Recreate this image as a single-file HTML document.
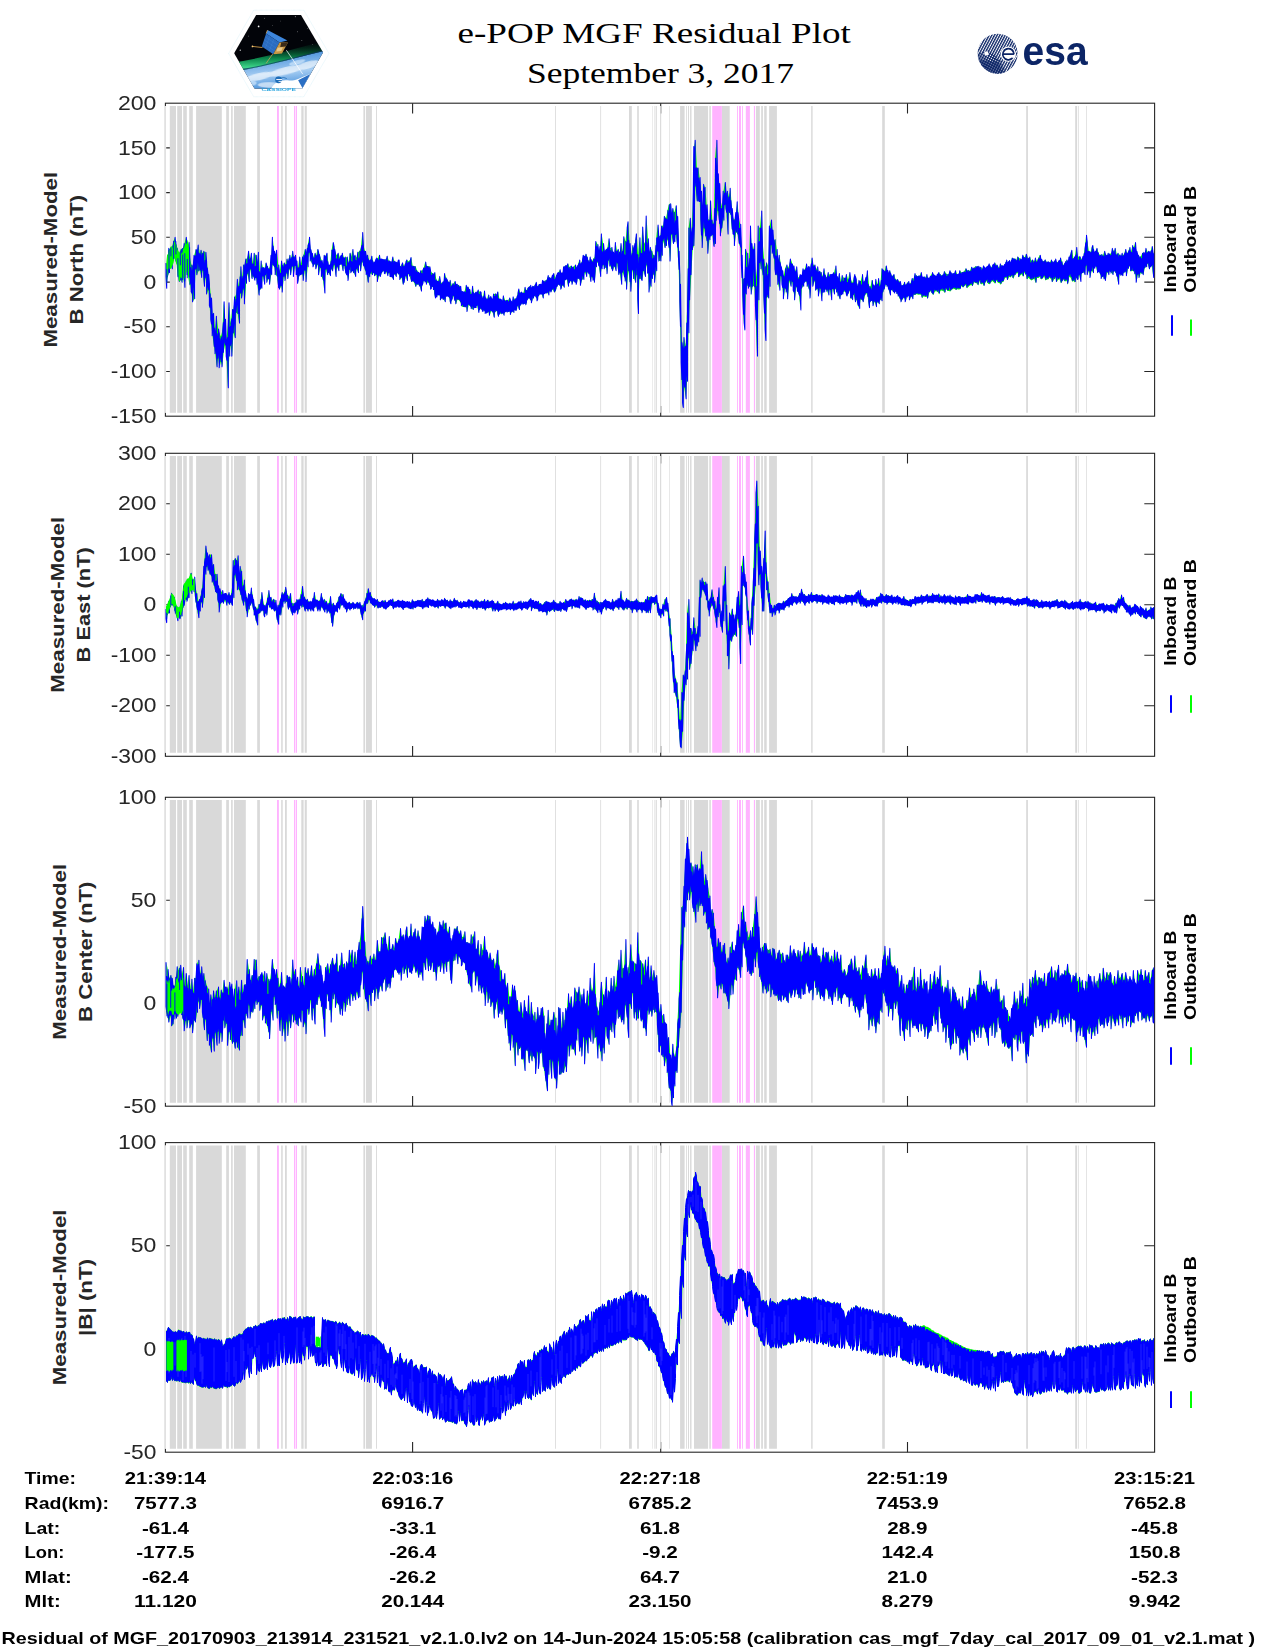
<!DOCTYPE html>
<html><head><meta charset="utf-8"><title>e-POP MGF Residual Plot</title>
<style>
html,body{margin:0;padding:0;background:#fff}
svg{display:block}
text{font-family:"Liberation Sans",sans-serif}
.tk{fill:#262626}
.b{font-weight:bold}
.ser{font-family:"Liberation Serif",serif}
</style></head><body>
<svg width="1275" height="1650" viewBox="0 0 1275 1650">
<rect width="1275" height="1650" fill="#fff"/>
<text x="654.2" y="42.7" font-size="28.5" text-anchor="middle" class="ser" textLength="393.3" lengthAdjust="spacingAndGlyphs">e-POP MGF Residual Plot</text>
<text x="660.5" y="82.8" font-size="28.5" text-anchor="middle" class="ser" textLength="267" lengthAdjust="spacingAndGlyphs">September 3, 2017</text>
<defs>
<clipPath id="hexc"><polygon points="150,512 385,105 860,105 1095,505 872,890 368,890"/></clipPath>
<linearGradient id="aur" x1="0" y1="0" x2="0" y2="1"><stop offset="0" stop-color="#003a20" stop-opacity="0"/><stop offset="0.55" stop-color="#0d9a55" stop-opacity="0.85"/><stop offset="0.85" stop-color="#3fd68a"/><stop offset="1" stop-color="#0a3050"/></linearGradient>
<linearGradient id="earth" x1="0" y1="0" x2="0.25" y2="1"><stop offset="0" stop-color="#2a72c8"/><stop offset="0.3" stop-color="#5e9fe0"/><stop offset="0.65" stop-color="#a4ccf2"/><stop offset="1" stop-color="#4f95dc"/></linearGradient>
<clipPath id="esac"><circle cx="997.6" cy="53.7" r="20"/></clipPath>
<pattern id="esah" width="2.35" height="2.35" patternUnits="userSpaceOnUse" patternTransform="rotate(-62 997 54)"><rect width="2.35" height="1.35" fill="#0c2566"/></pattern>
<pattern id="esah2" width="2.35" height="2.35" patternUnits="userSpaceOnUse" patternTransform="rotate(28 997 54)"><rect width="2.35" height="1.0" fill="#0c2566"/></pattern>
</defs>
<g id="cassiope" transform="translate(220 5) scale(0.094118)">
<polygon points="92,515 358,55 890,55 1158,515 890,975 358,975" fill="#fff" stroke="#bfe6f2" stroke-width="4.5" stroke-dasharray="8 5"/>
<g clip-path="url(#hexc)">
<rect x="140" y="100" width="970" height="800" fill="#020409"/>
<path d="M140,612 Q430,565 700,492 T1110,385 L1110,490 Q900,530 700,592 T140,712 Z" fill="url(#aur)"/>
<path d="M140,712 Q430,660 700,590 T1110,488 L1110,900 L140,900 Z" fill="url(#earth)"/>
<path d="M140,705 Q430,655 700,585 T1110,482" fill="none" stroke="#0b2f66" stroke-width="9" opacity="0.8"/>
<g fill="#fff" opacity="0.62"><ellipse cx="420" cy="760" rx="150" ry="38" transform="rotate(-12 420 760)"/><ellipse cx="700" cy="700" rx="190" ry="40" transform="rotate(-14 700 700)"/><ellipse cx="930" cy="640" rx="130" ry="38" transform="rotate(-16 930 640)"/><ellipse cx="520" cy="850" rx="120" ry="30"/></g>
<g fill="#dff0ff" opacity="0.6"><ellipse cx="330" cy="830" rx="60" ry="30"/><ellipse cx="820" cy="610" rx="90" ry="22" transform="rotate(-15 820 610)"/></g>
<path d="M540,900 C560,830 640,790 720,800 C790,808 820,790 960,730 L880,900 Z" fill="#fff"/>
<polygon points="830,800 960,732 880,890" fill="#2a6fc4"/>
<g fill="#fff"><circle cx="410" cy="228" r="9"/><circle cx="215" cy="480" r="6"/><circle cx="800" cy="125" r="5"/><circle cx="822" cy="285" r="4"/><circle cx="870" cy="375" r="4"/><circle cx="470" cy="140" r="3.5"/><circle cx="300" cy="330" r="3.5"/><circle cx="930" cy="250" r="3.5"/><circle cx="640" cy="170" r="3"/><circle cx="980" cy="420" r="3"/><circle cx="560" cy="215" r="3"/></g>
<path d="M705,480 L880,735" stroke="#fff" stroke-width="9" opacity="0.85"/>
<path d="M345,440 L452,452" stroke="#d8a24c" stroke-width="9"/><circle cx="345" cy="440" r="9" fill="#ffcf7a"/>
<path d="M560,520 L490,620" stroke="#c9a45c" stroke-width="8"/>
<polygon points="505,266 716,376 632,398 490,302" fill="#3d86dc"/>
<polygon points="490,302 632,398 566,522 444,440" fill="#2b6cc0"/>
<g stroke="#5a9be6" stroke-width="3" opacity="0.7"><path d="M478,335 L615,428"/><path d="M466,368 L598,458"/><path d="M455,402 L582,490"/><path d="M530,330 L480,462"/><path d="M575,360 L520,492"/></g>
<polygon points="632,398 722,398 658,516 566,522" fill="#c99846"/>
<polygon points="650,402 722,398 700,442 640,446" fill="#3a2a18"/>
<polygon points="612,455 668,450 652,490 598,494" fill="#e9c98a"/>
<path d="M490,302 L505,266" stroke="#d8a24c" stroke-width="8"/>
</g>
<circle cx="622" cy="795" r="36" fill="#1e6db8"/><rect x="598" y="787" width="60" height="10" fill="#fff"/><path d="M640,778 q40,-18 70,4" stroke="#1e6db8" stroke-width="8" fill="none"/><path d="M622,812 h40" stroke="#fff" stroke-width="9"/>
<text x="440" y="914" font-size="44" font-weight="bold" fill="#2aa6e0" textLength="366" lengthAdjust="spacingAndGlyphs" style="font-family:'Liberation Sans',sans-serif">CASSIOPE</text>
</g>
<g id="esa">
<g clip-path="url(#esac)">
<rect x="977" y="33" width="42" height="42" fill="url(#esah)"/>
<path d="M977.6,53.7 A20,20 0 0 0 1006,72 L1000,60 L988,50 Z" fill="url(#esah2)"/>
<path d="M979,60 A20,20 0 0 0 1003,73 L998,62 Z" fill="#0c2566" opacity="0.55"/>
</g>
<circle cx="1008.3" cy="54.1" r="7.7" fill="#fff"/>
<path d="M1013.9,54.2 H1002.8 M1014.0,54.2 A5.6,5.6 0 1 0 1012.4,58.2" stroke="#0c2566" stroke-width="1.7" fill="none"/>
<path d="M1004.2,58.6 q4.2,2.6 9,-0.6 M1003.4,50.2 q5,-3.4 10,0" stroke="#0c2566" stroke-width="0.8" fill="none"/>
<circle cx="986.4" cy="53.4" r="2.1" fill="#fff"/>
<text x="1022.6" y="65.2" font-size="41.5" font-weight="bold" fill="#0c2566" textLength="65" lengthAdjust="spacingAndGlyphs" style="font-family:'Liberation Sans',sans-serif">esa</text>
</g>
<g id="panel1">
<rect x="165.4" y="103.2" width="989.2" height="313" fill="none" stroke="#262626" stroke-width="1.1"/>
<text x="156.4" y="109.8" font-size="20.6" text-anchor="end" class="tk" textLength="38.5" lengthAdjust="spacingAndGlyphs">200</text>
<text x="156.4" y="154.5" font-size="20.6" text-anchor="end" class="tk" textLength="38.5" lengthAdjust="spacingAndGlyphs">150</text>
<text x="156.4" y="199.2" font-size="20.6" text-anchor="end" class="tk" textLength="38.5" lengthAdjust="spacingAndGlyphs">100</text>
<text x="156.4" y="243.9" font-size="20.6" text-anchor="end" class="tk" textLength="25.6" lengthAdjust="spacingAndGlyphs">50</text>
<text x="156.4" y="288.7" font-size="20.6" text-anchor="end" class="tk" textLength="12.8" lengthAdjust="spacingAndGlyphs">0</text>
<text x="156.4" y="333.4" font-size="20.6" text-anchor="end" class="tk" textLength="32.9" lengthAdjust="spacingAndGlyphs">-50</text>
<text x="156.4" y="378.1" font-size="20.6" text-anchor="end" class="tk" textLength="45.7" lengthAdjust="spacingAndGlyphs">-100</text>
<text x="156.4" y="422.8" font-size="20.6" text-anchor="end" class="tk" textLength="45.7" lengthAdjust="spacingAndGlyphs">-150</text>
<path d="M412.6 103.2v10.3M412.6 416.2v-10.3M660.7 103.2v10.3M660.7 416.2v-10.3M907.5 103.2v10.3M907.5 416.2v-10.3M165.4 147.9h10.3M1154.6 147.9h-10.3M165.4 192.6h10.3M1154.6 192.6h-10.3M165.4 237.3h10.3M1154.6 237.3h-10.3M165.4 282.1h10.3M1154.6 282.1h-10.3M165.4 326.8h10.3M1154.6 326.8h-10.3M165.4 371.5h10.3M1154.6 371.5h-10.3" stroke="#262626" stroke-width="1.1" fill="none"/>
<path d="M169.8 106H176V412.7H169.8ZM177.2 106H182V412.7H177.2ZM183.2 106H186.8V412.7H183.2ZM189.2 106H192.8V412.7H189.2ZM196.1 106H221.8V412.7H196.1ZM226.2 106H228.9V412.7H226.2ZM231.1 106H232.7V412.7H231.1ZM234 106H245.8V412.7H234ZM257.2 106H259.9V412.7H257.2ZM281.2 106H282.7V412.7H281.2ZM285 106H286.8V412.7H285ZM301.3 106H303.6V412.7H301.3ZM304.7 106H306.8V412.7H304.7ZM363.4 106H365V412.7H363.4ZM365.9 106H371.9V412.7H365.9ZM376 106H376.9V412.7H376ZM555.1 106H555.9V412.7H555.1ZM600.3 106H601.1V412.7H600.3ZM629 106H631.8V412.7H629ZM637.2 106H638.8V412.7H637.2ZM652.3 106H652.8V412.7H652.3ZM654.5 106H655.4V412.7H654.5ZM656 106H656.8V412.7H656ZM660.1 106H661.2V412.7H660.1ZM669.3 106H669.9V412.7H669.3ZM680.1 106H684.6V412.7H680.1ZM686 106H686.8V412.7H686ZM688 106H689V412.7H688ZM690.1 106H691.5V412.7H690.1ZM694 106H708.1V412.7H694ZM709.3 106H710.8V412.7H709.3ZM721.9 106H729.7V412.7H721.9ZM755.9 106H759.8V412.7H755.9ZM761.2 106H762.9V412.7H761.2ZM764.2 106H766.7V412.7H764.2ZM769.1 106H776.9V412.7H769.1ZM811.2 106H812.6V412.7H811.2ZM882.2 106H884.8V412.7H882.2ZM1026.2 106H1027.9V412.7H1026.2ZM1075.2 106H1077V412.7H1075.2ZM1077.9 106H1078.7V412.7H1077.9ZM1086.1 106H1086.8V412.7H1086.1Z" fill="#d9d9d9"/>
<path d="M277 106H278.9V412.7H277ZM294 106H295.2V412.7H294ZM295.8 106H297V412.7H295.8ZM712.2 106H721.9V412.7H712.2ZM737.1 106H738V412.7H737.1ZM739 106H741V412.7H739ZM742 106H742.9V412.7H742ZM745.8 106H749.9V412.7H745.8ZM753.9 106H755V412.7H753.9Z" fill="#ffb3ff"/>
<path d="M165.4 106V412.7" stroke="#fff" stroke-width="1.6"/>
<path d="M165.4 106V412.7" stroke="#d4d4d4" stroke-width="0.8"/>
<text x="57.5" y="259.7" font-size="18.4" text-anchor="middle" class="b" transform="rotate(-90 57.5 259.7)" fill="#262626" textLength="175.8" lengthAdjust="spacingAndGlyphs">Measured-Model</text>
<text x="83.1" y="259.7" font-size="18.4" text-anchor="middle" class="b" transform="rotate(-90 83.1 259.7)" fill="#262626" textLength="129.7" lengthAdjust="spacingAndGlyphs">B North (nT)</text>
<text x="1176" y="292.5" font-size="16" text-anchor="start" class="b" transform="rotate(-90 1176 292.5)" textLength="89" lengthAdjust="spacingAndGlyphs">Inboard B</text>
<text x="1196.3" y="292.7" font-size="16" text-anchor="start" class="b" transform="rotate(-90 1196.3 292.7)" textLength="106.8" lengthAdjust="spacingAndGlyphs">Outboard B</text>
<path d="M1172.0 315.2V335.8" stroke="#0000ff" stroke-width="2"/>
<path d="M1191 319.4V335.8" stroke="#00ff00" stroke-width="2"/>
<polygon points="166.3,263.1 167.7,265.5 169.1,248.6 170.5,249.3 171.9,247.5 173.3,241.4 174.7,237.4 176.1,245.1 177.5,248 178.9,252.6 180.3,266.2 181.7,248.5 183.1,247.9 184.5,243.2 185.9,237.5 187.3,246.9 188.7,242.8 190.1,258.5 191.5,265 192.9,265.9 194.3,255.3 195.7,249.6 197.1,251.4 198.5,245.3 199.9,254.2 201.3,250.1 202.7,253.4 204.1,251.5 205.5,252.5 206.9,261.9 208.3,274.5 209.7,284 211.1,297.9 212.5,313.7 213.9,313.6 215.3,332 216.7,316.1 218.1,328.9 219.5,333.5 220.9,336.6 222.3,330.8 223.7,301.8 225.1,319.4 226.5,339.6 227.9,324 229.3,302.9 230.7,323.3 232.1,309.7 233.5,309 234.9,297.1 236.3,293.7 237.7,279.6 239.1,286.4 240.5,267 241.9,280.2 243.3,265.1 244.7,264.5 246.1,259.3 247.5,257.4 248.9,251.5 250.3,259.1 251.7,253.4 253.1,263.9 254.5,253.2 255.9,255.3 257.3,264 258.7,252.5 260.1,274.2 261.5,261.2 262.9,267.7 264.3,269 265.7,263.1 267.1,265.8 268.5,269 269.9,266.5 271.3,255.2 272.7,237.5 274.1,251.5 275.5,255 276.9,250.5 278.3,265.1 279.7,271.9 281.1,261.2 282.5,266 283.9,263.1 285.3,265 286.7,258.9 288.1,261.5 289.5,255.3 290.9,259.6 292.3,251.5 293.7,257.3 295.1,255.4 296.5,261.2 297.9,268.9 299.3,257.3 300.7,265.3 302.1,257.3 303.5,255.3 304.9,249.6 306.3,252.3 307.7,245.6 309.1,237.5 310.5,247.8 311.9,253.4 313.3,257.6 314.7,253.4 316.1,256.1 317.5,249.1 318.9,251.9 320.3,257.1 321.7,260.3 323.1,265.3 324.5,255 325.9,255.7 327.3,253.4 328.7,265.5 330.1,265.1 331.5,250.5 332.9,242.8 334.3,246.4 335.7,253.4 337.1,255.4 338.5,253.4 339.9,257.5 341.3,255.8 342.7,253.4 344.1,258 345.5,257.3 346.9,257.3 348.3,263.8 349.7,253.4 351.1,256.7 352.5,249.6 353.9,257.1 355.3,255.4 356.7,257.8 358.1,252.2 359.5,251.1 360.9,247.7 362.3,232.4 363.7,246.1 365.1,251.2 366.5,255.7 367.9,255.1 369.3,260.6 370.7,259.7 372.1,255.9 373.5,262.8 374.9,262 376.3,258.3 377.7,258.8 379.1,255 380.5,259.3 381.9,259.3 383.3,259.8 384.7,259.5 386.1,259.5 387.5,256.4 388.9,261 390.3,261.8 391.7,261.5 393.1,257.3 394.5,261.4 395.9,262.3 397.3,262.8 398.7,260.2 400.1,266.7 401.5,264.7 402.9,263.1 404.3,266.6 405.7,261.6 407.1,260 408.5,261.5 409.9,260 411.3,257.4 412.7,266 414.1,265.9 415.5,266 416.9,270.1 418.3,271.9 419.7,273.2 421.1,270.5 422.5,270.6 423.9,266.9 425.3,261.7 426.7,266.1 428.1,266.1 429.5,266.2 430.9,271.2 432.3,273.3 433.7,273.7 435.1,272.7 436.5,280.1 437.9,281.4 439.3,276.6 440.7,281.7 442.1,283.2 443.5,282.1 444.9,273.8 446.3,278.1 447.7,280.6 449.1,282.8 450.5,280.6 451.9,285.8 453.3,283.8 454.7,281.5 456.1,284.6 457.5,284.4 458.9,285.5 460.3,286.1 461.7,291.4 463.1,292 464.5,291.7 465.9,285.4 467.3,287.1 468.7,288.1 470.1,289.8 471.5,294.3 472.9,286.4 474.3,294 475.7,292.2 477.1,292.3 478.5,290.3 479.9,292 481.3,292.4 482.7,298.4 484.1,290.8 485.5,297.9 486.9,299.8 488.3,294.6 489.7,298.5 491.1,296.4 492.5,299.6 493.9,294 495.3,293.7 496.7,294.6 498.1,291.9 499.5,299.1 500.9,299.1 502.3,300.9 503.7,295.8 505.1,300.2 506.5,299.9 507.9,300.8 509.3,298.1 510.7,300.3 512.1,302.6 513.5,297.1 514.9,299.2 516.3,298.8 517.7,292.9 519.1,289.3 520.5,292.9 521.9,292.3 523.3,293.3 524.7,287.4 526.1,290.6 527.5,288.5 528.9,287 530.3,285.5 531.7,288.2 533.1,286.4 534.5,285.8 535.9,282.5 537.3,287 538.7,284.7 540.1,284.5 541.5,284.9 542.9,280.6 544.3,281.3 545.7,280.4 547.1,279.1 548.5,275.8 549.9,277.9 551.3,278.1 552.7,274.9 554.1,273.8 555.5,278.2 556.9,274 558.3,272.6 559.7,269.9 561.1,273.2 562.5,273.3 563.9,266.9 565.3,265.5 566.7,265.6 568.1,263.4 569.5,267.2 570.9,265.8 572.3,267.3 573.7,266.8 575.1,264.7 576.5,267.9 577.9,264.8 579.3,260.1 580.7,264.2 582.1,260.4 583.5,255.2 584.9,256.3 586.3,254 587.7,257.7 589.1,263 590.5,257.3 591.9,261.4 593.3,258.7 594.7,257 596.1,241.5 597.5,244.2 598.9,251.3 600.3,246.2 601.7,233.9 603.1,243.7 604.5,250.7 605.9,249.6 607.3,248.4 608.7,238.9 610.1,248.1 611.5,247.6 612.9,252.1 614.3,254.3 615.7,242.8 617.1,251.4 618.5,249.5 619.9,252.4 621.3,243.5 622.7,251.7 624.1,237 625.5,241.5 626.9,227.2 628.3,221.9 629.7,243.7 631.1,256.1 632.5,245.7 633.9,248.4 635.3,240.3 636.7,233.3 638.1,255.1 639.5,237.8 640.9,253.3 642.3,226.9 643.7,241.3 645.1,243.9 646.5,215.8 647.9,238.8 649.3,252.7 650.7,247.4 652.1,251.2 653.5,255 654.9,255.9 656.3,237.6 657.7,224.9 659.1,236.5 660.5,235.5 661.9,225.8 663.3,225.5 664.7,216.1 666.1,218.3 667.5,210.3 668.9,204.5 670.3,203.2 671.7,213.1 673.1,208.4 674.5,212.6 675.9,205.6 677.3,216 678.7,237.8 680.1,274.5 681.5,335.2 682.9,348.3 684.3,337.8 685.7,346.3 687.1,307.9 688.5,228.2 689.9,218.5 691.3,234.1 692.7,204.7 694.1,146.8 695.5,140.5 696.9,168.1 698.3,168.1 699.7,177.8 701.1,191.4 702.5,207.6 703.9,184.6 705.3,187.5 706.7,204.9 708.1,219 709.5,219.9 710.9,200 712.3,219.9 713.7,223.7 715.1,158 716.5,139.6 717.9,173.3 719.3,183 720.7,201.3 722.1,206.8 723.5,191.1 724.9,182.5 726.3,193.4 727.7,191.4 729.1,197.1 730.5,188.4 731.9,208.7 733.3,218.3 734.7,219.4 736.1,212.7 737.5,202 738.9,218.4 740.3,224.4 741.7,246.5 743.1,279.1 744.5,278.7 745.9,249.6 747.3,253.4 748.7,268.8 750.1,226 751.5,243.5 752.9,249.9 754.3,243.7 755.7,279.6 757.1,267.8 758.5,226.3 759.9,228.2 761.3,211.2 762.7,242.3 764.1,259.3 765.5,267 766.9,263 768.3,266.2 769.7,225.7 771.1,219.5 772.5,229.2 773.9,240.7 775.3,238.9 776.7,248.9 778.1,261.3 779.5,255 780.9,264.9 782.3,270.5 783.7,275.9 785.1,268.2 786.5,264.9 787.9,268.2 789.3,264.9 790.7,258.7 792.1,263.1 793.5,265.9 794.9,272 796.3,267 797.7,276.5 799.1,277.8 800.5,274.8 801.9,275.3 803.3,269 804.7,270.1 806.1,264.1 807.5,268.3 808.9,266.6 810.3,268.2 811.7,258.3 813.1,264.5 814.5,265.1 815.9,269.5 817.3,267 818.7,272.5 820.1,271.6 821.5,272.8 822.9,276.6 824.3,269 825.7,275.9 827.1,277.3 828.5,272.8 829.9,275 831.3,274.8 832.7,274.4 834.1,272.8 835.5,266.1 836.9,276.8 838.3,278.4 839.7,273.8 841.1,282.3 842.5,275.4 843.9,278 845.3,278.4 846.7,274.3 848.1,280.1 849.5,272.2 850.9,279.3 852.3,282.7 853.7,277.9 855.1,274.8 856.5,279.6 857.9,287.6 859.3,280.6 860.7,281.3 862.1,274.8 863.5,282 864.9,280.2 866.3,277.3 867.7,270.4 869.1,286 870.5,286.5 871.9,279.7 873.3,284.9 874.7,286 876.1,279.5 877.5,284.4 878.9,278.4 880.3,285 881.7,268.2 883.1,270 884.5,271.6 885.9,265.7 887.3,270.5 888.7,273.1 890.1,270.9 891.5,275.4 892.9,275.7 894.3,274.8 895.7,279.8 897.1,279.6 898.5,281.1 899.9,281.6 901.3,285.3 902.7,285.7 904.1,282.5 905.5,285 906.9,283.2 908.3,281.5 909.7,284 911.1,282.1 912.5,278.2 913.9,278.5 915.3,273.7 916.7,275.9 918.1,276.1 919.5,276 920.9,272.8 922.3,277.1 923.7,276.9 925.1,278.1 926.5,274.8 927.9,278.2 929.3,278.2 930.7,275.8 932.1,272.8 933.5,274.5 934.9,275.6 936.3,276.3 937.7,274 939.1,272.4 940.5,274.5 941.9,275.5 943.3,274.5 944.7,270.9 946.1,273.4 947.5,274.6 948.9,273.6 950.3,270.9 951.7,273.8 953.1,273.8 954.5,272.9 955.9,270.9 957.3,274.5 958.7,274.2 960.1,270.4 961.5,272.4 962.9,271.9 964.3,271.2 965.7,268.2 967.1,270.6 968.5,270.1 969.9,270.9 971.3,266.9 972.7,268.7 974.1,267.4 975.5,266.3 976.9,266.4 978.3,266.4 979.7,267.9 981.1,267.3 982.5,268.8 983.9,266.1 985.3,268.5 986.7,267.2 988.1,265.9 989.5,264.1 990.9,267.9 992.3,265.6 993.7,264.5 995.1,263.1 996.5,265.3 997.9,266.1 999.3,268 1000.7,264.1 1002.1,265.9 1003.5,266.2 1004.9,264.6 1006.3,260.2 1007.7,262.8 1009.1,260.4 1010.5,262.9 1011.9,258.1 1013.3,258.4 1014.7,258.4 1016.1,260.4 1017.5,256.5 1018.9,257.9 1020.3,258.5 1021.7,259.9 1023.1,255.3 1024.5,257.5 1025.9,254.4 1027.3,256.9 1028.7,258.5 1030.1,257.3 1031.5,260.9 1032.9,260 1034.3,261.3 1035.7,257.9 1037.1,261.4 1038.5,257.8 1039.9,254.8 1041.3,258.9 1042.7,261.1 1044.1,261.2 1045.5,259.4 1046.9,262.6 1048.3,261.5 1049.7,262.7 1051.1,259.8 1052.5,261.7 1053.9,262.2 1055.3,259 1056.7,262.5 1058.1,261.8 1059.5,260.6 1060.9,258.3 1062.3,262 1063.7,265.7 1065.1,262 1066.5,260.2 1067.9,261.7 1069.3,257.2 1070.7,253 1072.1,250.3 1073.5,258.6 1074.9,256.4 1076.3,247.3 1077.7,256.3 1079.1,256.8 1080.5,257.2 1081.9,259.3 1083.3,256.7 1084.7,248.8 1086.1,235.4 1087.5,242.3 1088.9,251.5 1090.3,252.4 1091.7,247.7 1093.1,245.7 1094.5,252.3 1095.9,250.8 1097.3,248.6 1098.7,253.4 1100.1,255 1101.5,254.2 1102.9,255.7 1104.3,250.9 1105.7,254.3 1107.1,255.4 1108.5,253.2 1109.9,254.1 1111.3,253.1 1112.7,248.6 1114.1,252.1 1115.5,248.1 1116.9,255.3 1118.3,253.2 1119.7,254.8 1121.1,256.6 1122.5,253.4 1123.9,255.2 1125.3,249.6 1126.7,253.3 1128.1,252.1 1129.5,247.6 1130.9,252.4 1132.3,245.7 1133.7,247.6 1135.1,242.8 1136.5,251.5 1137.9,254.3 1139.3,256.7 1140.7,257 1142.1,253.4 1143.5,252.4 1144.9,253.5 1146.3,248.6 1147.7,252.3 1149.1,251.5 1150.5,251.7 1151.9,246.5 1153.3,252.8 1153.3,277.6 1151.9,265.6 1150.5,266.9 1149.1,268.9 1147.7,263.3 1146.3,267 1144.9,267.8 1143.5,274.6 1142.1,273.5 1140.7,272.9 1139.3,277.8 1137.9,274.5 1136.5,282.4 1135.1,274.2 1133.7,271.3 1132.3,270.7 1130.9,271.5 1129.5,266 1128.1,268.3 1126.7,275.8 1125.3,271.6 1123.9,272.4 1122.5,275.5 1121.1,275.1 1119.7,273.8 1118.3,284.1 1116.9,276.3 1115.5,272.4 1114.1,270.9 1112.7,274.4 1111.3,272.8 1109.9,271.1 1108.5,274.4 1107.1,272 1105.7,280.3 1104.3,278.9 1102.9,276.3 1101.5,278.4 1100.1,273.9 1098.7,271.6 1097.3,272.4 1095.9,266.1 1094.5,267.7 1093.1,272.4 1091.7,270.4 1090.3,277.3 1088.9,270.8 1087.5,274.4 1086.1,265.4 1084.7,274.4 1083.3,272.3 1081.9,273 1080.5,281.2 1079.1,274.7 1077.7,279.2 1076.3,277.7 1074.9,282.4 1073.5,280.9 1072.1,281.7 1070.7,277.7 1069.3,276.8 1067.9,284.8 1066.5,280.8 1065.1,281.5 1063.7,279.4 1062.3,281.4 1060.9,283.2 1059.5,279.3 1058.1,279.7 1056.7,282.3 1055.3,278 1053.9,279.7 1052.5,282.3 1051.1,279.2 1049.7,277.5 1048.3,279.4 1046.9,279.4 1045.5,280.6 1044.1,276.4 1042.7,278.6 1041.3,279.5 1039.9,276.7 1038.5,277.9 1037.1,277.9 1035.7,283.2 1034.3,279.1 1032.9,279.5 1031.5,280.5 1030.1,279.6 1028.7,277.8 1027.3,279.5 1025.9,275 1024.5,272.5 1023.1,276.9 1021.7,274.2 1020.3,275.4 1018.9,277.5 1017.5,272.7 1016.1,273.7 1014.7,275.5 1013.3,278.9 1011.9,275.7 1010.5,277.4 1009.1,276.7 1007.7,280.3 1006.3,277.6 1004.9,278.1 1003.5,281.7 1002.1,282.2 1000.7,284.7 999.3,282.9 997.9,282.8 996.5,280.5 995.1,283.7 993.7,282.3 992.3,280.9 990.9,282.4 989.5,284.3 988.1,283.8 986.7,281.1 985.3,283.1 983.9,286.3 982.5,283.6 981.1,284.5 979.7,281.1 978.3,285.4 976.9,283.4 975.5,282.9 974.1,282.3 972.7,286.2 971.3,285 969.9,285.6 968.5,286.8 967.1,288.3 965.7,285.1 964.3,286.2 962.9,287.5 961.5,286 960.1,289.3 958.7,289.6 957.3,289.2 955.9,290 954.5,289.1 953.1,288.8 951.7,289.7 950.3,291.5 948.9,291 947.5,291.1 946.1,288.9 944.7,292.9 943.3,291.1 941.9,290.4 940.5,290.7 939.1,294.2 937.7,291.9 936.3,291.2 934.9,291.4 933.5,295 932.1,293.8 930.7,291.1 929.3,292.4 927.9,298.7 926.5,296.7 925.1,296.9 923.7,296.3 922.3,298.2 920.9,294.8 919.5,294.6 918.1,294.7 916.7,294.1 915.3,295.1 913.9,294.5 912.5,298.7 911.1,296.1 909.7,299.6 908.3,295.6 906.9,296.8 905.5,301.7 904.1,297.7 902.7,299.1 901.3,301.8 899.9,299 898.5,296.2 897.1,293.6 895.7,291.4 894.3,293 892.9,291.3 891.5,289.6 890.1,294.8 888.7,289.7 887.3,286 885.9,284.2 884.5,288.8 883.1,292.2 881.7,300.6 880.3,299.7 878.9,303.5 877.5,301.9 876.1,306.4 874.7,301.5 873.3,305.4 871.9,300.5 870.5,301.3 869.1,307.5 867.7,297.1 866.3,292.9 864.9,295.7 863.5,302.2 862.1,300 860.7,299.2 859.3,308.6 857.9,305.4 856.5,299.9 855.1,301.6 853.7,294.2 852.3,299.4 850.9,297.9 849.5,290.5 848.1,294.3 846.7,296.2 845.3,292.1 843.9,291.2 842.5,294.2 841.1,295.1 839.7,299 838.3,295.6 836.9,292 835.5,288.6 834.1,293.9 832.7,288.4 831.3,299.6 829.9,289.2 828.5,294.8 827.1,291 825.7,289 824.3,291.8 822.9,292 821.5,300.6 820.1,288.1 818.7,295.7 817.3,288.7 815.9,289.9 814.5,280.7 813.1,286 811.7,275.9 810.3,297.7 808.9,288.9 807.5,286 806.1,280.9 804.7,281.9 803.3,286 801.9,287.9 800.5,309.7 799.1,295.2 797.7,291.4 796.3,286.5 794.9,299.6 793.5,291.5 792.1,281.4 790.7,286.1 789.3,280.9 787.9,298.9 786.5,291.9 785.1,287.9 783.7,298.6 782.3,287.2 780.9,275.8 779.5,289.9 778.1,284.1 776.7,274.6 775.3,274.4 773.9,258.1 772.5,253 771.1,244.8 769.7,286 768.3,297.7 766.9,296.9 765.5,340.5 764.1,313 762.7,274.7 761.3,268.6 759.9,262.5 758.5,299.7 757.1,355.9 755.7,319.7 754.3,286.6 752.9,286 751.5,293.8 750.1,286 748.7,288 747.3,285.2 745.9,293.8 744.5,329.7 743.1,314 741.7,277.4 740.3,246.9 738.9,243.4 737.5,234.1 736.1,231.9 734.7,245.3 733.3,234.2 731.9,229.2 730.5,214.5 729.1,212.3 727.7,233.7 726.3,212.1 724.9,204.4 723.5,220.1 722.1,227.8 720.7,235.6 719.3,223.4 717.9,210.4 716.5,220.1 715.1,243.3 713.7,246.3 712.3,234.5 710.9,235.6 709.5,239.5 708.1,253 706.7,240.5 705.3,235.8 703.9,227.9 702.5,247.2 701.1,234.8 699.7,201.4 698.3,200.8 696.9,200.7 695.5,186.1 694.1,245.4 692.7,249.2 691.3,274.4 689.9,299.6 688.5,332.7 687.1,381.1 685.7,398.5 684.3,386.9 682.9,407.3 681.5,379.3 680.1,326.2 678.7,269.2 677.3,247.3 675.9,234.3 674.5,242 673.1,244 671.7,234 670.3,261.7 668.9,247.9 667.5,239.6 666.1,245.5 664.7,247.4 663.3,241.1 661.9,255.1 660.5,260.9 659.1,261 657.7,251 656.3,270.5 654.9,282.1 653.5,274.1 652.1,278.3 650.7,286 649.3,291.8 647.9,272.9 646.5,264.7 645.1,276.3 643.7,270.5 642.3,280.2 640.9,279 639.5,278.4 638.1,313.2 636.7,274.4 635.3,282.1 633.9,278.3 632.5,269.8 631.1,290.9 629.7,281.4 628.3,270.5 626.9,289 625.5,280.9 624.1,276.5 622.7,272.1 621.3,284.3 619.9,272.9 618.5,274.4 617.1,262.8 615.7,270.5 614.3,266.2 612.9,270.5 611.5,268.8 610.1,265.7 608.7,259.9 607.3,273.4 605.9,267.4 604.5,268.6 603.1,264.5 601.7,268.6 600.3,276.3 598.9,266 597.5,261.9 596.1,266.9 594.7,282.2 593.3,279.9 591.9,276.6 590.5,281.2 589.1,273.5 587.7,272.1 586.3,276.3 584.9,271.9 583.5,279.2 582.1,279.4 580.7,285.1 579.3,278.9 577.9,278.3 576.5,284.1 575.1,281.9 573.7,280.8 572.3,284.1 570.9,280.8 569.5,282.5 568.1,286 566.7,279.1 565.3,279.6 563.9,287.1 562.5,285.2 561.1,289.2 559.7,285.3 558.3,284.5 556.9,286.8 555.5,291.4 554.1,292.3 552.7,289.3 551.3,291.7 549.9,290.7 548.5,294.8 547.1,292.5 545.7,292.9 544.3,293.5 542.9,297.7 541.5,294 540.1,293.9 538.7,295.5 537.3,300.6 535.9,297 534.5,295.7 533.1,297.9 531.7,302.6 530.3,299.8 528.9,297.8 527.5,299.5 526.1,304.5 524.7,303.4 523.3,303.9 521.9,303.4 520.5,305.3 519.1,309.4 517.7,305.7 516.3,310.3 514.9,309.7 513.5,312.2 512.1,311.6 510.7,314.2 509.3,311.3 507.9,311.7 506.5,311.6 505.1,311.9 503.7,315.1 502.3,313.1 500.9,313.5 499.5,314.1 498.1,316.3 496.7,310.7 495.3,311.9 493.9,317.3 492.5,312.1 491.1,310.9 489.7,315.7 488.3,312 486.9,312.8 485.5,313.2 484.1,310.2 482.7,311.1 481.3,309 479.9,309.2 478.5,312.2 477.1,305.2 475.7,307.2 474.3,307.7 472.9,309.5 471.5,308.5 470.1,306 468.7,305 467.3,311.5 465.9,306.8 464.5,307.1 463.1,306.9 461.7,306.4 460.3,301.9 458.9,300.3 457.5,299.4 456.1,303.9 454.7,300.5 453.3,296.1 451.9,300.2 450.5,303.7 449.1,297.4 447.7,296.1 446.3,296 444.9,301.5 443.5,299.2 442.1,297.9 440.7,299.6 439.3,294.7 437.9,294.9 436.5,296.7 435.1,297.7 433.7,289.3 432.3,286.3 430.9,288.9 429.5,284.8 428.1,281.9 426.7,284.1 425.3,281.7 423.9,280.5 422.5,284.9 421.1,290.9 419.7,285.9 418.3,284.5 416.9,284.4 415.5,286.9 414.1,282.5 412.7,281.1 411.3,281.9 409.9,276.7 408.5,273.8 407.1,280.6 405.7,276.1 404.3,282.5 402.9,284.3 401.5,277.6 400.1,279.5 398.7,273.9 397.3,272.8 395.9,276.3 394.5,274 393.1,279.2 391.7,276.9 390.3,276.4 388.9,272.6 387.5,275.4 386.1,271.7 384.7,273.5 383.3,270.7 381.9,272.4 380.5,276.4 379.1,275.7 377.7,281.5 376.3,274.8 374.9,275.9 373.5,272.9 372.1,275 370.7,273.1 369.3,276.7 367.9,282.2 366.5,274.4 365.1,270 363.7,266.1 362.3,261.8 360.9,270.5 359.5,264.6 358.1,272.4 356.7,268.8 355.3,276.3 353.9,272.5 352.5,270.8 351.1,272.4 349.7,269.3 348.3,280.3 346.9,274.7 345.5,272.9 344.1,265.3 342.7,270.5 341.3,264.1 339.9,264.3 338.5,270.5 337.1,266.8 335.7,276.3 334.3,264.7 332.9,270.5 331.5,268.9 330.1,275.7 328.7,272.6 327.3,274.8 325.9,269.3 324.5,293.2 323.1,280.5 321.7,276.4 320.3,267.4 318.9,274.5 317.5,264.4 316.1,268.6 314.7,263.7 313.3,266.6 311.9,263.1 310.5,260.8 309.1,252.6 307.7,266.7 306.3,281.2 304.9,270.1 303.5,280.2 302.1,274.1 300.7,274.4 299.3,275.8 297.9,283.1 296.5,274.4 295.1,265.4 293.7,276.3 292.3,265.9 290.9,274.4 289.5,268.8 288.1,278.3 286.7,273.1 285.3,280.2 283.9,276 282.5,291.8 281.1,285.7 279.7,288.9 278.3,287.5 276.9,275.9 275.5,274.4 274.1,266.4 272.7,264.7 271.3,274.4 269.9,284.1 268.5,278.6 267.1,282.1 265.7,274.6 264.3,284.1 262.9,275.8 261.5,288.3 260.1,289.5 258.7,294.8 257.3,284.1 255.9,277.4 254.5,280 253.1,275.9 251.7,278.3 250.3,269 248.9,281.2 247.5,273.4 246.1,283.3 244.7,304.1 243.3,289.4 241.9,298.1 240.5,293.2 239.1,323.2 237.7,313.7 236.3,312.8 234.9,338.1 233.5,332.8 232.1,356.1 230.7,345.3 229.3,355.9 227.9,387.5 226.5,360 225.1,344.7 223.7,352 222.3,366.5 220.9,361.4 219.5,367.5 218.1,358 216.7,366.7 215.3,353.8 213.9,346.4 212.5,335.7 211.1,324.1 209.7,307.6 208.3,290 206.9,294.1 205.5,277.9 204.1,286.1 202.7,270.3 201.3,277.5 199.9,270 198.5,271.2 197.1,274.8 195.7,269.3 194.3,298.8 192.9,301.9 191.5,293.5 190.1,284.4 188.7,268.5 187.3,274.4 185.9,266.7 184.5,287 183.1,267.3 181.7,282.1 180.3,279.8 178.9,281.2 177.5,265.1 176.1,261 174.7,253.8 173.3,252.8 171.9,268.7 170.5,259.7 169.1,272.4 167.7,276.6 166.3,288" fill="#00ff00"/>
<path d="M166 262.9V276.2L166.7 288.2V264L167.4 267.3V276.8L168.1 272.7V265.3L168.8 248.4V267.8L169.5 272.6V252.2L170.2 249.1V259.7L170.9 259.9V252L171.6 247.4V259.1L172.3 268.8V250.7L173 245.9V253L173.7 251.4V241.6L174.4 241.3V251.7L175.1 253.6V237.3L175.8 245.3V261L176.5 259.7V249.8L177.2 248.5V261.5L177.9 265.2V256.8L178.6 253.2V271L179.3 281.4V262.8L180 267.7V278L180.7 280V266.5L181.4 249.4V270.5L182.1 282.3V255.3L182.8 248.4V264.6L183.5 267.5V251.6L184.2 243.5V264.4L184.9 287.2V252.4L185.6 250.3V266.9L186.3 266.2V237.3L187 246.7V274.6L187.7 266.8V251.7L188.4 247V264.1L189.1 268.4V242.6L189.8 258.4V284.3L190.5 281.8V267.6L191.2 274.6V291.8L191.9 293.1V264.9L192.6 276.2V301.7L193.3 285.2V266L194 255.2V278.9L194.7 298.8V256.7L195.4 255.9V268.9L196.1 267.6V249.4L196.8 251.3V274.6L197.5 261.5V251.2L198.2 245.1V256.9L198.9 270.7V253.1L199.6 254.2V262.1L200.3 269.9V259.9L201 250.3V268.1L201.7 277.5V259.1L202.4 253.4V267.1L203.1 270.5V258.5L203.8 251.3V276.6L204.5 286.2V266.5L205.2 260.3V277.8L205.9 271.3V252.3L206.6 261.7V294L207.3 283.1V267.9L208 274.6V286.4L208.7 290V274.6L209.4 283.9V305.6L210.1 307.7V293.7L210.8 307.1V319.4L211.5 323.9V297.9L212.2 313.8V335.7L212.9 327.2V315.9L213.6 313.4V337.5L214.3 346.4V328L215 334.4V353.6L215.7 346.6V331.9L216.4 316.3V352.6L217.1 366.7V333.6L217.8 338.5V358.2L218.5 351.5V328.9L219.2 333.6V367.7L219.9 354.4V338.7L220.6 343.5V356.2L221.3 361.6V336.7L222 344.5V366.7L222.7 346V330.8L223.4 322.5V352.2L224.1 326.4V301.7L224.8 323.5V342.5L225.5 344.9V319.2L226.2 339.4V356.1L226.9 360.2V342.4L227.6 337.5V353.2L228.3 387.7V323.8L229 302.7V333.1L229.7 356.1V328.1L230.4 326.4V345.4L231.1 340.9V323.1L231.8 318.9V356.1L232.5 327.2V309.5L233.2 311.2V332.8L233.9 320V308.8L234.6 296.9V320.6L235.3 337.6V306.5L236 299.3V312.3L236.7 304.2V293.5L237.4 279.4V297.9L238.1 313.4V290.4L238.8 286.2V308L239.5 323.1V289.4L240.2 276.9V293L240.9 291.6V266.8L241.6 281.9V297.9L242.3 291.1V280L243 276.3V289.1L243.7 285.3V264.9L244.4 268.5V303.7L245.1 275.1V264.3L245.8 259.1V272.6L246.5 283.3V263.9L247.2 263.8V273.6L247.9 268.5V257.2L248.6 251.3V270L249.3 281.4V260.5L250 258.9V269.2L250.7 267.9V258.9L251.4 253.2V267.9L252.1 278.5V264L252.8 264V271.5L253.5 276.1V267.8L254.2 253.2V276.8L254.9 280.2V267.1L255.6 266.2V277L256.3 277.6V255.2L257 267.7V284.3L257.7 280.1V263.8L258.4 252.3V285.3L259.1 295V271.5L259.8 274V289.6L260.5 287.9V275.6L261.2 261V285.6L261.9 288.2V268.6L262.6 267.7V276L263.3 275.9V267.5L264 268.8V277.8L264.7 284.3V269.6L265.4 267.5V274.8L266.1 271.3V262.9L266.8 265.6V282.3L267.5 273.2V266.4L268.2 271.2V278.8L268.9 278.6V268.8L269.6 269.9V284.3L270.3 273.2V266.3L271 255.2V271.1L271.7 274.6V255L272.4 237.3V259.8L273.1 264.9V246.1L273.8 252.3V263.7L274.5 266.6V251.3L275.2 254.8V274.6L275.9 264.5V256.8L276.6 250.3V266.1L277.3 276.1V267.6L278 270.3V279.8L278.7 287.7V264.9L279.4 271.7V289.1L280.1 286.2V273.4L280.8 273.2V284.8L281.5 285.8V261L282.2 265.8V292L282.9 274.1V265.8L283.6 268.9V276.2L284.3 274.3V262.9L285 267V280.4L285.7 271.4V264.8L286.4 264.6V270.4L287.1 273.3V259.1L287.8 263.8V278.5L288.5 268.5V261.9L289.2 258.7V266.5L289.9 269V255.2L290.6 261.6V274.6L291.3 266.8V259.5L292 257.2V266.1L292.7 265.3V251.3L293.4 257.5V276.5L294.1 266.6V257.1L294.8 258.4V265.6L295.5 265.4V255.2L296.2 261.9V274.6L296.9 274.4V261L297.6 271V283.3L298.3 278.6V268.7L299 267.4V276L299.7 271.7V257.1L300.4 265.1V274.6L301.1 273.5V265.8L301.8 265.6V274.3L302.5 272.2V257.1L303.2 259.4V280.4L303.9 267.3V255.1L304.6 256.8V269.7L305.3 270.3V249.4L306 258.3V281.4L306.7 259.8V252.1L307.4 248.4V257.6L308.1 266.8V245.4L308.8 243.3V252.8L309.5 249.9V237.3L310.2 247.6V261L310.9 255.8V249.7L311.6 253.5V258.8L312.3 263.3V253.2L313 257.4V266.8L313.7 263.9V259L314.4 257.8V263.9L315.1 262.5V253.2L315.8 256.5V268.8L316.5 265.6V256.3L317.2 255.1V264.5L317.9 261V249.4L318.6 252.4V274.6L319.3 263.3V254.4L320 257.3V265.5L320.7 267.5V261L321.4 261.4V276.5L322.1 269.1V260.5L322.8 265.4V274.8L323.5 280.1V266.5L324.2 255.2V282.2L324.9 293V256.2L325.6 257.3V269.2L326.3 268.1V255.6L327 253.2V266.9L327.7 274.6V261.5L328.4 265.3V272.5L329.1 271V266.1L329.8 264.9V273.6L330.5 275.6V265.1L331.2 261.1V269.1L331.9 263.8V250.3L332.6 250.1V270.7L333.3 254.3V242.6L334 246.2V264.9L334.7 260.2V249.3L335.4 253.2V268.5L336.1 276.5V259.1L336.8 258.7V267L337.5 264.1V255.2L338.2 253.2V267.1L338.9 270.7V259.8L339.6 258.7V264.5L340.3 264.4V257.3L341 255.6V261.9L341.7 264.3V257.7L342.4 253.2V263L343.1 270.7V257.9L343.8 257.8V265.4L344.5 265.5V259.9L345.2 257.1V268.3L345.9 273.1V265.8L346.6 267.8V274.8L347.3 274.8V257.1L348 265.5V280.4L348.7 272.2V263.6L349.4 261.3V269.5L350.1 263.1V253.2L350.8 256.5V272.6L351.5 270.2V261.5L352.2 262.6V271L352.9 270.1V249.4L353.6 259.6V272.6L354.3 266V256.9L355 255.2V272.9L355.7 276.5V260.2L356.4 261.2V268.9L357.1 266.8V257.8L357.8 252.3V267.5L358.5 272.6V259.9L359.2 257.9V264.8L359.9 262.8V251.3L360.6 251.9V270.7L361.3 261.4V248L362 245.4V262L362.7 257.1V232.5L363.4 246.4V264.9L364.1 266.1V250.9L364.8 252.2V266.8L365.5 270.1V251.3L366.2 255.9V274.6L366.9 273.1V258.8L367.6 255.2V275.1L368.3 282.3V259L369 262.2V274.6L369.7 276.7V260.9L370.4 260V273.1L371.1 271V260.4L371.8 256.2V268.9L372.5 274.6V260.7L373.2 262.9V272.5L373.9 272.6V263.4L374.6 262.1V275.6L375.3 272.9V261.9L376 259V273.8L376.7 274.4V258.1L377.4 258.7V281.4L378.1 272.6V259.6L378.8 261.5V275.4L379.5 272.7V255.2L380.2 260.5V276.5L380.9 273.8V259.3L381.6 259.1V272.6L382.3 270.8V259.3L383 260.4V270.9L383.7 269.8V259.6L384.4 261V273.6L385.1 273.7V259.3L385.8 263V271.9L386.5 270.2V259.3L387.2 256.2V271.2L387.9 275.6V260.7L388.6 263.5V272.8L389.3 271.5V260.8L390 263.8V276.4L390.7 276.6V261.6L391.4 263.4V275.9L392.1 277.1V261.3L392.8 257.1V276.1L393.5 279.4V264.5L394.2 261.2V274.2L394.9 273.2V261.7L395.6 262.1V273.7L396.3 276.4V262.3L397 263.8V273L397.7 271.2V262.6L398.4 260.1V273.9L399.1 273.3V260L399.8 267.5V279.4L400.5 276.6V266.5L401.2 267.5V277.4L401.9 275.9V264.6L402.6 262.9V278.3L403.3 284.3V266.2L404 267.4V282.5L404.7 278.1V266.4L405.4 263.8V275.5L406.1 275.8V261.6L406.8 260V276L407.5 280.4V263.6L408.2 262.7V273.3L408.9 273.6V261.9L409.6 262.7V275.9L410.3 274.7V260.7L411 257.5V278.2L411.7 281.4V265.8L412.4 266.7V280.9L413.1 280V266.7L413.8 266.3V280.7L414.5 282.2V268.7L415.2 266.8V278.9L415.9 286.2V272.7L416.6 270.6V283.2L417.3 283.7V273.1L418 272.1V284.5L418.7 281.4V272.6L419.4 273.7V285.9L420.1 284.9V274.3L420.8 270.7V286.4L421.5 291.1V273.4L422.2 274.4V285.1L422.9 283.3V270.7L423.6 268.3V280.7L424.3 280.5V267.7L425 269.2V281.9L425.7 281V262L426.4 267.9V284.3L427.1 278.2V266.6L427.8 266.6V279.1L428.5 282.1V267.4L429.2 268.6V280.9L429.9 285V266.8L430.6 271.4V289.1L431.3 288.5V275L432 275.9V286.1L432.7 286.5V273.5L433.4 274.3V289.5L434.1 289.3V275.9L434.8 272.6V294L435.5 297.9V281L436.2 279.9V296.8L436.9 296.9V281.4L437.6 281.2V293.9L438.3 295.1V281.2L439 283.4V294.3L439.7 294.9V276.5L440.4 281.6V299.8L441.1 296.9V285L441.8 283.9V298L442.5 298.1V283L443.2 281.9V299.4L443.9 298.7V284.9L444.6 273.6V294.2L445.3 301.7V280.9L446 277.9V296L446.7 296.2V278.9L447.4 280.4V295.6L448.1 296.3V282L448.8 282.6V296.1L449.5 297.6V285.4L450.2 280.4V301.4L450.9 303.7V289L451.6 286.1V300.1L452.3 298.3V285.6L453 283.6V294.5L453.7 295.7V285.1L454.4 285.1V299.1L455.1 300.4V281.4L455.8 284.6V303.7L456.5 295.6V284.4L457.2 284.2V298.3L457.9 299.5V288.3L458.6 285.4V297.3L459.3 299.7V287.2L460 287V298.3L460.7 301.8V286.2L461.4 294.2V305.6L462.1 304.4V291.5L462.8 292V303L463.5 306.5V292L464.2 292.3V304.9L464.9 306.7V291.8L465.6 293.7V306.8L466.3 303.4V285.3L467 292.5V311.4L467.7 302V286.9L468.4 287.9V303.8L469.1 304.8V289.7L469.8 289.6V304.6L470.5 306V294.6L471.2 294.6V308.6L471.9 305.2V294.1L472.6 286.2V304.9L473.3 309.5V292.5L474 294.8V307L474.7 307.7V293.8L475.4 292.7V307.4L476.1 307.4V292L476.8 294.1V305.4L477.5 304.2V292.1L478.2 290.1V305.7L478.9 312.4V294L479.6 295.2V309.4L480.3 305.3V291.8L481 292.2V308L481.7 309.2V295.9L482.4 299.9V311.3L483.1 311.3V298.4L483.8 296.3V308.6L484.5 310.4V291.1L485.2 298.4V313.4L485.9 310.7V298L486.6 300.2V313L487.3 312.1V299.9L488 298.8V311.9L488.7 310.3V295L489.4 300.3V315.3L490.1 308.2V298.4L490.8 296.5V310.3L491.5 310.7V298.1L492.2 300.2V310.4L492.9 312V299.6L493.6 294V311.4L494.3 317.3V296.4L495 296.3V311.7L495.7 307.8V293.8L496.4 298.4V310.3L497.1 310.8V294.8L497.8 292V313.3L498.5 316.3V298.4L499.2 300.3V314.3L499.9 311.4V299L500.6 299.2V310.3L501.3 313.7V299.7L502 301.4V311.8L502.7 313.3V301.8L503.4 295.9V310.1L504.1 315.3V300.1L504.8 300.6V312.1L505.5 310.7V301.7L506.2 301.1V311.8L506.9 308.6V300.2L507.6 300.6V311.9L508.3 311.2V302.1L509 301.8V311.5L509.7 310.3V297.9L510.4 300.1V314.4L511.1 309.5V301L511.8 302.4V311.8L512.5 311V302.5L513.2 296.9V309.4L513.9 312.4V300L514.6 300.6V309.4L515.3 309.9V299L516 298.8V310.5L516.7 308.4V298.6L517.4 295.9V305.9L518.1 304V292.7L518.8 289.1V306.9L519.5 309.5V293.5L520.2 292.7V305.2L520.9 304.5V295.1L521.6 292.1V303.2L522.3 302.8V293.5L523 293.1V304.1L523.7 303.7V293.3L524.4 293.8V303.4L525.1 302.9V287.2L525.8 292.4V304.7L526.5 302V290.4L527.2 290.8V299.7L527.9 298.2V288.3L528.6 287.6V297.9L529.3 297.2V286.8L530 288.4V298.4L530.7 299.7V285.3L531.4 289.4V302.7L532.1 299.1V288L532.8 286.2V295.2L533.5 298.1V286.7L534.2 287.4V295.9L534.9 294.8V285.6L535.6 284.1V295.4L536.3 297.2V282.3L537 286.9V300.8L537.7 299.3V286.8L538.4 286.2V295.7L539.1 294.7V284.5L539.8 284.5V292.7L540.5 294.1V284.3L541.2 284.7V293L541.9 294.2V284.9L542.6 280.4V292.8L543.3 297.9V281.6L544 281.1V293.7L544.7 293.5V283.3L545.4 281.9V292.3L546.1 293.1V280.2L546.8 281.8V292.7L547.5 292V278.9L548.2 275.6V290.8L548.9 295V278.5L549.6 277.7V290.7L550.3 290.9V278.1L551 280.5V291.9L551.7 289V277.9L552.4 275.5V289.1L553.1 287.7V274.7L553.8 273.6V288.2L554.5 292V280L555.2 279V290.8L555.9 288.7V278L556.6 275.3V286.6L557.3 285.9V273.8L558 272.8V284.3L558.7 284.3V272.5L559.4 273.6V285.1L560.1 282.6V269.7L560.8 273.8V289.1L561.5 286.5V273L562.2 273.1V283.3L562.9 285.2V274.5L563.6 266.8V283L564.3 287.2V269.2L565 266.3V279.1L565.7 279.8V265.7L566.4 265.9V278.3L567.1 279.3V265.7L567.8 263.9V278.4L568.5 286.2V269.1L569.2 267.4V282.7L569.9 280.7V269.7L570.6 268.6V280.1L571.3 281V265.9L572 267.2V284.3L572.7 280.6V269.4L573.4 267V279L574.1 281V269.3L574.8 270.3V282L575.5 282.1V264.9L576.2 269.4V284.3L576.9 281.1V268.1L577.6 265.9V277.9L578.3 278.5V265.3L579 263.4V275.8L579.7 279.1V260L580.4 266.9V285.3L581.1 280.5V264L581.8 262.7V279.6L582.5 273.4V260.2L583.2 255.2V275.2L583.9 279.4V256.1L584.6 256.5V272.1L585.3 270.9V258.8L586 254.2V270.2L586.7 276.5V256.8L587.4 257.8V270L588.1 272.3V260.5L588.8 263.1V273.7L589.5 273.7V263L590.2 257.1V276.3L590.9 281.4V259.3L591.6 261.4V275L592.3 276.8V261.7L593 263.1V280.1L593.7 278.3V259.1L594.4 259.8V282.3L595.1 271.5V257.7L595.8 241.6V263.2L596.5 266.8V246.4L597.2 247.9V260.2L597.9 261.9V244.5L598.6 251.6V264.9L599.3 266.2V253.1L600 246.5V268.3L600.7 276.5V252.2L601.4 233.9V265.6L602.1 268.8V251.3L602.8 253.9V264.7L603.5 263.6V243.5L604.2 250.5V268.8L604.9 265V253.2L605.6 250.7V261.7L606.3 267.6V249.4L607 249.2V273.6L607.7 261.6V248.2L608.4 247.5V260.1L609.1 256.6V238.7L609.8 247.9V265.9L610.5 263.3V250.6L611.2 253.8V263.9L611.9 269V247.4L612.6 254.1V270.7L613.3 265.4V251.9L614 254.1V264.9L614.7 266.4V254.8L615.4 242.6V266L616.1 270.7V252L616.8 251.3V260.5L617.5 263V251.2L618.2 249.4V265.9L618.9 274.6V257L619.6 252.2V270.4L620.3 273V254.1L621 243.5V273.5L621.7 284.3V257L622.4 251.5V272.2L623.1 269.3V251.9L623.8 236.8V264L624.5 276.7V254.8L625.2 256.3V281L625.9 272.5V241.6L626.6 243.6V289.1L627.3 252.1V227.3L628 221.8V253.7L628.7 270.7V240.3L629.4 249.9V269.4L630.1 281.6V243.5L630.8 255.9V291.1L631.5 276.5V258.6L632.2 253.6V269L632.9 270V245.5L633.6 253.1V278.5L634.3 267.6V248.2L635 243.5V264.2L635.7 282.3V240.5L636.4 233.9V260.5L637.1 274.6V254.4L637.8 255.2V298.9L638.5 313.4V269.8L639.2 257.5V278.6L639.9 271.5V237.7L640.6 260.8V274.6L641.3 279.2V253.2L642 254.1V280.4L642.7 263.8V227.1L643.4 241.1V270.7L644.1 264.3V253.4L644.8 251.3V273.2L645.5 276.5V244.4L646.2 216V258.9L646.9 264.9V242.8L647.6 248.5V273.1L648.3 272.5V238.7L649 252.5V292L649.7 273.9V256.5L650.4 247.4V281.1L651.1 286.2V266.5L651.8 251.3V275.1L652.5 278.5V259.9L653.2 258.1V267.9L653.9 274.3V255.2L654.6 261.5V282.3L655.3 267.4V255.9L656 245.5V261.7L656.7 270.7V238.4L657.4 237.5V249.3L658.1 251.2V225.1L658.8 237.1V261L659.5 255.8V243.2L660.2 235.8V251.4L660.9 261V238.5L661.6 226.1V244.9L662.3 255.2V230.4L663 227.4V240.5L663.7 237.6V226.1L664.4 216.4V232.6L665.1 247.4V221.1L665.8 218.3V233.2L666.5 245.5V219.2L667.2 220.2V232L667.9 239.3V210.6L668.6 215.5V243.5L669.3 247.7V204.8L670 218.8V261L670.7 226.1V203.8L671.4 213.3V233.9L672.1 233.7V217.7L672.8 208.6V237.3L673.5 243.5V227.5L674.2 212.5V240.5L674.9 241.6V226.1L675.6 220.7V234.5L676.3 232.7V205.7L677 225.5V238.9L677.7 247.3V216.4L678.4 238.5V256.1L679.1 269.4V251.3L679.8 274.8V301.3L680.5 326.4V284.3L681.2 335.2V362.5L681.9 379.5V342.5L682.6 348.3V402.6L683.3 407.5V361.6L684 337.6V379.9L684.7 387.1V349.7L685.4 346.4V379.9L686.1 398.7V357L686.8 323.1V370L687.5 381.3V307.8L688.2 268.8V311.7L688.9 332.8V228L689.6 255.5V299.8L690.3 257V218.3L691 238.5V274.6L691.7 242.4V233.9L692.4 227.8V249.4L693.1 219.5V204.6L693.8 146.6V245.5L694.5 224.2V157.1L695.2 140.3V178.1L695.9 186.3V168.3L696.6 167.9V191.3L697.3 200.9V171.9L698 167.9V185.7L698.7 200.9V178L699.4 186.4V201.5L700.1 201.4V177.6L700.8 198.5V219.1L701.5 234.9V191.2L702.2 216V247.4L702.9 224.9V207.4L703.6 184.4V212.7L704.3 228V189.9L705 187.3V208.6L705.7 235.8V205.1L706.4 213.6V230.9L707.1 240.7V204.8L707.8 219.3V253.2L708.5 235.2V222.3L709.2 220.3V234.7L709.9 239.7V223.6L710.6 200.9V235.8L711.3 235.8V220.2L712 220.1V233.5L712.7 234.7V224.1L713.4 224.2V241L714.1 246.5V226.3L714.8 208.6V232.7L715.5 243.5V158.2L716.2 173.8V220.3L716.9 183.3V140.3L717.6 181.3V196.9L718.3 210.6V173.7L719 197.3V214.8L719.7 223.6V183.4L720.4 201.6V235.8L721.1 221.9V208.6L721.8 208.9V228L722.5 216.5V207.2L723.2 191.2V212.7L723.9 220.3V199.2L724.6 193V204.6L725.3 203.5V182.4L726 193.2V208.6L726.7 212.3V201L727.4 191.2V216.7L728.1 233.9V204.8L728.8 197V208.6L729.5 212.5V200.5L730.2 188.3V202.9L730.9 214.5V200.5L731.6 208.9V219.1L732.3 229.3V208.6L733 218.2V233.9L733.7 234.4V220.3L734.4 221.4V245.5L735.1 228.4V219.3L735.8 212.5V227.4L736.5 231.9V214L737.2 201.8V222L737.9 233.9V212.5L738.6 218.3V234L739.3 243.5V228.5L740 228.3V241.8L740.7 247.1V224.2L741.4 246.3V264.9L742.1 277.6V255.2L742.8 278.9V294L743.5 314.2V291.3L744.2 278.5V323.3L744.9 329.9V285.9L745.6 249.4V290L746.3 294V267.3L747 268.8V285.2L747.7 280V253.2L748.4 268.6V288.2L749.1 281.1V270.7L749.8 258.5V286.2L750.5 265.7V226.1L751.2 253.5V294L751.9 266.6V243.5L752.6 251.2V286.2L753.3 261V249.9L754 249.4V265.7L754.7 286.8V243.5L755.4 279.4V305.2L756.1 319.8V298.3L756.8 286.2V316.1L757.5 356.1V267.6L758.2 226.1V267.8L758.9 299.8V244L759.6 241.5V262.7L760.3 258.6V228L761 229.2V268.8L761.7 247.2V211L762.4 242.1V261L763.1 274.6V260.9L763.8 259.1V295.8L764.5 313.1V287.2L765.2 266.8V330L765.9 340.5V292.1L766.6 262.9V297.1L767.3 294V278L768 274.6V293L768.7 297.9V266.3L769.4 226.1V262.8L770.1 286.2V228.2L770.8 230.2V245L771.5 244.1V219.9L772.2 237.6V253.2L772.9 248.7V230L773.6 241.4V255.2L774.3 258.3V247.9L775 239.7V269.3L775.7 274.6V255.7L776.4 257V270.3L777.1 274.8V249.4L777.8 261.6V284.3L778.5 280.2V263.4L779.2 255.2V276.8L779.9 290.1V261.9L780.6 265.2V275L781.3 276V266.8L782 271.2V284.3L782.7 287.4V270.7L783.4 278.3V298.8L784.1 287.5V275.9L784.8 279.8V287.1L785.5 288.1V268.8L786.2 279.9V292L786.9 286.1V264.9L787.6 269V298.8L788.3 281.7V268.8L789 268.9V280.7L789.7 277.9V265.4L790.4 259.1V278.7L791.1 286.2V264.4L791.8 263.6V278.4L792.5 281.6V264.5L793.2 270.5V290.2L793.9 291.7V265.9L794.6 271.8V299.8L795.3 286.6V273.3L796 270.9V285.1L796.7 286.7V266.8L797.4 276.3V291.1L798.1 291.6V278.9L798.8 279.1V292.9L799.5 295.4V277.6L800.2 274.6V296.8L800.9 309.9V275.6L801.6 275.2V288.1L802.3 284.4V275.1L803 268.8V282.7L803.7 286.2V270.9L804.4 270.3V282.1L805.1 281.5V269.9L805.8 268.7V280.5L806.5 281.1V263.9L807.2 268.1V286.2L807.9 280.7V269.4L808.6 266.5V283.5L809.3 289.1V266.8L810 277.4V297.9L810.7 284.5V268.1L811.4 263.7V276.1L812.1 275.8V258.1L812.8 264.3V286.2L813.5 281.6V266.8L814.2 266.4V278.2L814.9 280.9V264.9L815.6 269.4V290.1L816.3 284.5V270.4L817 273.5V288.9L817.7 287.1V266.8L818.4 273.8V295.9L819.1 289.9V272.3L819.8 271.4V286.9L820.5 288.3V275.6L821.2 272.6V290L821.9 300.8V276.5L822.6 278.6V291.7L823.3 292.2V276.4L824 268.8V285.8L824.7 292V274.7L825.4 275.7V287.5L826.1 289.2V277.6L826.8 280.1V291.2L827.5 288.7V277.1L828.2 272.6V285.8L828.9 295V276.6L829.6 277.4V288L830.3 289.4V274.8L831 274.6V290.3L831.7 299.8V274.7L832.4 274.3V288.6L833.1 288.4V274.2L833.8 272.6V286.7L834.5 294V275.4L835.2 273.8V288.7L835.9 285.5V265.9L836.6 277.3V292L837.3 289.2V276.6L838 280.8V295.8L838.7 290.4V278.2L839.4 273.6V295.5L840.1 298.8V282.3L840.8 282.1V293.6L841.5 294.7V282.4L842.2 275.6V292.5L842.9 294V282.3L843.6 281.1V291.1L844.3 289.3V278L845 278.7V289.4L845.7 291.6V279.3L846.4 274.6V294.6L847.1 295.9V283.1L847.8 282.5V293.9L848.5 292.2V280.4L849.2 278.6V288.7L849.9 290.6V272.6L850.6 279.7V297.9L851.3 294.7V283L852 283.3V297.4L852.7 299.6V283.5L853.4 282.8V294.4L854.1 291.5V277.9L854.8 274.6V292.1L855.5 301.7V276.5L856.2 279.4V294.6L856.9 299.7V283.9L857.6 287.6V302.3L858.3 305.5V287.4L859 280.4V300.9L859.7 308.5V283.2L860.4 281.2V296.7L861.1 299.2V284.3L861.8 286.4V297L862.5 300V274.6L863.2 283.8V301.7L863.9 296V282.4L864.6 281.7V295.1L865.3 292.8V280.1L866 277.3V292.7L866.7 292.6V279.3L867.4 270.7V289.7L868.1 296.8V284.2L868.8 286.2V301.4L869.5 307.6V290.8L870.2 286.9V301.5L870.9 299.3V288.6L871.6 291.3V300.6L872.3 300.7V280.4L873 287.5V305.6L873.7 299.4V285.1L874.4 286.5V299.8L875.1 301.7V290.2L875.8 279.4V300.7L876.5 306.6V286.2L877.2 284.5V299.2L877.9 302.1V288.2L878.6 278.5V300.3L879.3 303.7V288.7L880 285.8V299.9L880.7 297.1V285.5L881.4 280.4V296.3L882.1 300.8V268.8L882.8 271.6V292L883.5 287.1V270.1L884.2 271.6V289L884.9 284.7V272L885.6 271V283.8L886.3 284.4V265.9L887 270.5V286.2L887.7 285.2V270.5L888.4 273.1V288.3L889.1 289.9V275.5L889.8 270.7V291.6L890.5 295V273.1L891.2 275.3V289.8L891.9 289.1V276.2L892.6 277.5V288.4L893.3 291.5V275.6L894 274.6V291.4L894.7 293V279.1L895.4 279.6V290.5L896.1 291.4V280.7L896.8 280.9V293.4L897.5 292.4V279.4L898.2 280.9V295.9L898.9 293.9V282.2L899.6 284.1V296.4L900.3 298.4V281.4L901 285.1V301.7L901.7 298.9V286.2L902.4 285.5V299L903.1 295.7V285.8L903.8 284.9V297L904.5 297.8V282.3L905.2 286V301.7L905.9 298.9V284.9L906.6 284.8V295.9L907.3 297V283L908 284.8V295.8L908.7 295V281.4L909.4 284.9V299.8L910.1 297.2V283.9L910.8 284.3V296.3L911.5 296.2V282.1L912.2 278.5V293.8L912.9 298.8V280.7L913.6 281.7V293.1L914.3 294.5V278.3L915 273.6V290.6L915.7 294V278.8L916.4 275.7V292.9L917.1 293.1V276.4L917.8 277.7V292.7L918.5 293.4V275.9L919.2 278.6V292.1L919.9 293.8V275.8L920.6 275.9V292.1L921.3 293.9V272.6L922 277.3V296.9L922.7 290.5V276.9L923.4 278.1V295.2L924.1 295V276.7L924.8 278.2V294.2L925.5 295.7V277.9L926.2 278V292.5L926.9 295.6V274.6L927.6 279.4V297.9L928.3 292.3V278L929 279.3V290.9L929.7 291.6V278L930.4 276.6V289.8L931.1 290.1V275.7L931.8 277.3V292.3L932.5 292.9V272.6L933.2 274.5V294L933.9 290.4V275L934.6 275.6V288.4L935.3 290V275.9L936 276.6V289.9L936.7 289.5V276.7L937.4 274.2V291.1L938.1 286.7V274.4L938.8 272.6V290.4L939.5 293V274.9L940.2 274.6V289.6L940.9 287V276.1L941.6 276.1V288.9L942.3 286.4V276.3L943 274.9V289.9L943.7 287.7V275.3L944.4 271.7V288.5L945.1 292V275.3L945.8 273.9V287.8L946.5 288V276.2L947.2 276.7V289.3L947.9 289.9V274.5L948.6 275.3V289.6L949.3 286.7V273.4L950 270.7V284.1L950.7 290.1V272.3L951.4 273.6V288.8L952.1 288.7V276.4L952.8 273.6V287.8L953.5 287.4V273.6L954.2 274V285.1L954.9 287.8V272.7L955.6 270.7V285.6L956.3 289.1V274.4L957 274.3V286.2L957.7 287.9V275.2L958.4 274.1V287.7L959.1 288.1V275.3L959.8 270.7V287.5L960.5 288.2V273.1L961.2 274.9V284.6L961.9 285V272.7L962.6 272.6V285.9L963.3 286.6V272.8L964 272.2V284.9L964.7 284.9V272L965.4 273.1V283.3L966.1 283.7V268.8L966.8 271.1V287.2L967.5 284V272.6L968.2 270.4V285.4L968.9 282.8V273.4L969.6 271.3V284.5L970.3 282.9V271.1L971 272.1V283.5L971.7 281.2V267.2L972.4 269V285.3L973.1 282.4V270.8L973.8 268.1V281.1L974.5 281.3V268.4L975.2 268.8V282L975.9 282V266.8L976.6 267.7V282.1L977.3 281.1V266.4L978 270.1V284.3L978.7 280.5V266.3L979.4 267.8V280.1L980.1 279.4V268.2L980.8 267.3V283.2L981.5 281.4V271.6L982.2 269.4V282L982.9 282.4V268.6L983.6 265.9V282.6L984.3 285.3V267.1L985 268.9V281.8L985.7 280.7V268.3L986.4 267.1V279.8L987.1 278.7V267L987.8 266.2V282.4L988.5 281.4V265.7L989.2 263.9V281.4L989.9 283.3V265.8L990.6 267.7V281.5L991.3 278V268L992 267.8V280L992.7 279.6V265.5L993.4 264.3V277.5L994.1 280.9V268.1L994.8 262.9V279.7L995.5 282.3V265.5L996.2 267.3V279.5L996.9 279V265.1L997.6 266.1V279.5L998.3 281.5V268.3L999 268.6V281.6L999.7 281.8V267.9L1000.4 263.9V280.9L1001.1 283.3V268.6L1001.8 265.7V279.8L1002.5 280.9V265.7L1003.2 266V280.7L1003.9 278.4V267.5L1004.6 264.4V276.7L1005.3 276.3V265.5L1006 262.2V276.7L1006.7 275.7V260L1007.4 264.4V279.4L1008.1 275.8V262.7L1008.8 261.5V275.4L1009.5 274.9V260.4L1010.2 263.5V276.1L1010.9 275.9V262.9L1011.6 260.2V274.8L1012.3 274.6V258.1L1013 261V277.5L1013.7 273.9V258.8L1014.4 260.3V274.2L1015.1 274.6V258.9L1015.8 261V272.7L1016.5 271.6V261.3L1017.2 260.1V271.7L1017.9 270.9V257.1L1018.6 258.7V276.5L1019.3 274.1V261.7L1020 260.5V274.3L1020.7 273.1V258.9L1021.4 260.3V273.2L1022.1 270.3V259.8L1022.8 255.2V272.6L1023.5 275.6V257.3L1024.2 257.4V271.2L1024.9 271.3V259.6L1025.6 257.7V273.9L1026.3 273.3V254.2L1027 256.7V278.5L1027.7 274.9V260L1028.4 258.3V275L1029.1 276.6V261L1029.8 257.1V274.3L1030.5 278.5V262.7L1031.2 263.2V275.8L1031.9 279.2V260.9L1032.6 260V274.8L1033.3 278.4V264.4L1034 262.1V277.6L1034.7 275.4V262.9L1035.4 258.1V275.2L1036.1 282.3V262.3L1036.8 262V276.5L1037.5 276.6V262.2L1038.2 259.4V275.2L1038.9 276.7V258.1L1039.6 259.5V275.1L1040.3 275.5V255.2L1041 260.6V278.5L1041.7 277.3V259.3L1042.4 262.2V277.8L1043.1 276.2V261.4L1043.8 262.8V275.3L1044.5 275.2V261.8L1045.2 260V274.2L1045.9 279.4V261.7L1046.6 263.3V275.3L1047.3 278.1V263L1048 261.9V278.2L1048.7 276.6V262L1049.4 263.8V276.2L1050.1 275.9V262.5L1050.8 265V277.8L1051.5 277.2V260L1052.2 265.4V281.4L1052.9 277.7V261.7L1053.6 264.3V274.8L1054.3 278.4V262L1055 260.9V275.4L1055.7 276.8V259.1L1056.4 262.4V281.4L1057.1 274.3V262.7L1057.8 263.3V277.5L1058.5 278.6V261.7L1059.2 260.4V276.2L1059.9 277.8V263.5L1060.6 258.1V277.7L1061.3 282.3V262.5L1062 261.8V280.4L1062.7 280V265L1063.4 266.6V278.4L1064.1 278.3V265.5L1064.8 263.4V280.6L1065.5 277V261.8L1066.2 263.7V279.4L1066.9 278.3V260L1067.6 261.5V283.3L1068.3 280V262.9L1069 257V275.5L1069.7 273.4V259.1L1070.4 255V272.6L1071.1 276.4V253L1071.8 250.3V274.1L1072.5 280.4V259.7L1073.2 258.6V280.1L1073.9 275.8V262.5L1074.6 257.1V279.1L1075.3 281.4V256.9L1076 255V274.4L1076.7 277.9V247.4L1077.4 256.5V279.4L1078.1 279V260L1078.8 260.2V274.9L1079.5 273.8V256.8L1080.2 257.1V275.9L1080.9 281.4V260.5L1081.6 260.1V273.2L1082.3 271.7V259.1L1083 256.5V272.5L1083.7 269.5V257.6L1084.4 253.2V271.2L1085.1 274.6V248.6L1085.8 242.8V265.6L1086.5 262.9V235.2L1087.2 242.1V274.6L1087.9 270.7V252L1088.6 251.3V269.8L1089.3 271V251.3L1090 255.1V277.5L1090.7 269.1V252.2L1091.4 252.1V270.6L1092.1 265.2V247.5L1092.8 245.5V264.9L1093.5 272.6V249.3L1094.2 254.2V267.9L1094.9 267.9V252.1L1095.6 251.3V265.6L1096.3 266.3V250.6L1097 248.4V266L1097.7 272.6V252.3L1098.4 253.2V271.6L1099.1 271.8V255.6L1099.8 256.4V271.2L1100.5 273.9V255.2L1101.2 258.7V278.5L1101.9 272.5V254.4L1102.6 257.7V276.5L1103.3 274.6V255.9L1104 258.5V278.8L1104.7 276.7V251.3L1105.4 254.6V280.4L1106.1 272.6V256.3L1106.8 255.4V271.3L1107.5 272V256.7L1108.2 253.2V268.8L1108.9 274.6V256.2L1109.6 254.1V269.2L1110.3 271.3V256.2L1111 255.4V273L1111.7 269V253.1L1112.4 248.4V268.3L1113.1 274.6V250.9L1113.8 255.2V271.1L1114.5 270.7V252.4L1115.2 248.4V269.4L1115.9 272.6V254.3L1116.6 256.1V274.7L1117.3 276.5V255.5L1118 253.2V278L1118.7 284.3V258.7L1119.4 255.6V274L1120.1 273.5V254.9L1120.8 258.2V275.3L1121.5 272.7V256.4L1122.2 253.2V274.4L1122.9 275.6V256.9L1123.6 255.7V272.3L1124.3 272.2V255L1125 253V270.7L1125.7 271.3V249.4L1126.4 253.1V275.6L1127.1 268.6V253.2L1127.8 254V267.5L1128.5 268.3V251.9L1129.2 250.5V265.7L1129.9 265.7V247.4L1130.6 253.6V270.7L1131.3 267.7V252.2L1132 253.2V269.9L1132.7 265.1V245.5L1133.4 250.2V270.7L1134.1 269.2V247.4L1134.8 249.3V273.8L1135.5 270.3V242.6L1136.2 251.9V282.3L1136.9 274.7V251.3L1137.6 254.1V274.3L1138.3 273.1V255.2L1139 256.5V277.5L1139.7 271.3V260.1L1140.4 256.8V272.2L1141.1 271.3V258.3L1141.8 259.7V273.3L1142.5 270.6V253.2L1143.2 255.7V274.6L1143.9 265.3V252.3L1144.6 254.9V267.8L1145.3 265.6V253.3L1146 248.4V265L1146.7 266.8V252.9L1147.4 253.1V263.3L1148.1 262.9V252.1L1148.8 251.3V265.2L1149.5 268.8V252.1L1150.2 254.6V266.5L1150.9 266.8V251.5L1151.6 250.6V265.6L1152.3 263.6V246.5L1153 252.6V268.8L1153.7 277.5V253.2" fill="none" stroke="#0000ff" stroke-width="1.05" stroke-linejoin="round"/>
<polygon points="166.3,263 167.1,254.5 167.9,254.5 168.7,249.8 169.5,250.6 170.3,246.7 171.1,246.6 171.9,246.3 172.7,248.2 173.5,242.3 174.3,241.6 175.1,241.6 175.9,243.8 176.7,244.7 177.5,249.9 178.3,251.6 179.1,252.6 179.9,251.7 180.7,248.5 181.5,253.8 182.3,253.1 183.1,248.4 183.9,248.2 184.7,245.6 185.5,243.4 186.3,244.2 187.1,242 187.9,239.4 188.7,246.2 189.5,250.5 189.5,286.6 188.7,280.1 187.9,275.6 187.1,274.9 186.3,270.8 185.5,277.5 184.7,279.3 183.9,277.6 183.1,282.5 182.3,278.1 181.5,278.2 180.7,276.8 179.9,281 179.1,282 178.3,275 177.5,275.9 176.7,265.3 175.9,262.8 175.1,258.1 174.3,259.1 173.5,262.9 172.7,264.7 171.9,266.9 171.1,268.5 170.3,269 169.5,269 168.7,267.7 167.9,273.1 167.1,278.9 166.3,283.7" fill="#00ff00"/>
<path d="M166.8 269.1V281.9M169 250.1V272.3M170.9 247.7V256.4M173.6 241.8V259.1M175.9 241.1V254.5M177.9 258.2V277.2M180.3 250.7V265.3M182.7 254.5V280.1M184.8 253.2V281.3M187.3 258.9V278.2M189.6 247.4V277.6" stroke="#0000ff" stroke-width="0.9" fill="none"/>
</g>
<g id="panel2">
<rect x="165.4" y="453.3" width="989.2" height="303" fill="none" stroke="#262626" stroke-width="1.1"/>
<text x="156.4" y="459.9" font-size="20.6" text-anchor="end" class="tk" textLength="38.5" lengthAdjust="spacingAndGlyphs">300</text>
<text x="156.4" y="510.4" font-size="20.6" text-anchor="end" class="tk" textLength="38.5" lengthAdjust="spacingAndGlyphs">200</text>
<text x="156.4" y="560.9" font-size="20.6" text-anchor="end" class="tk" textLength="38.5" lengthAdjust="spacingAndGlyphs">100</text>
<text x="156.4" y="611.4" font-size="20.6" text-anchor="end" class="tk" textLength="12.8" lengthAdjust="spacingAndGlyphs">0</text>
<text x="156.4" y="661.9" font-size="20.6" text-anchor="end" class="tk" textLength="45.7" lengthAdjust="spacingAndGlyphs">-100</text>
<text x="156.4" y="712.4" font-size="20.6" text-anchor="end" class="tk" textLength="45.7" lengthAdjust="spacingAndGlyphs">-200</text>
<text x="156.4" y="762.9" font-size="20.6" text-anchor="end" class="tk" textLength="45.7" lengthAdjust="spacingAndGlyphs">-300</text>
<path d="M412.6 453.3v10.3M412.6 756.3v-10.3M660.7 453.3v10.3M660.7 756.3v-10.3M907.5 453.3v10.3M907.5 756.3v-10.3M165.4 503.8h10.3M1154.6 503.8h-10.3M165.4 554.3h10.3M1154.6 554.3h-10.3M165.4 604.8h10.3M1154.6 604.8h-10.3M165.4 655.3h10.3M1154.6 655.3h-10.3M165.4 705.8h10.3M1154.6 705.8h-10.3" stroke="#262626" stroke-width="1.1" fill="none"/>
<path d="M169.8 456.1H176V752.8H169.8ZM177.2 456.1H182V752.8H177.2ZM183.2 456.1H186.8V752.8H183.2ZM189.2 456.1H192.8V752.8H189.2ZM196.1 456.1H221.8V752.8H196.1ZM226.2 456.1H228.9V752.8H226.2ZM231.1 456.1H232.7V752.8H231.1ZM234 456.1H245.8V752.8H234ZM257.2 456.1H259.9V752.8H257.2ZM281.2 456.1H282.7V752.8H281.2ZM285 456.1H286.8V752.8H285ZM301.3 456.1H303.6V752.8H301.3ZM304.7 456.1H306.8V752.8H304.7ZM363.4 456.1H365V752.8H363.4ZM365.9 456.1H371.9V752.8H365.9ZM376 456.1H376.9V752.8H376ZM555.1 456.1H555.9V752.8H555.1ZM600.3 456.1H601.1V752.8H600.3ZM629 456.1H631.8V752.8H629ZM637.2 456.1H638.8V752.8H637.2ZM652.3 456.1H652.8V752.8H652.3ZM654.5 456.1H655.4V752.8H654.5ZM656 456.1H656.8V752.8H656ZM660.1 456.1H661.2V752.8H660.1ZM669.3 456.1H669.9V752.8H669.3ZM680.1 456.1H684.6V752.8H680.1ZM686 456.1H686.8V752.8H686ZM688 456.1H689V752.8H688ZM690.1 456.1H691.5V752.8H690.1ZM694 456.1H708.1V752.8H694ZM709.3 456.1H710.8V752.8H709.3ZM721.9 456.1H729.7V752.8H721.9ZM755.9 456.1H759.8V752.8H755.9ZM761.2 456.1H762.9V752.8H761.2ZM764.2 456.1H766.7V752.8H764.2ZM769.1 456.1H776.9V752.8H769.1ZM811.2 456.1H812.6V752.8H811.2ZM882.2 456.1H884.8V752.8H882.2ZM1026.2 456.1H1027.9V752.8H1026.2ZM1075.2 456.1H1077V752.8H1075.2ZM1077.9 456.1H1078.7V752.8H1077.9ZM1086.1 456.1H1086.8V752.8H1086.1Z" fill="#d9d9d9"/>
<path d="M277 456.1H278.9V752.8H277ZM294 456.1H295.2V752.8H294ZM295.8 456.1H297V752.8H295.8ZM712.2 456.1H721.9V752.8H712.2ZM737.1 456.1H738V752.8H737.1ZM739 456.1H741V752.8H739ZM742 456.1H742.9V752.8H742ZM745.8 456.1H749.9V752.8H745.8ZM753.9 456.1H755V752.8H753.9Z" fill="#ffb3ff"/>
<path d="M165.4 456.1V752.8" stroke="#fff" stroke-width="1.6"/>
<path d="M165.4 456.1V752.8" stroke="#d4d4d4" stroke-width="0.8"/>
<text x="64.3" y="604.8" font-size="18.4" text-anchor="middle" class="b" transform="rotate(-90 64.3 604.8)" fill="#262626" textLength="175.8" lengthAdjust="spacingAndGlyphs">Measured-Model</text>
<text x="89.9" y="604.8" font-size="18.4" text-anchor="middle" class="b" transform="rotate(-90 89.9 604.8)" fill="#262626" textLength="115.3" lengthAdjust="spacingAndGlyphs">B East (nT)</text>
<text x="1176" y="665.7" font-size="16" text-anchor="start" class="b" transform="rotate(-90 1176 665.7)" textLength="89" lengthAdjust="spacingAndGlyphs">Inboard B</text>
<text x="1196.3" y="665.9" font-size="16" text-anchor="start" class="b" transform="rotate(-90 1196.3 665.9)" textLength="106.8" lengthAdjust="spacingAndGlyphs">Outboard B</text>
<path d="M1171.0 695.2V712.7" stroke="#0000ff" stroke-width="2"/>
<path d="M1191 695.2V712.7" stroke="#00ff00" stroke-width="2"/>
<polygon points="166.3,609.3 167.7,606.3 169.1,601.5 170.5,597.9 171.9,593.4 173.3,597.3 174.7,597.6 176.1,605.9 177.5,607.3 178.9,608.2 180.3,607.7 181.7,601.1 183.1,585.7 184.5,589.4 185.9,580.9 187.3,585.4 188.7,579.6 190.1,575.7 191.5,573.1 192.9,581 194.3,577.2 195.7,588.2 197.1,593.7 198.5,601.5 199.9,599.6 201.3,591.8 202.7,583.2 204.1,563.2 205.5,546.1 206.9,552.8 208.3,556.8 209.7,554.5 211.1,554.6 212.5,565 213.9,564.4 215.3,574.1 216.7,574.1 218.1,585.8 219.5,588.8 220.9,592.2 222.3,590.8 223.7,594.9 225.1,593.7 226.5,593.7 227.9,596.2 229.3,592.8 230.7,595.9 232.1,586.7 233.5,560.8 234.9,558.8 236.3,560.8 237.7,555.9 239.1,574.2 240.5,566.6 241.9,571.4 243.3,586 244.7,580.2 246.1,594.4 247.5,599.5 248.9,593.7 250.3,594.7 251.7,588.3 253.1,598.2 254.5,605.7 255.9,607.3 257.3,609.1 258.7,604.2 260.1,604.3 261.5,592.6 262.9,599.7 264.3,605.4 265.7,605.3 267.1,598.8 268.5,590.7 269.9,598.1 271.3,597.6 272.7,600.5 274.1,599.6 275.5,600.4 276.9,608.3 278.3,605.4 279.7,601.5 281.1,596.2 282.5,592.8 283.9,593.7 285.3,587.5 286.7,591.9 288.1,595.7 289.5,597 290.9,593.7 292.3,603.4 293.7,603.4 295.1,603.3 296.5,599.4 297.9,601 299.3,599.4 300.7,594.5 302.1,586.1 303.5,594 304.9,597.5 306.3,600.3 307.7,599.4 309.1,602 310.5,601.4 311.9,602.1 313.3,598.6 314.7,592.8 316.1,600 317.5,600.3 318.9,601.1 320.3,598.9 321.7,593.6 323.1,601 324.5,599.3 325.9,601 327.3,603.4 328.7,603.3 330.1,596.5 331.5,604.2 332.9,603.4 334.3,605.7 335.7,605.7 337.1,602.6 338.5,597.6 339.9,595.8 341.3,593.7 342.7,594.5 344.1,599.1 345.5,601.1 346.9,602.8 348.3,602.9 349.7,602.2 351.1,603.8 352.5,602.4 353.9,603.6 355.3,604.4 356.7,602.5 358.1,603.1 359.5,602.5 360.9,606.1 362.3,605.4 363.7,604.2 365.1,600.5 366.5,593.7 367.9,588.9 369.3,593.1 370.7,592.8 372.1,597.5 373.5,598.6 374.9,599.2 376.3,600.7 377.7,599.6 379.1,602.2 380.5,602.6 381.9,601 383.3,601 384.7,600.5 386.1,602.6 387.5,602.6 388.9,601 390.3,599.7 391.7,600.5 393.1,599.2 394.5,602.3 395.9,601.9 397.3,600.8 398.7,600.5 400.1,601.2 401.5,601.2 402.9,600.5 404.3,601.5 405.7,602.4 407.1,601.5 408.5,602.3 409.9,602.1 411.3,602.6 412.7,600 414.1,601.5 415.5,601.3 416.9,601 418.3,600.3 419.7,600.5 421.1,601 422.5,599.3 423.9,601.7 425.3,600.6 426.7,599.6 428.1,598 429.5,599.4 430.9,600 432.3,599.9 433.7,600.5 435.1,601.4 436.5,601.3 437.9,599.4 439.3,600.9 440.7,601 442.1,599.7 443.5,601 444.9,598.4 446.3,600.3 447.7,600.4 449.1,601.9 450.5,600 451.9,601.4 453.3,600.6 454.7,598.6 456.1,601.1 457.5,600.6 458.9,602.6 460.3,601.5 461.7,603.4 463.1,601.5 464.5,601.9 465.9,602.4 467.3,601.4 468.7,600 470.1,601.3 471.5,600.9 472.9,601.5 474.3,601.2 475.7,599.6 477.1,600.9 478.5,601 479.9,602.1 481.3,601 482.7,601.7 484.1,599.6 485.5,602.1 486.9,600.9 488.3,600.4 489.7,601.7 491.1,601.8 492.5,600.5 493.9,601.7 495.3,603.9 496.7,603.1 498.1,601.5 499.5,603.8 500.9,604.5 502.3,604.8 503.7,603.5 505.1,602.5 506.5,603.5 507.9,604.1 509.3,603.2 510.7,603.8 512.1,603.9 513.5,601.4 514.9,603.8 516.3,604 517.7,603.1 519.1,602 520.5,601.1 521.9,603.5 523.3,601.8 524.7,602.8 526.1,601.9 527.5,602.2 528.9,600.2 530.3,598.6 531.7,600.6 533.1,600.5 534.5,602.8 535.9,601.4 537.3,602.1 538.7,601.4 540.1,603.7 541.5,604.5 542.9,604.4 544.3,602.6 545.7,601.3 547.1,602 548.5,602.3 549.9,603.2 551.3,602.7 552.7,601.7 554.1,600.5 555.5,602.5 556.9,604 558.3,603.9 559.7,601.5 561.1,602.9 562.5,603.7 563.9,602.7 565.3,599.6 566.7,601.3 568.1,601.9 569.5,599.8 570.9,599 572.3,600 573.7,599.9 575.1,599.6 576.5,599.3 577.9,601.2 579.3,596.5 580.7,597.6 582.1,598.3 583.5,600 584.9,599.8 586.3,601.3 587.7,600.4 589.1,600.1 590.5,600.4 591.9,599.3 593.3,599.6 594.7,593.1 596.1,600.3 597.5,600.9 598.9,602.4 600.3,602.2 601.7,602.8 603.1,601.9 604.5,600.7 605.9,599.5 607.3,601.5 608.7,601.8 610.1,602.6 611.5,602.9 612.9,599.6 614.3,602.2 615.7,600.2 617.1,601.1 618.5,598.6 619.9,598.3 621.3,591.4 622.7,600.5 624.1,602.2 625.5,600.9 626.9,598.6 628.3,600 629.7,601.1 631.1,601.3 632.5,601 633.9,601.3 635.3,600.7 636.7,598.9 638.1,600.8 639.5,602.1 640.9,602.4 642.3,602.8 643.7,602.7 645.1,599.5 646.5,600.1 647.9,596.4 649.3,597.4 650.7,596.6 652.1,597.6 653.5,597.6 654.9,597.1 656.3,595.3 657.7,603.4 659.1,607.7 660.5,609.2 661.9,609 663.3,604.3 664.7,599.4 666.1,597.5 667.5,603.4 668.9,612.2 670.3,619 671.7,636.4 673.1,655.8 674.5,672.2 675.9,679 677.3,682.9 678.7,700.2 680.1,721.3 681.5,692.3 682.9,674.9 684.3,676.4 685.7,658.8 687.1,612.5 688.5,599.1 689.9,628.6 691.3,628.4 692.7,632.6 694.1,617.6 695.5,628.3 696.9,634.4 698.3,622.2 699.7,580.2 701.1,583.9 702.5,578.1 703.9,582.1 705.3,582.1 706.7,584.1 708.1,600.9 709.5,599.6 710.9,596.2 712.3,589.7 713.7,597.4 715.1,601.4 716.5,609.1 717.9,597.6 719.3,587.9 720.7,615.1 722.1,610.7 723.5,586 724.9,566.6 726.3,597.5 727.7,634.5 729.1,613.1 730.5,615.1 731.9,609.2 733.3,615 734.7,620.8 736.1,610 737.5,597.6 738.9,591.8 740.3,605.2 741.7,566.5 743.1,556.2 744.5,572.8 745.9,582.1 747.3,599.8 748.7,611.1 750.1,628.9 751.5,603.4 752.9,582.1 754.3,539.4 755.7,492.9 757.1,481.2 758.5,506.5 759.9,551.1 761.3,566.6 762.7,574.4 764.1,552.5 765.5,531.2 766.9,574.5 768.3,581.9 769.7,593.7 771.1,605.1 772.5,608.8 773.9,605.3 775.3,606.6 776.7,604.1 778.1,603 779.5,603.1 780.9,603.8 782.3,603.3 783.7,601.3 785.1,601.6 786.5,600.7 787.9,598.5 789.3,597.8 790.7,597.5 792.1,593.7 793.5,596.5 794.9,596.9 796.3,596.6 797.7,597.4 799.1,593.7 800.5,593.7 801.9,589.2 803.3,594.3 804.7,594.3 806.1,596.2 807.5,596.6 808.9,594.3 810.3,594.9 811.7,592.2 813.1,595.2 814.5,595.2 815.9,594.2 817.3,594.7 818.7,596 820.1,595.3 821.5,594.7 822.9,595.4 824.3,596.1 825.7,597.3 827.1,597.4 828.5,595.3 829.9,596.8 831.3,597 832.7,597.1 834.1,595.7 835.5,595.4 836.9,596.3 838.3,597.1 839.7,595.2 841.1,596.8 842.5,597 843.9,597.8 845.3,594.3 846.7,595.5 848.1,595.5 849.5,595.3 850.9,595.2 852.3,595.2 853.7,596.4 855.1,595 856.5,592.7 857.9,590.8 859.3,594.4 860.7,590.3 862.1,595.9 863.5,598.2 864.9,599.5 866.3,598.6 867.7,600.5 869.1,601.3 870.5,599.2 871.9,600.1 873.3,599.3 874.7,600.4 876.1,597.6 877.5,597.4 878.9,597.1 880.3,593.4 881.7,594.6 883.1,595.6 884.5,596.6 885.9,594.6 887.3,595.5 888.7,595.3 890.1,596.8 891.5,595.1 892.9,597.6 894.3,597 895.7,597.5 897.1,595.4 898.5,597.3 899.9,597.8 901.3,599.2 902.7,598.9 904.1,596.6 905.5,599.3 906.9,599.9 908.3,600.9 909.7,599.3 911.1,600.5 912.5,598.9 913.9,599.4 915.3,596.3 916.7,598 918.1,597.2 919.5,597.4 920.9,595.3 922.3,596.2 923.7,596.7 925.1,596.4 926.5,594.7 927.9,595.2 929.3,596.2 930.7,596.6 932.1,593.7 933.5,595.1 934.9,595.6 936.3,595.3 937.7,595.3 939.1,594 940.5,595.9 941.9,597.2 943.3,596 944.7,594.7 946.1,596.9 947.5,595.7 948.9,597 950.3,595.2 951.7,596.7 953.1,597.6 954.5,598.4 955.9,596 957.3,597.7 958.7,596.5 960.1,596.6 961.5,597.8 962.9,597.6 964.3,597.9 965.7,597.2 967.1,594.5 968.5,596.2 969.9,596.1 971.3,597 972.7,597.4 974.1,597.2 975.5,594.7 976.9,594.7 978.3,595.5 979.7,596 981.1,592.8 982.5,594.5 983.9,594.3 985.3,595.7 986.7,596.4 988.1,595.7 989.5,595.3 990.9,597.4 992.3,596.7 993.7,596.8 995.1,596.3 996.5,597.7 997.9,597 999.3,597.5 1000.7,597.7 1002.1,596.4 1003.5,597.8 1004.9,598.6 1006.3,598.1 1007.7,597.8 1009.1,598.8 1010.5,597.6 1011.9,599.5 1013.3,600.5 1014.7,600.7 1016.1,599.7 1017.5,598.6 1018.9,599.8 1020.3,599.7 1021.7,599.5 1023.1,598.7 1024.5,598.4 1025.9,598.2 1027.3,596.7 1028.7,598.8 1030.1,600.7 1031.5,600.9 1032.9,600.4 1034.3,599.6 1035.7,599.9 1037.1,600.1 1038.5,601.5 1039.9,602.8 1041.3,600.5 1042.7,602.4 1044.1,602.1 1045.5,601.8 1046.9,601.6 1048.3,602.4 1049.7,601.4 1051.1,602.2 1052.5,601.1 1053.9,600.9 1055.3,600.7 1056.7,599 1058.1,601.6 1059.5,602 1060.9,601.2 1062.3,600.8 1063.7,601.8 1065.1,600.3 1066.5,601.9 1067.9,603.2 1069.3,603.8 1070.7,602.9 1072.1,601.5 1073.5,603.7 1074.9,602.6 1076.3,602.1 1077.7,602.6 1079.1,602 1080.5,599.5 1081.9,602.3 1083.3,602.8 1084.7,602.3 1086.1,601.7 1087.5,601.4 1088.9,602.9 1090.3,602.7 1091.7,603.6 1093.1,603.9 1094.5,603.4 1095.9,602.3 1097.3,605.4 1098.7,604 1100.1,604.1 1101.5,604 1102.9,603.4 1104.3,604.6 1105.7,605.8 1107.1,604.3 1108.5,605.3 1109.9,605.5 1111.3,604.4 1112.7,605.1 1114.1,605.5 1115.5,603.4 1116.9,602.2 1118.3,598.6 1119.7,600.1 1121.1,595.3 1122.5,599.1 1123.9,597.4 1125.3,603 1126.7,604.5 1128.1,605.6 1129.5,605 1130.9,608 1132.3,607 1133.7,606.5 1135.1,604.2 1136.5,605.6 1137.9,606.5 1139.3,609.8 1140.7,606.4 1142.1,608.1 1143.5,609.1 1144.9,610.9 1146.3,608.3 1147.7,611.4 1149.1,610.2 1150.5,607.2 1151.9,608.6 1153.3,607.2 1153.3,618.8 1151.9,618.7 1150.5,617.1 1149.1,616.2 1147.7,617.3 1146.3,619.2 1144.9,618.5 1143.5,617.3 1142.1,614.7 1140.7,617.1 1139.3,615.5 1137.9,613.4 1136.5,611.7 1135.1,613.7 1133.7,612.8 1132.3,614.2 1130.9,615.8 1129.5,614 1128.1,612.1 1126.7,611.8 1125.3,609.3 1123.9,607.5 1122.5,605.4 1121.1,604.9 1119.7,607.9 1118.3,606.9 1116.9,612.7 1115.5,612.1 1114.1,612.1 1112.7,609.8 1111.3,612.7 1109.9,611.3 1108.5,610.6 1107.1,609.8 1105.7,611.1 1104.3,612.9 1102.9,610.3 1101.5,609.2 1100.1,611.2 1098.7,610.5 1097.3,610.7 1095.9,612 1094.5,609.8 1093.1,609.4 1091.7,609.9 1090.3,609.8 1088.9,610.8 1087.5,608.3 1086.1,607.5 1084.7,608.3 1083.3,609.1 1081.9,608.5 1080.5,609.9 1079.1,608 1077.7,607.9 1076.3,607.1 1074.9,608.2 1073.5,609.3 1072.1,608.4 1070.7,608.2 1069.3,609.1 1067.9,608.6 1066.5,607.6 1065.1,609.1 1063.7,607.4 1062.3,606.7 1060.9,606.7 1059.5,607.8 1058.1,608 1056.7,605.9 1055.3,605.9 1053.9,606.7 1052.5,606.3 1051.1,607.3 1049.7,608.9 1048.3,606.5 1046.9,606.6 1045.5,606.4 1044.1,606.7 1042.7,607.9 1041.3,607 1039.9,607.3 1038.5,607.8 1037.1,606.4 1035.7,605.9 1034.3,608.6 1032.9,606.5 1031.5,606.1 1030.1,606.6 1028.7,605.4 1027.3,606.3 1025.9,603.3 1024.5,603.9 1023.1,604.6 1021.7,604.7 1020.3,603.3 1018.9,606 1017.5,604.3 1016.1,605.2 1014.7,604.7 1013.3,605 1011.9,603.3 1010.5,605 1009.1,603.1 1007.7,602.3 1006.3,602.6 1004.9,602.8 1003.5,604 1002.1,602.2 1000.7,603.3 999.3,602.2 997.9,601.8 996.5,603 995.1,605.3 993.7,602.6 992.3,602.3 990.9,601.6 989.5,604 988.1,601.9 986.7,602.2 985.3,601.9 983.9,600.4 982.5,602.1 981.1,600.9 979.7,601.7 978.3,601.7 976.9,600 975.5,603.6 974.1,602 972.7,603.1 971.3,602.7 969.9,601.5 968.5,604.1 967.1,603.2 965.7,603.1 964.3,603.1 962.9,602.9 961.5,603.1 960.1,605 958.7,602.2 957.3,601.9 955.9,604.7 954.5,604.3 953.1,603.2 951.7,602.3 950.3,604.5 948.9,602.4 947.5,602.2 946.1,602.6 944.7,604.3 943.3,602.1 941.9,602.7 940.5,601.7 939.1,602.9 937.7,602 936.3,601.7 934.9,601.3 933.5,602.8 932.1,602.7 930.7,602.1 929.3,602.4 927.9,603.3 926.5,600.7 925.1,601.2 923.7,602.1 922.3,604.1 920.9,602.3 919.5,602.7 918.1,603.1 916.7,603.5 915.3,605.2 913.9,603.3 912.5,603.7 911.1,606.7 909.7,605.7 908.3,605.8 906.9,605.3 905.5,605.3 904.1,605.3 902.7,604.8 901.3,604.8 899.9,603 898.5,604.2 897.1,601.8 895.7,603.1 894.3,602.3 892.9,604.2 891.5,602.9 890.1,602.4 888.7,602.5 887.3,604.1 885.9,602.4 884.5,602.6 883.1,601.4 881.7,603 880.3,602.3 878.9,602.7 877.5,606 876.1,605.7 874.7,605.5 873.3,604.2 871.9,606.9 870.5,604.6 869.1,605.8 867.7,605.9 866.3,607.3 864.9,606.3 863.5,606.3 862.1,603.7 860.7,606.2 859.3,603.4 857.9,599.5 856.5,603.5 855.1,602 853.7,601.2 852.3,605 850.9,602.3 849.5,601.4 848.1,601.7 846.7,604 845.3,602.1 843.9,603.1 842.5,603.1 841.1,602.2 839.7,604.1 838.3,602.4 836.9,601.1 835.5,601.4 834.1,605 832.7,603.5 831.3,603.5 829.9,601.9 828.5,604 827.1,602.9 825.7,602.3 824.3,602.1 822.9,604 821.5,601.5 820.1,601.8 818.7,601.2 817.3,603.5 815.9,601.3 814.5,600.8 813.1,601.9 811.7,602.3 810.3,600.6 808.9,603.4 807.5,601.7 806.1,602.7 804.7,605 803.3,602.4 801.9,601.1 800.5,603 799.1,601.3 797.7,602.8 796.3,604.2 794.9,601.9 793.5,603.1 792.1,605.3 790.7,604.2 789.3,607.1 787.9,605.6 786.5,605.9 785.1,607.8 783.7,610.1 782.3,609.1 780.9,609 779.5,612.7 778.1,610 776.7,610.2 775.3,614.7 773.9,611.8 772.5,616.2 771.1,612 769.7,613.1 768.3,601.5 766.9,589.6 765.5,573.4 764.1,611 762.7,611.2 761.3,598.2 759.9,574.3 758.5,585.2 757.1,543.3 755.7,585.9 754.3,605.3 752.9,634.1 751.5,629.1 750.1,644.8 748.7,634.1 747.3,619.7 745.9,595.9 744.5,586.7 743.1,585.2 741.7,624.4 740.3,663.4 738.9,627.7 737.5,618.9 736.1,636.6 734.7,634.2 733.3,636.3 731.9,641.1 730.5,640 729.1,668.7 727.7,655.4 726.3,633.9 724.9,600.4 723.5,620.5 722.1,632.1 720.7,626.3 719.3,612.2 717.9,616.6 716.5,627.3 715.1,617.1 713.7,608.9 712.3,605 710.9,606.9 709.5,615.7 708.1,609.6 706.7,599.8 705.3,594.9 703.9,591.4 702.5,589.5 701.1,597.2 699.7,636 698.3,641.8 696.9,645.7 695.5,650.6 694.1,639.9 692.7,650.6 691.3,663.2 689.9,669 688.5,657.4 687.1,678.7 685.7,684.5 684.3,700 682.9,731.1 681.5,747.6 680.1,746.6 678.7,728.8 677.3,707.2 675.9,696.2 674.5,692.4 673.1,681.8 671.7,661.1 670.3,641.1 668.9,626.2 667.5,611.6 666.1,611.3 664.7,609.6 663.3,616 661.9,613.6 660.5,618 659.1,615.1 657.7,613 656.3,603.2 654.9,604.4 653.5,602.7 652.1,603.3 650.7,612.5 649.3,610.2 647.9,612.4 646.5,612.4 645.1,610.4 643.7,609.6 642.3,612.4 640.9,610 639.5,608.9 638.1,609.5 636.7,611.8 635.3,609.1 633.9,609.1 632.5,612.6 631.1,609.2 629.7,607.8 628.3,607.5 626.9,609.4 625.5,607.9 624.1,610.2 622.7,609.5 621.3,607.6 619.9,607 618.5,609.6 617.1,607.5 615.7,607 614.3,608.4 612.9,610.7 611.5,609 610.1,609 608.7,607.9 607.3,607.7 605.9,609.8 604.5,606.8 603.1,608.4 601.7,613.7 600.3,611.8 598.9,609.3 597.5,612.4 596.1,610 594.7,608.9 593.3,609.8 591.9,607.1 590.5,606.5 589.1,606.9 587.7,607.4 586.3,609.3 584.9,607.9 583.5,606.6 582.1,605.2 580.7,604.6 579.3,608.1 577.9,607.3 576.5,607.3 575.1,607.2 573.7,605.4 572.3,608.5 570.9,605.7 569.5,606.3 568.1,606.7 566.7,611.2 565.3,609.9 563.9,609.8 562.5,608.6 561.1,611.3 559.7,610.1 558.3,610.7 556.9,610.4 555.5,610.1 554.1,611.7 552.7,609.5 551.3,610.6 549.9,611.6 548.5,610.5 547.1,615 545.7,611.9 544.3,611.4 542.9,611.7 541.5,610.8 540.1,610.6 538.7,611.2 537.3,608.6 535.9,608.4 534.5,608.4 533.1,607.3 531.7,610.4 530.3,606.1 528.9,607.4 527.5,609.4 526.1,608.2 524.7,607.7 523.3,607.8 521.9,609.8 520.5,608.4 519.1,608 517.7,608.7 516.3,609.5 514.9,609.1 513.5,610.4 512.1,608.6 510.7,609.5 509.3,608.9 507.9,609.1 506.5,609.8 505.1,608.3 503.7,608.8 502.3,609.3 500.9,609.5 499.5,609.9 498.1,611.2 496.7,609 495.3,610.9 493.9,609 492.5,611.4 491.1,607.4 489.7,607.4 488.3,608.2 486.9,607.8 485.5,610.4 484.1,608.7 482.7,608.6 481.3,607.1 479.9,607.7 478.5,607.3 477.1,609.3 475.7,607.6 474.3,607.2 472.9,608.5 471.5,606.3 470.1,605.8 468.7,607.9 467.3,606.6 465.9,606.8 464.5,606.3 463.1,606.7 461.7,607.9 460.3,607.3 458.9,607.1 457.5,605.4 456.1,606.2 454.7,607 453.3,607 451.9,607.1 450.5,608.7 449.1,607.8 447.7,606.1 446.3,606 444.9,608 443.5,605.9 442.1,605.6 440.7,606.5 439.3,605.9 437.9,608.2 436.5,606.5 435.1,607.3 433.7,606.4 432.3,605.8 430.9,605.7 429.5,604.7 428.1,607.3 426.7,606.8 425.3,606.9 423.9,606.9 422.5,608.5 421.1,606.4 419.7,606.3 418.3,606.1 416.9,606.1 415.5,607.4 414.1,607.1 412.7,608.9 411.3,608.5 409.9,608.3 408.5,608 407.1,606.9 405.7,607.1 404.3,607.4 402.9,609.3 401.5,607.6 400.1,606.7 398.7,606.9 397.3,606 395.9,607 394.5,607.1 393.1,608.5 391.7,605.3 390.3,604.7 388.9,606.3 387.5,607 386.1,608.9 384.7,608.2 383.3,608 381.9,606.3 380.5,607.4 379.1,607.4 377.7,608 376.3,605.4 374.9,607.2 373.5,605.6 372.1,604.6 370.7,603.3 369.3,600.1 367.9,603.6 366.5,603.8 365.1,611.1 363.7,613.2 362.3,619.7 360.9,614.2 359.5,608.2 358.1,608.5 356.7,607 355.3,608.3 353.9,608.9 352.5,607.5 351.1,608.4 349.7,609.8 348.3,608.1 346.9,611.8 345.5,608.6 344.1,606.9 342.7,604.7 341.3,605 339.9,608.9 338.5,607.5 337.1,611.8 335.7,610.7 334.3,614.7 332.9,625.9 331.5,622.4 330.1,612.7 328.7,611 327.3,612.7 325.9,608.7 324.5,611.9 323.1,609.1 321.7,607 320.3,610.8 318.9,608.8 317.5,610.9 316.1,606 314.7,606.9 313.3,610.8 311.9,609 310.5,610.8 309.1,608.6 307.7,610.8 306.3,608.3 304.9,610.8 303.5,606.5 302.1,606.9 300.7,605.1 299.3,608.9 297.9,613.7 296.5,609.7 295.1,612.7 293.7,612 292.3,614.7 290.9,611.2 289.5,607.1 288.1,608.9 286.7,601.1 285.3,603 283.9,601.1 282.5,606.9 281.1,614.7 279.7,614.2 278.3,624 276.9,619.5 275.5,610.1 274.1,610.8 272.7,608.6 271.3,608.9 269.9,607 268.5,604.6 267.1,614.7 265.7,613 264.3,616.9 262.9,610.2 261.5,610.8 260.1,612.7 258.7,613.3 257.3,624.8 255.9,620.5 254.5,614.7 253.1,609.1 251.7,603 250.3,605 248.9,608.9 247.5,616.6 246.1,610.4 244.7,601.1 243.3,605 241.9,600 240.5,594.3 239.1,589.5 237.7,589.5 236.3,580.3 234.9,574.9 233.5,597.4 232.1,605 230.7,602.4 229.3,604.4 227.9,602.2 226.5,605.2 225.1,599.9 223.7,603.5 222.3,602.1 220.9,603.3 219.5,612.3 218.1,602.5 216.7,593 215.3,591.6 213.9,585.4 212.5,581.9 211.1,575.4 209.7,574 208.3,570.1 206.9,566.2 205.5,574 204.1,597.2 202.7,606.9 201.3,601.7 199.9,610.8 198.5,617.7 197.1,609.5 195.7,602.2 194.3,591.8 192.9,586.7 191.5,593.5 190.1,587 188.7,597.2 187.3,601.1 185.9,599 184.5,605 183.1,607.9 181.7,615.9 180.3,618.7 178.9,615.4 177.5,620.7 176.1,615 174.7,611.2 173.3,605.1 171.9,605 170.5,606.7 169.1,612.9 167.7,614.3 166.3,622.6" fill="#00ff00"/>
<path d="M166 609.1V618.7L166.7 622.6V610.1L167.4 609.9V614.4L168.1 611.7V606.1L168.8 601.3V611L169.5 612.9V603.5L170.2 601.6V606.8L170.9 603.5V597.7L171.6 593.2V601.3L172.3 605.2V596.1L173 597.1V602.8L173.7 605.2V600.5L174.4 597.4V607.8L175.1 611V603.5L175.8 605.8V611.4L176.5 615.1V608.7L177.2 607.1V617.3L177.9 620.7V609.7L178.6 610.1V615.4L179.3 613.6V608.1L180 610V618.8L180.7 612.1V607.7L181.4 601.3V611.5L182.1 615.9V602.6L182.8 602V608L183.5 603.5V585.8L184.2 590.8V605.2L184.9 596.2V589.7L185.6 588V597.6L186.3 599.2V580.9L187 588.8V601.3L187.7 593.3V585.3L188.4 580V592.1L189.1 597.4V579.5L189.8 578.1V587L190.5 583.3V575.5L191.2 573.2V583.1L191.9 593.5V579L192.6 580.8V586.4L193.3 586.8V581.9L194 579.5V591.6L194.7 589.4V577.1L195.4 588V596.2L196.1 602.1V595.9L196.8 593.5V606L197.5 609.6V603.3L198.2 601.3V611.6L198.9 617.8V604.6L199.6 599.4V608.4L200.3 611V599.8L201 596V601.9L201.7 601.5V591.6L202.4 588.6V607.1L203.1 593.7V583.1L203.8 566.4V586L204.5 597.4V563.2L205.2 558.6V567.5L205.9 574.2V546L206.6 553.5V566.4L207.3 563.1V552.8L208 556.8V570.3L208.7 567.9V560.1L209.4 554.8V568.7L210.1 574.2V560.4L210.8 557.6V569.5L211.5 575.6V554.8L212.2 565.1V581.9L212.9 578.9V569L213.6 564.5V579.9L214.3 585.4V576.3L215 574.2V585.9L215.7 591.6V581.5L216.4 581V592.1L217.1 592.8V574.2L217.8 588.1V599.4L218.5 602.2V585.8L219.2 592.5V612L219.9 600.6V588.7L220.6 592V603.2L221.3 602.2V595.1L222 594.8V601.3L222.7 601.7V590.6L223.4 595.5V603.2L224.1 599V594.7L224.8 593.5V598.7L225.5 599.6V593.6L226.2 593.5V600.2L226.9 605.2V594.7L227.6 596.6V600.4L228.3 602V596L229 592.6V602.8L229.7 604.2V595.7L230.4 595.7V601.4L231.1 602.4V597.4L231.8 593.5V604L232.5 605.2V586.5L233.2 560.6V584.8L233.9 597.4V569.7L234.6 565.5V575L235.3 569.6V558.6L236 561.5V574.2L236.7 580.5V560.6L237.4 569.3V589.7L238.1 579.7V555.7L238.8 574V585.9L239.5 589.7V579.1L240.2 566.4V588.1L240.9 594.5V578.5L241.6 571.2V594.6L242.3 600.2V590.8L243 585.8V600.9L243.7 605.2V591.9L244.4 580V595.4L245.1 601.3V590.7L245.8 594.2V602.2L246.5 610.6V597.4L247.2 601.4V616.8L247.9 605.9V599.3L248.6 593.5V601.1L249.3 609.1V595.4L250 594.5V601.3L250.7 605.2V595.4L251.4 588.1V599.9L252.1 603.2V594.7L252.8 598V604.7L253.5 609.3V599.4L254.2 605.5V614.9L254.9 614.5V608L255.6 607.1V616L256.3 620.7V613.8L257 609.1V621.5L257.7 625V612.4L258.4 608.8V613.5L259.1 611.9V604.2L259.8 606.7V612.9L260.5 609.8V604.2L261.2 599.4V609.3L261.9 611V592.6L262.6 599.5V609.1L263.3 610.4V605L264 605.2V615L264.7 616.8V606L265.4 607.4V613.1L266.1 612.3V605.2L266.8 603.1V614.9L267.5 607.4V598.9L268.2 597.8V604.8L268.9 604V590.6L269.6 597.9V607.1L270.3 605.9V598.2L271 597.4V607.1L271.7 609.1V601.7L272.4 602.1V608.8L273.1 607.7V600.3L273.8 599.4V609.1L274.5 611V602.8L275.2 602.9V610.3L275.9 609.9V600.3L276.6 608.2V615L277.3 619.7V610.4L278 605.2V620.9L278.7 624.2V609.4L279.4 605.3V614.4L280.1 610.5V601.3L280.8 599V614.9L281.5 604.7V596L282.2 592.6V603.2L282.9 607.1V595.1L283.6 594.8V601.3L284.3 599.8V593.5L285 592.3V603.2L285.7 595.9V587.3L286.4 591.7V601.3L287.1 601.2V595.6L287.8 595.5V606L288.5 609.1V599L289.2 599.1V607.2L289.9 605.3V596.8L290.6 593.5V606.6L291.3 611.3V603.4L292 603.2V612.7L292.7 614.9V607.3L293.4 606V612.2L294.1 611.7V603.2L294.8 605.1V612.9L295.5 610.4V603.2L296.2 602.6V609.9L296.9 609.6V599.4L297.6 601V613.9L298.3 608.7V601.5L299 599.4V607.4L299.7 609.1V601.1L300.4 599.5V605.3L301.1 605.2V594.5L301.8 595.4V607.1L302.5 601.9V586.4L303.2 594.1V604L303.9 606.7V598.3L304.6 597.4V608.9L305.3 611V599.4L306 600.8V607.9L306.7 608.5V600.5L307.4 599.4V608.2L308.1 611V602.3L308.8 602V608.6L309.5 608.8V603.2L310.2 601.3V607.7L310.9 611V602.4L311.6 601.9V608.4L312.3 609.2V602L313 598.4V610.5L313.7 611V600.2L314.4 592.6V607.1L315.1 607.1V599.4L315.8 600.7V606.1L316.5 606.2V599.9L317.2 600.3V607.9L317.9 611V601.1L318.6 602V609L319.3 608.7V601.3L320 601.7V611L320.7 606.4V599.1L321.4 593.5V604.7L322.1 607.1V597.7L322.8 600.8V607.1L323.5 609.3V602.8L324.2 599.4V610.4L324.9 612V603.8L325.6 602.5V608.9L326.3 608.8V601.3L327 603.3V612.9L327.7 609.6V605.3L328.4 604.7V609.9L329.1 611.2V603.2L329.8 603.2V612.9L330.5 612.4V596.5L331.2 604V615L331.9 622.6V605.2L332.6 609.6V626.1L333.3 615.8V603.2L334 605.9V614.9L334.7 611.2V605.5L335.4 606.3V610.9L336.1 610.9V605.6L336.8 603.2V610L337.5 612V602.4L338.2 602V607.7L338.9 607.5V597.4L339.6 596.7V609.1L340.3 602.7V595.7L341 593.5V602L341.7 605.2V596.7L342.4 598.6V604.8L343.1 604.9V594.5L343.8 599.3V607.1L344.5 606.6V599L345.2 601.8V608.8L345.9 608.8V601.3L346.6 603V612L347.3 608.7V604L348 603V608.3L348.7 608.3V603.5L349.4 602.3V608.4L350.1 610V603.8L350.8 604.4V608.4L351.5 608.6V603.7L352.2 603.8V607.7L352.9 607V602.3L353.6 603.4V609.1L354.3 607.6V604.1L355 604.2V607.7L355.7 608.5V604.4L356.4 603.7V607.2L357.1 607V602.3L357.8 602.9V608.7L358.5 607.6V604L359.2 603.9V607.1L359.9 608.4V602.3L360.6 605.9V610.4L361.3 614.4V607.9L362 605.2V616.2L362.7 619.7V609.7L363.4 606.8V613.2L364.1 610V604L364.8 601.3V609.7L365.5 611V600.3L366.2 598.1V603.7L366.9 600.4V593.5L367.6 594V603.2L368.3 596.4V588.7L369 592.9V599.4L369.7 599.9V593.6L370.4 592.6V602.2L371.1 603.2V596.6L371.8 597.3V602.8L372.5 604.5V598.5L373.2 600.1V605.4L373.9 604.3V598.4L374.6 599V607.1L375.3 604.5V599.7L376 600.5V604.6L376.7 605V600.8L377.4 599.4V605.9L378.1 608.1V602L378.8 602V607.1L379.5 606.9V602.2L380.2 602.4V607.4L380.9 607V602.5L381.6 601.3V605.9L382.3 606.3V600.8L383 600.8V606L383.7 608.2V602.4L384.4 602.5V608L385.1 608.4V600.3L385.8 602.4V609.1L386.5 608V603.4L387.2 602.4V607.2L387.9 606.9V603L388.6 600.8V606.5L389.3 605.1V601.2L390 600.3V604.9L390.7 604.9V599.5L391.4 600.3V605.5L392.1 605.5V601.4L392.8 599V606.9L393.5 608.7V602.5L394.2 602.1V607.1L394.9 607.3V602.1L395.6 601.7V607L396.3 607.2V601.9L397 601.4V606.1L397.7 606.2V600.6L398.4 600.3V607L399.1 607.1V601L399.8 601V606.9L400.5 606V601.7L401.2 601V606.9L401.9 607.8V603.1L402.6 600.3V608.3L403.3 609.5V601.4L404 601.3V607.4L404.7 607.6V601.5L405.4 602.2V606.8L406.1 607.3V602.9L406.8 601.9V606.1L407.5 607.1V601.4L408.2 602.2V606.2L408.9 608.2V602.5L409.6 601.9V607.8L410.3 608.5V603.3L411 603.2V608.7L411.7 607.2V602.4L412.4 599.8V605.4L413.1 609.1V601.4L413.8 601.3V606.4L414.5 607.3V602.5L415.2 601.8V607.6L415.9 607V601.2L416.6 601.4V606.3L417.3 605.9V600.9L418 600.3V606.3L418.7 605.7V601.4L419.4 600.7V606.3L420.1 606.5V600.4L420.8 600.9V606.6L421.5 606.5V601.5L422.2 599.4V607.6L422.9 608.7V602.5L423.6 601.6V607.1L424.3 607V602.2L425 601.2V607.1L425.7 605.4V600.4L426.4 599.4V605L427.1 607V600.8L427.8 597.8V605.7L428.5 607.5V600.5L429.2 599.2V604.9L429.9 604.8V600.3L430.6 599.8V605.1L431.3 605.9V600.5L432 600.2V606L432.7 605.1V599.7L433.4 600.3V605.2L434.1 606.5V600.7L434.8 601.9V607.3L435.5 606.9V601.2L436.2 601.2V606.4L436.9 606.3V601.4L437.6 599.4V605.4L438.3 608.1V601L439 601V605.8L439.7 605.5V600.8L440.4 600.9V606.3L441.1 605.9V601L441.8 599.5V605.4L442.5 605.4V600.2L443.2 601.2V605.4L443.9 605.8V601.2L444.6 598.4V605.1L445.3 608.1V599.7L446 600.5V606.1L446.7 605V601.1L447.4 600.2V606L448.1 606.3V602.3L448.8 601.8V606.7L449.5 607.8V601.9L450.2 599.8V606.6L450.9 608.7V601.9L451.6 601.2V606.9L452.3 607.3V602.5L453 601.9V607.1L453.7 606.4V600.4L454.4 598.4V604.6L455.1 607.1V600.3L455.8 601.4V605.4L456.5 606.3V600.9L457.2 600.4V604.8L457.9 605.6V601.8L458.6 602.4V607.2L459.3 607.3V603.1L460 602.7V607L460.7 607.5V601.3L461.4 603.2V608.1L462.1 607.6V604L462.8 602.9V606.9L463.5 605.9V601.3L464.2 602.1V606.5L464.9 606.4V601.7L465.6 602.4V606.9L466.3 607V602.2L467 602.3V606.8L467.7 605.7V601.2L468.4 599.8V605.5L469.1 608.1V599.8L469.8 601.1V605.5L470.5 606V601.1L471.2 600.7V606L471.9 606.5V601L472.6 601.3V607.3L473.3 608.7V603L474 602.3V607.4L474.7 606.2V601L475.4 601.1V607.7L476.1 607.8V599.4L476.8 602.5V609.5L477.5 607.1V600.7L478.2 600.9V606.6L478.9 607.3V602.1L479.6 602.6V607.3L480.3 607.7V601.9L481 602.2V606.9L481.7 607.1V601L482.4 602.3V608.5L483.1 606.3V601.5L483.8 602V608.1L484.5 608.4V599.4L485.2 603.7V610L485.9 607.7V602L486.6 601.8V607.7L487.3 607.5V600.7L488 600.2V607.5L488.7 607.9V602.2L489.4 602.2V607.3L490.1 607.3V601.5L490.8 601.8V606.9L491.5 607V601.6L492.2 600.3V607.2L492.9 611V601.5L493.6 601.5V608.6L494.3 608.8V603.7L495 603.7V611L495.7 609.7V603.7L496.4 604.1V608.5L497.1 609.2V602.9L497.8 601.3V609.1L498.5 611.4V604.1L499.2 603.6V610L499.9 610.1V604.7L500.6 604.3V609L501.3 609.7V604.7L502 604.7V609.5L502.7 608.6V604.6L503.4 603.3V608.7L504.1 609V603.6L504.8 604.3V608.4L505.5 608.5V602.3L506.2 603.3V610L506.9 608.4V603.5L507.6 603.9V609.3L508.3 607.8V604.3L509 604.2V609L509.7 608.4V603.2L510.4 604V609.7L511.1 608.7V603.7L511.8 604.5V608.6L512.5 608.8V603.7L513.2 601.3V608.9L513.9 610.6V604.7L514.6 604V609.3L515.3 608.9V603.7L516 603.8V609.7L516.7 608.6V604.1L517.4 602.9V608.9L518.1 607.8V603.3L518.8 601.8V608.2L519.5 607.3V601.9L520.2 603.6V608.1L520.9 608.6V600.9L521.6 603.9V610L522.3 609.6V603.3L523 603.5V607.9L523.7 607.8V601.6L524.4 603.1V607.4L525.1 607.8V602.6L525.8 601.7V608.4L526.5 607.6V602.3L527.2 602.7V609.5L527.9 608.1V602L528.6 601.3V607.6L529.3 606V600L530 600.2V606L530.7 606.3V598.4L531.4 600.4V610.6L532.1 606.5V601L532.8 600.5V607.1L533.5 607.5V600.3L534.2 602.7V607.9L534.9 608.6V602.6L535.6 601.2V607.1L536.3 608.6V601.3L537 601.9V607.8L537.7 608.8V604L538.4 601.3V608.8L539.1 611.4V604.4L539.8 604.2V610.4L540.5 610.8V603.5L541.2 604.4V610.3L541.9 611V605.4L542.6 605.6V611.9L543.3 611.5V604.2L544 604.5V611.6L544.7 610.4V602.4L545.4 603.6V611.6L546.1 612V601.3L546.8 602.5V614.9L547.5 609.1V602L548.2 602.5V610.4L548.9 610.1V602.3L549.6 603.3V611.6L550.3 609.9V603.1L551 603.4V610.4L551.7 608.3V602.6L552.4 603.4V609.4L553.1 607.6V601.6L553.8 600.3V607.9L554.5 611.4V602.3L555.2 602.4V608.4L555.9 609.9V602.8L556.6 604.7V609.5L557.3 610.3V603.8L558 604V610.6L558.7 609.6V603.7L559.4 603.9V610.2L560.1 609V601.3L560.8 604V611.4L561.5 608.2V602.7L562.2 603.8V608.6L562.9 608.8V603.5L563.6 602.5V609.5L564.3 610V603L565 604V610.1L565.7 609.9V599.4L566.4 601.3V611.4L567.1 608.8V601.2L567.8 601.8V606.9L568.5 606.8V601.7L569.2 600.5V606.5L569.9 606.4V599.7L570.6 600.2V605.9L571.3 605.2V599L572 600.1V608.7L572.7 604.8V600.4L573.4 600.1V605.4L574.1 605.5V600.8L574.8 601.5V606.9L575.5 607V600L576.2 601V606.5L576.9 606.9V599.3L577.6 601.4V607.3L578.3 606.4V601.3L579 596.5V607.8L579.7 608.1V600.4L580.4 598.1V604.8L581.1 604.5V597.9L581.8 598.5V605.2L582.5 605.4V598.5L583.2 600.1V606.8L583.9 606.1V601.1L584.6 601V607.2L585.3 608.1V599.8L586 601.5V609.5L586.7 607V601.5L587.4 600.5V606.8L588.1 607.6V601.6L588.8 601.5V607.1L589.5 606.6V600.2L590.2 600.6V606.7L590.9 606.5V601.3L591.6 601.4V607.3L592.3 607.3V599.4L593 601.4V610L593.7 606.8V599.7L594.4 593.2V603.9L595.1 609.1V598.2L595.8 600.4V606.7L596.5 610.2V604L597.2 601.3V610.8L597.9 612.6V604.6L598.6 602.5V609.1L599.3 609.5V604L600 605.4V612L600.7 611.3V602.3L601.4 604V613.9L602.1 609.6V602.6L602.8 603.3V608.6L603.5 608.3V601.8L604.2 600.9V607L604.9 606.2V600.6L605.6 599.4V605.9L606.3 610V601L607 601.4V606.7L607.7 607.9V601.3L608.4 601.8V607.6L609.1 608.1V601.6L609.8 602.4V607.8L610.5 609.2V603.5L611.2 602.7V608.9L611.9 608.3V603.1L612.6 599.4V608.5L613.3 610.6V602.4L614 602V608.4L614.7 607.5V602.2L615.4 601.2V606.5L616.1 605.7V600L616.8 601.2V606.8L617.5 607.4V600.9L618.2 598.4V605.9L618.9 609.5V600.6L619.6 598.8V606.3L620.3 606.7V598.1L621 591.2V606.6L621.7 607.3V599.3L622.4 601V609L623.1 607.1V600.3L623.8 602.1V610L624.5 607.4V602L625.2 602V607.7L625.9 606.5V600.7L626.6 598.4V606.4L627.3 609.1V600.4L628 601.5V606.2L628.7 607.4V600L629.4 601V607L630.1 608V601.8L630.8 603.4V609.2L631.5 608.9V601.3L632.2 603.3V612.6L632.9 608V601.4L633.6 603.1V608.4L634.3 609V601.6L635 600.8V608.6L635.7 609.1V603.3L636.4 599V610L637.1 612V602.3L637.8 600.8V607.9L638.5 609.7V604L639.2 602.2V608.1L639.9 609.1V602.7L640.6 603.8V608.8L641.3 610.2V602.3L642 603.4V612.6L642.7 608.7V602.8L643.4 602.6V609.3L644.1 609.8V603.2L644.8 602.5V610.6L645.5 610.1V599.4L646.2 601.2V612.6L646.9 609.9V599.9L647.6 596.5V609.8L648.3 612.6V600.3L649 601.6V610.2L649.7 607.4V597.4L650.4 600.4V612.6L651.1 602.5V596.5L651.8 598V603.2L652.5 601V597.4L653.2 598.4V602.3L653.9 601.9V597.4L654.6 598V604.2L655.3 601V596.9L656 595.8V600.2L656.7 603.1V595.1L657.4 603.8V609.3L658.1 612.6V603.2L658.8 607.7V614.9L659.5 615V609.9L660.2 609.1V614.8L660.9 617.8V610.1L661.6 609.8V613.6L662.3 612.3V608.9L663 604.2V612.3L663.7 615.9V605.7L664.4 605.1V609.1L665.1 608.2V599.4L665.8 602.3V611L666.5 605.8V597.4L667.2 603.4V609.1L667.9 611.6V603.2L668.6 612V618.8L669.3 626V619.1L670 618.8V635L670.7 641V634.5L671.4 636.2V649.8L672.1 661.1V651.4L672.8 657.3V670.4L673.5 681.9V655.6L674.2 672V692.5L674.9 688.4V679.6L675.6 678.9V691.1L676.3 696.4V686L677 682.8V693.2L677.7 707.4V699.4L678.4 700.2V718.8L679.1 729V719.6L679.8 721.6V736.6L680.5 746.8V721.6L681.2 719.7V747.8L681.9 718.5V692.5L682.6 693.3V731.3L683.3 690.9V675L684 679.9V700.2L684.7 683.2V676.5L685.4 670.8V677.5L686.1 684.7V659.2L686.8 644V660.7L687.5 678.9V612.9L688.2 620.7V657.6L688.9 646.2V599.4L689.6 633.6V669.2L690.3 650.6V628.5L691 628.5V663.4L691.7 651.7V637.1L692.4 634.3V645.6L693.1 650.8V632.6L693.8 617.8V633.1L694.5 640.1V628.6L695.2 628.5V643.4L695.9 650.8V636L696.6 634.3V642.5L697.3 645.9V635.1L698 626.5V637.6L698.7 642V622L699.4 597.4V621.4L700.1 636.2V580L700.8 584.6V597.4L701.5 588.9V583.7L702.2 578V585.4L702.9 589.7V583.3L703.6 581.9V587.9L704.3 591.6V585L705 587.2V592.5L705.7 595.1V581.9L706.4 589.1V599.4L707.1 600V583.9L707.8 600.7V606.7L708.5 609.8V601.3L709.2 603.2V615.9L709.9 604.4V599.4L710.6 598.1V607.1L711.3 601.1V596L712 589.7V601.3L712.7 605.2V599.3L713.4 597.4V606.5L714.1 609.1V603.5L714.8 601.3V612.3L715.5 617.3V610.4L716.2 609.1V621.4L716.9 627.5V608.9L717.6 597.4V612.5L718.3 616.8V598.8L719 587.7V605.2L719.7 612.4V604.5L720.4 614.9V620.1L721.1 626.5V618.7L721.8 611V624.3L722.5 632.3V610.5L723.2 585.8V609.8L723.9 620.7V592.3L724.6 584.4V600.6L725.3 600.6V566.4L726 597.3V619.6L726.7 634.1V605.2L727.4 634.3V655.6L728.1 655.1V636.2L728.8 630.9V668.8L729.5 631.3V612.9L730.2 621.3V640.1L730.9 632.8V614.9L731.6 618.8V641.1L732.3 627V609.1L733 619V636.2L733.7 627.2V614.9L734.4 620.6V634.3L735.1 630.1V622.4L735.8 614.9V625.9L736.5 636.2V609.8L737.2 597.4V609.6L737.9 618.8V599.8L738.6 591.6V609.3L739.3 627.6V613L740 605.2V647.6L740.7 663.4V606.8L741.4 566.4V611.4L742.1 624.6V580.3L742.8 572.3V585.4L743.5 578.9V556.3L744.2 572.7V585.8L744.9 586.9V574.2L745.6 584.1V593.5L746.3 596.1V581.9L747 599.6V608.4L747.7 619.9V611.8L748.4 611V628.7L749.1 634.3V626.3L749.8 630.4V638.5L750.5 645V628.7L751.2 618.4V629.3L751.9 618.5V603.2L752.6 597V634.3L753.3 592.1V581.9L754 568.4V605.2L754.7 564.5V539.2L755.4 523.9V585.8L756.1 523.1V492.7L756.8 481V543.1L757.5 542.3V517L758.2 506.3V563.2L758.9 584.8V547L759.6 557.9V574.2L760.3 573.4V550.9L761 571V586.8L761.7 597.9V566.4L762.4 582.2V611L763.1 596.2V574.2L763.8 558.6V611L764.5 581.9V552.3L765.2 531.1V562.5L765.9 573.5V562.5L766.6 574.3V589.7L767.3 589.8V581.8L768 581.9V595.5L768.7 601.7V595.1L769.4 593.5V606.7L770.1 612.9V603.6L770.8 606.4V611.9L771.5 612.2V605.2L772.2 608.8V616.4L772.9 612.5V608.9L773.6 608.5V611.8L774.3 612V605.2L775 608.2V614.9L775.7 612.6V606.6L776.4 604.5V610.4L777.1 610V605L777.8 603.8V609.6L778.5 610.2V603.2L779.2 603.2V612.9L779.9 609V603.4L780.6 603.7V608.4L781.3 609.1V604.6L782 603.6V609.3L782.7 609V603.9L783.4 601.3V608.2L784.1 610V603.1L784.8 602.6V607.7L785.5 606.8V601.8L786.2 600.8V605.8L786.9 605.2V600.7L787.6 599.7V605.7L788.3 604.8V598.4L789 598.8V607.1L789.7 603.5V597.6L790.4 597.3V604.2L791.1 604V597.9L791.8 593.5V604.7L792.5 605.2V597.5L793.2 596.4V602.9L793.9 601.2V596.9L794.6 596.8V601.5L795.3 602V597.4L796 596.5V603L796.7 604.2V598.2L797.4 597.4V603L798.1 602.3V597.4L798.8 596.1V600.1L799.5 601.5V593.5L800.2 594.6V603.2L800.9 599.9V593.7L801.6 589.3V598.1L802.3 601.3V592.6L803 594.4V600.6L803.7 602.6V596.6L804.4 594.5V603.8L805.1 605.2V596.1L805.8 596.4V602.9L806.5 601.9V596.2L807.2 597.1V601.4L807.9 601.4V596.7L808.6 594.5V601.9L809.3 603.2V596.3L810 595.3V600.2L810.7 600.6V595.4L811.4 592.6V601.7L812.1 602.3V595.6L812.8 595.6V601.6L813.5 600.2V595.3L814.2 595.4V600.4L814.9 600.1V595.2L815.6 595.5V600.9L816.3 600.8V594.5L817 594.8V603.2L817.7 599.8V594.9L818.4 596.5V601L819.1 601.4V596.1L819.8 595.2V600.2L820.5 602V596.4L821.2 596.6V601.7L821.9 601.5V594.5L822.6 595.2V604.2L823.3 602V596L824 595.9V601.9L824.7 602.3V596.3L825.4 597.1V601.2L826.1 602.5V597.4L826.8 597.2V603.1L827.5 603.1V597.6L828.2 595.1V602.4L828.9 604.2V595.9L829.6 596.6V601.5L830.3 601.9V597.3L831 597.7V602.3L831.7 603.4V596.8L832.4 598V603.6L833.1 603.1V596.9L833.8 595.5V602.5L834.5 604.8V596.5L835.2 596.5V601.3L835.9 601.6V595.4L836.6 597.2V601.2L837.3 601.3V596.2L838 598V602.6L838.7 602.2V597.2L839.4 595.1V601.8L840.1 604.2V597.5L840.8 596.9V602.4L841.5 602.4V597.6L842.2 597.4V603.3L842.9 603V597.5L843.6 598.1V603.3L844.3 601.9V597.9L845 596.5V602.3L845.7 602.1V594.5L846.4 595.7V604.2L847.1 600.9V595.8L847.8 595.6V601.9L848.5 601.9V595.6L849.2 595.6V601.5L849.9 600.9V596.2L850.6 597.1V601.8L851.3 602.5V595.1L852 596.1V605.2L852.7 601.3V595.3L853.4 596.8V601.3L854.1 601.4V596.3L854.8 594.8V601.9L855.5 601.2V595.9L856.2 592.6V600.7L856.9 603.2V593.5L857.6 592.2V597.7L858.3 599.1V590.6L859 594.3V601.6L859.7 603.3V595.5L860.4 590.1V604.5L861.1 606.2V596.3L861.8 595.7V603.7L862.5 603.7V596.4L863.2 598V606.2L863.9 603.9V598L864.6 599.3V604.9L865.3 606.1V600.3L866 598.4V605.7L866.7 607.5V601.2L867.4 600.7V605L868.1 606.1V600.3L868.8 601.1V606L869.5 606V601.4L870.2 600.1V604.7L870.9 604.8V599L871.6 600.2V607.1L872.3 605.4V599.9L873 599.1V604L873.7 604.4V599.7L874.4 600.2V605.2L875.1 605.7V601.4L875.8 600.1V605.9L876.5 604.8V597.4L877.2 599.8V606.2L877.9 602.5V597.3L878.6 597V602.8L879.3 601.5V597L880 596.8V602.5L880.7 599.9V593.2L881.4 595.2V603.2L882.1 600V594.4L882.8 595.4V600.4L883.5 601.6V596.5L884.2 596.5V601L884.9 602.6V597.7L885.6 596.1V602.1L886.3 602.5V594.5L887 595.7V604.2L887.7 601.8V596.2L888.4 595.8V602.3L889.1 601.9V596.4L889.8 596.8V602.1L890.5 602.3V597.4L891.2 595.8V602L891.9 603V595.1L892.6 598.5V604.2L893.3 602.7V598L894 597V602.5L894.7 601.6V597L895.4 597.6V602.8L896.1 603.2V597.9L896.8 596.4V601.3L897.5 601.9V595.5L898.2 597.2V604.2L898.9 601.9V597.3L899.6 597.6V603L900.3 602.8V597.9L901 599V604.5L901.7 604.8V599.8L902.4 598.9V604.7L903.1 604.5V598.9L903.8 596.5V604.1L904.5 605.2V599.8L905.2 599.3V604.5L905.9 605.1V600.6L906.6 600.1V604.4L907.3 605.3V600.4L908 601.2V605.1L908.7 605.6V601.6L909.4 601.4V605.2L910.1 605.7V599.4L910.8 600.5V606.7L911.5 605.2V600.8L912.2 599.3V603.8L912.9 603.5V599.6L913.6 599.7V603.2L914.3 603.4V599.6L915 596.5V602.9L915.7 605.2V596.8L916.4 598.1V602.3L917.1 603.2V598L917.8 597.2V601.6L918.5 603.1V597L919.2 598.6V602.8L919.9 602.6V597.2L920.6 597.2V602.3L921.3 601V595.1L922 596V604.2L922.7 602.4V597.3L923.4 596.5V602.3L924.1 601.6V596.5L924.8 597.3V601.3L925.5 601.2V596.2L926.2 595.9V600.8L926.9 600.5V594.5L927.6 595V603.2L928.3 600.8V596.8L929 597.5V602.3L929.7 602V596L930.4 596.5V602.2L931.1 601V596.4L931.8 596.1V602.7L932.5 601.6V593.5L933.2 595.3V602.9L933.9 601V594.9L934.6 595.4V601.3L935.3 601V596.1L936 595.2V601.6L936.7 600.8V595.1L937.4 595.2V600.1L938.1 602V596.9L938.8 593.9V602.6L939.5 602.9V597.7L940.2 597.4V601.2L940.9 601.8V595.8L941.6 597.2V602.2L942.3 602.9V597.2L943 596.5V602.1L943.7 601.9V595.9L944.4 594.5V601.6L945.1 604.2V595.8L945.8 596.7V602.3L946.5 602.6V597L947.2 596.7V602L947.9 601V595.7L948.6 596.9V601.4L949.3 602.3V597.7L950 595.1V602.8L950.7 604.2V597.1L951.4 596.7V602.1L952.1 602.2V597.3L952.8 597.5V603.1L953.5 603.1V597.7L954.2 599.4V604.1L954.9 603.6V598.3L955.6 595.9V603.4L956.3 604.8V597.5L957 598V602.1L957.7 601.7V597.7L958.4 596.5V602.4L959.1 602.1V597.3L959.8 596.5V603.5L960.5 605.2V597.8L961.2 597.7V603.3L961.9 602.6V597.7L962.6 597.5V603.1L963.3 603.1V598.5L964 597.7V601.7L964.7 603.3V597.7L965.4 597.1V601.9L966.1 603.3V597.9L966.8 597.5V603.1L967.5 603.4V594.5L968.2 596.2V604.2L968.9 602.2V596.7L969.6 596.2V600.5L970.3 601.6V596.5L971 596.9V602.6L971.7 602.8V598L972.4 597.2V602.6L973.1 602.9V597.4L973.8 597V601.9L974.5 601.7V597.1L975.2 594.5V600.5L975.9 603.2V595.5L976.6 594.7V599.4L977.3 599.9V594.5L978 595.8V601L978.7 601.5V595.3L979.4 595.9V601.4L980.1 601V595.8L980.8 596.4V601L981.5 600.4V592.6L982.2 594.3V602.3L982.9 600.1V595.5L983.6 594.1V599.4L984.3 600.6V595.4L985 595.9V601.3L985.7 602.1V595.5L986.4 596.4V602.4L987.1 600.7V596.2L987.8 595.6V602.1L988.5 600.7V595.5L989.2 595.1V600.8L989.9 604.2V597.3L990.6 597.8V601.8L991.3 601.6V597.2L992 596.6V602L992.7 602.5V597.1L993.4 597.3V602.6L994.1 602.1V596.7L994.8 596.5V602.5L995.5 605.2V598.1L996.2 597.9V602.9L996.9 603V598.3L997.6 597.7V601.9L998.3 601.7V597.5L999 597.9V602.3L999.7 602.3V597.6L1000.4 598.7V603.3L1001.1 602V597.9L1001.8 597.6V602.4L1002.5 601.4V596.5L1003.2 597.8V604.2L1003.9 603V598L1004.6 599.5V603L1005.3 602.7V598.6L1006 598.4V602.8L1006.7 602.3V597.9L1007.4 598.5V602.4L1008.1 602.5V597.6L1008.8 598.6V603L1009.5 603.3V599.4L1010.2 597.4V604.1L1010.9 605.2V599.3L1011.6 599.3V603.2L1012.3 603.5V599.4L1013 600.3V604.4L1013.7 605.2V600.6L1014.4 600.5V604.9L1015.1 604.8V600.7L1015.8 601V605.4L1016.5 604.8V599.5L1017.2 599.5V604.5L1017.9 603.2V598.4L1018.6 599.6V606.2L1019.3 604V599.7L1020 599.5V603.5L1020.7 603.5V599.9L1021.4 599.3V604.6L1022.1 604.9V599.4L1022.8 598.5V604.5L1023.5 602.9V598.8L1024.2 598.2V603.5L1024.9 604V598.4L1025.6 598.7V603.4L1026.3 603V598L1027 596.5V603.8L1027.7 606.2V598.6L1028.4 599.8V605.1L1029.1 604.1V598.6L1029.8 600.6V606.1L1030.5 605.6V600.5L1031.2 601.2V606L1031.9 605.5V600.7L1032.6 600.2V606.4L1033.3 605.3V600.3L1034 599.4V606L1034.7 608.1V601L1035.4 601.3V605.6L1036.1 605.5V599.8L1036.8 599.9V605.4L1037.5 606.2V600.6L1038.2 601.4V606.3L1038.9 607.8V602.4L1039.6 603.2V607.3L1040.3 606.8V602.6L1041 602.3V607.1L1041.7 606.9V600.3L1042.4 602.2V608.1L1043.1 606.4V602.2L1043.8 601.9V606.9L1044.5 606.2V602L1045.2 601.8V605.3L1045.9 606.6V601.6L1046.6 601.4V606.8L1047.3 606V602.7L1048 602.2V606.2L1048.7 606.7V602.5L1049.4 601.3V606.4L1050.1 609.1V602.2L1050.8 603.6V607.5L1051.5 606.3V602.1L1052.2 601.8V606.5L1052.9 606.5V601L1053.6 601.7V605.9L1054.3 606.9V601L1055 600.9V605.4L1055.7 606V601L1056.4 601.1V604.9L1057.1 606V599.4L1057.8 601.7V608.1L1058.5 607.6V602.1L1059.2 602.5V607.1L1059.9 607.5V602.8L1060.6 601.8V606.5L1061.3 606V601.3L1062 601V606.5L1062.7 606.1V601.5L1063.4 602.1V607.4L1064.1 606.8V602.7L1064.8 600.3V607.7L1065.5 609.1V602.2L1066.2 601.8V606.6L1066.9 607.4V602.7L1067.6 603.3V608.2L1068.3 608.4V603.7L1069 604.4V608.9L1069.7 608.9V603.8L1070.4 603.7V608.1L1071.1 607.1V602.8L1071.8 602.5V607.8L1072.5 608.5V601.3L1073.2 603.7V609.5L1073.9 608V603.5L1074.6 602.5V607.8L1075.3 608.4V603.2L1076 602.1V607.2L1076.7 607.3V601.9L1077.4 602.8V608.1L1078.1 607.3V602.4L1078.8 601.8V607.7L1079.5 608.2V602L1080.2 599.4V609.1L1080.9 610V602.3L1081.6 602.6V608.5L1082.3 608.3V602.4L1083 603.7V609.3L1083.7 607.6V602.7L1084.4 602.2V608.5L1085.1 606.6V602.2L1085.8 601.5V607.1L1086.5 607.7V602.7L1087.2 603.2V607.3L1087.9 608.5V601.3L1088.6 602.8V611L1089.3 608.6V603.1L1090 602.7V608.8L1090.7 609.9V604.8L1091.4 603.9V609.4L1092.1 609.8V605.4L1092.8 604.1V609.6L1093.5 609.4V604.4L1094.2 603.5V609.1L1094.9 610V603.3L1095.6 602.3V610L1096.3 612V605.3L1097 605.8V610.3L1097.7 610.5V605.4L1098.4 605.3V609.8L1099.1 610.1V604L1099.8 604.1V610.7L1100.5 610.5V605L1101.2 603.9V609.1L1101.9 608.8V604.1L1102.6 604.1V610L1103.3 610V603.2L1104 604.4V612.9L1104.7 610.4V605.6L1105.4 606.1V611.2L1106.1 610.9V605.8L1106.8 604.2V609.9L1107.5 609.6V605.5L1108.2 605.7V610.2L1108.9 610.8V605.4L1109.6 606.5V611L1110.3 611.5V605.4L1111 604.2V611.6L1111.7 612.9V605.5L1112.4 604.9V610L1113.1 609.6V605.1L1113.8 605.3V610.7L1114.5 612.3V606L1115.2 606.9V612.3L1115.9 611.4V603.2L1116.6 604.5V612.9L1117.3 607V602.2L1118 600.6V607.1L1118.7 604.5V598.4L1119.4 600.5V608.1L1120.1 604.9V599.9L1120.8 599.5V605.1L1121.5 604.6V595.1L1122.2 598.9V605.4L1122.9 605.6V599.4L1123.6 597.4V606.3L1124.3 607.7V601.6L1125 604.1V608.8L1125.7 609.5V603.2L1126.4 604.8V612L1127.1 609.7V605.1L1127.8 605.8V612.3L1128.5 611.7V607.2L1129.2 606.8V613.8L1129.9 614.1V605.2L1130.6 607.9V615.9L1131.3 614.2V608.7L1132 608.1V612.9L1132.7 614.4V607.2L1133.4 607.6V613L1134.1 612.2V606.8L1134.8 604.2V611.2L1135.5 613.9V604.8L1136.2 605.7V611.5L1136.9 611.8V606.3L1137.6 606.6V613.4L1138.3 613.3V607.6L1139 609.6V614.7L1139.7 615.4V610.1L1140.4 606.2V616L1141.1 616.8V607.6L1141.8 607.9V614.4L1142.5 614.2V609L1143.2 608.9V615.3L1143.9 617.2V609.9L1144.6 611.5V616.7L1145.3 618.1V610.7L1146 608.1V617.7L1146.7 618.8V611.2L1147.4 611.5V616.9L1148.1 616.8V611.2L1148.8 610.4V615.6L1149.5 616.1V610L1150.2 611.1V617L1150.9 616.9V607.1L1151.6 610.4V618.8L1152.3 615V608.5L1153 608.7V614.6L1153.7 618.8V607.1" fill="none" stroke="#0000ff" stroke-width="1.05" stroke-linejoin="round"/>
<polygon points="166,606.5 166.8,605.3 167.6,603.2 168.4,601.2 169.2,599.7 170,597.8 170.8,595.6 171.6,592.9 172.4,594.1 173.2,594.7 174,595.7 174.8,597.8 175.6,601 176.4,604.5 177.2,606.4 178,607 178.8,607.2 179.6,606.5 180.4,603.9 181.2,601.7 182,598.6 182.8,592.7 183.6,584.2 184.4,583.3 185.2,582.6 186,581.4 186.8,578.9 187.6,578.5 188.4,578.4 189.2,577.3 190,574.9 190.8,573.1 191.6,573.9 192.4,579.3 193.2,580.9 194,578 194.8,579.5 194.8,592.5 194,591.4 193.2,589.4 192.4,590.5 191.6,590.5 190.8,591.1 190,592.7 189.2,592.5 188.4,594 187.6,595 186.8,597.4 186,597.7 185.2,599.8 184.4,600.2 183.6,601.6 182.8,607.5 182,611.2 181.2,614.6 180.4,615.1 179.6,616.5 178.8,617.8 178,617.7 177.2,619 176.4,615.4 175.6,613.3 174.8,609.6 174,607.1 173.2,606.2 172.4,604.1 171.6,603.8 170.8,604.7 170,608 169.2,609.9 168.4,612.2 167.6,614.4 166.8,616 166,618.5" fill="#00ff00"/>
<path d="M166.7 612.7V619M170.8 595.6V605M175.3 606.1V613.4M179.5 611.7V618.4M183.5 590.8V603.8M188.3 586.7V598.1M192.5 579.6V585.2" stroke="#0000ff" stroke-width="0.9" fill="none"/>
</g>
<g id="panel3">
<rect x="165.4" y="797.3" width="989.2" height="308.9" fill="none" stroke="#262626" stroke-width="1.1"/>
<text x="156.4" y="803.9" font-size="20.6" text-anchor="end" class="tk" textLength="38.5" lengthAdjust="spacingAndGlyphs">100</text>
<text x="156.4" y="906.9" font-size="20.6" text-anchor="end" class="tk" textLength="25.6" lengthAdjust="spacingAndGlyphs">50</text>
<text x="156.4" y="1009.8" font-size="20.6" text-anchor="end" class="tk" textLength="12.8" lengthAdjust="spacingAndGlyphs">0</text>
<text x="156.4" y="1112.8" font-size="20.6" text-anchor="end" class="tk" textLength="32.9" lengthAdjust="spacingAndGlyphs">-50</text>
<path d="M412.6 797.3v10.3M412.6 1106.2v-10.3M660.7 797.3v10.3M660.7 1106.2v-10.3M907.5 797.3v10.3M907.5 1106.2v-10.3M165.4 900.3h10.3M1154.6 900.3h-10.3M165.4 1003.2h10.3M1154.6 1003.2h-10.3" stroke="#262626" stroke-width="1.1" fill="none"/>
<path d="M169.8 800.1H176V1102.7H169.8ZM177.2 800.1H182V1102.7H177.2ZM183.2 800.1H186.8V1102.7H183.2ZM189.2 800.1H192.8V1102.7H189.2ZM196.1 800.1H221.8V1102.7H196.1ZM226.2 800.1H228.9V1102.7H226.2ZM231.1 800.1H232.7V1102.7H231.1ZM234 800.1H245.8V1102.7H234ZM257.2 800.1H259.9V1102.7H257.2ZM281.2 800.1H282.7V1102.7H281.2ZM285 800.1H286.8V1102.7H285ZM301.3 800.1H303.6V1102.7H301.3ZM304.7 800.1H306.8V1102.7H304.7ZM363.4 800.1H365V1102.7H363.4ZM365.9 800.1H371.9V1102.7H365.9ZM376 800.1H376.9V1102.7H376ZM555.1 800.1H555.9V1102.7H555.1ZM600.3 800.1H601.1V1102.7H600.3ZM629 800.1H631.8V1102.7H629ZM637.2 800.1H638.8V1102.7H637.2ZM652.3 800.1H652.8V1102.7H652.3ZM654.5 800.1H655.4V1102.7H654.5ZM656 800.1H656.8V1102.7H656ZM660.1 800.1H661.2V1102.7H660.1ZM669.3 800.1H669.9V1102.7H669.3ZM680.1 800.1H684.6V1102.7H680.1ZM686 800.1H686.8V1102.7H686ZM688 800.1H689V1102.7H688ZM690.1 800.1H691.5V1102.7H690.1ZM694 800.1H708.1V1102.7H694ZM709.3 800.1H710.8V1102.7H709.3ZM721.9 800.1H729.7V1102.7H721.9ZM755.9 800.1H759.8V1102.7H755.9ZM761.2 800.1H762.9V1102.7H761.2ZM764.2 800.1H766.7V1102.7H764.2ZM769.1 800.1H776.9V1102.7H769.1ZM811.2 800.1H812.6V1102.7H811.2ZM882.2 800.1H884.8V1102.7H882.2ZM1026.2 800.1H1027.9V1102.7H1026.2ZM1075.2 800.1H1077V1102.7H1075.2ZM1077.9 800.1H1078.7V1102.7H1077.9ZM1086.1 800.1H1086.8V1102.7H1086.1Z" fill="#d9d9d9"/>
<path d="M277 800.1H278.9V1102.7H277ZM294 800.1H295.2V1102.7H294ZM295.8 800.1H297V1102.7H295.8ZM712.2 800.1H721.9V1102.7H712.2ZM737.1 800.1H738V1102.7H737.1ZM739 800.1H741V1102.7H739ZM742 800.1H742.9V1102.7H742ZM745.8 800.1H749.9V1102.7H745.8ZM753.9 800.1H755V1102.7H753.9Z" fill="#ffb3ff"/>
<path d="M165.4 800.1V1102.7" stroke="#fff" stroke-width="1.6"/>
<path d="M165.4 800.1V1102.7" stroke="#d4d4d4" stroke-width="0.8"/>
<text x="66.3" y="951.8" font-size="18.4" text-anchor="middle" class="b" transform="rotate(-90 66.3 951.8)" fill="#262626" textLength="175.8" lengthAdjust="spacingAndGlyphs">Measured-Model</text>
<text x="91.9" y="951.8" font-size="18.4" text-anchor="middle" class="b" transform="rotate(-90 91.9 951.8)" fill="#262626" textLength="140.2" lengthAdjust="spacingAndGlyphs">B Center (nT)</text>
<text x="1176" y="1019.7" font-size="16" text-anchor="start" class="b" transform="rotate(-90 1176 1019.7)" textLength="89" lengthAdjust="spacingAndGlyphs">Inboard B</text>
<text x="1196.3" y="1019.9" font-size="16" text-anchor="start" class="b" transform="rotate(-90 1196.3 1019.9)" textLength="106.8" lengthAdjust="spacingAndGlyphs">Outboard B</text>
<path d="M1171.0 1047.3V1064.8" stroke="#0000ff" stroke-width="2"/>
<path d="M1191 1047.3V1064.8" stroke="#00ff00" stroke-width="2"/>
<polygon points="166.3,962.3 167.7,969.3 169.1,978.2 170.5,975.3 171.9,977.7 173.3,985.4 174.7,985.8 176.1,976.6 177.5,966.3 178.9,970.3 180.3,964.7 181.7,975.7 183.1,967 184.5,984.9 185.9,972.8 187.3,986 188.7,974.9 190.1,989.1 191.5,979.1 192.9,992.9 194.3,978.3 195.7,978 197.1,963.8 198.5,960.1 199.9,975.5 201.3,966.8 202.7,976.7 204.1,973.4 205.5,980.5 206.9,986.1 208.3,989.1 209.7,1006.6 211.1,995 212.5,1000 213.9,991.1 215.3,997.6 216.7,991.1 218.1,987.2 219.5,998.1 220.9,990.2 222.3,993 223.7,980.5 225.1,987.1 226.5,987.2 227.9,990.1 229.3,982.4 230.7,988.5 232.1,984.3 233.5,998.3 234.9,989.2 236.3,981 237.7,996.4 239.1,987.2 240.5,993.4 241.9,980.2 243.3,992.5 244.7,984.8 246.1,984.1 247.5,959 248.9,969.6 250.3,980.6 251.7,975.6 253.1,974.9 254.5,959.5 255.9,959.8 257.3,978.7 258.7,976.6 260.1,976 261.5,972.7 262.9,976.6 264.3,971.7 265.7,983.6 267.1,973.7 268.5,979.5 269.9,981.5 271.3,970.2 272.7,959.6 274.1,969.7 275.5,976.2 276.9,969.6 278.3,977.9 279.7,986.7 281.1,972.6 282.5,985.2 283.9,986.1 285.3,988.7 286.7,975.3 288.1,977.3 289.5,977.3 290.9,985.6 292.3,960.1 293.7,973.1 295.1,969.6 296.5,981.4 297.9,976.6 299.3,989.8 300.7,967.3 302.1,976.1 303.5,985.4 304.9,967.8 306.3,973.4 307.7,968.8 309.1,976.9 310.5,972.7 311.9,965.9 313.3,977.5 314.7,969.8 316.1,964 317.5,953.9 318.9,962.5 320.3,965.9 321.7,973.8 323.1,985 324.5,981.4 325.9,967.8 327.3,964 328.7,971 330.1,964.9 331.5,961.9 332.9,958.1 334.3,965.4 335.7,963.4 337.1,954.1 338.5,972 339.9,965.9 341.3,953.3 342.7,964.6 344.1,964 345.5,972 346.9,962 348.3,964.1 349.7,950.2 351.1,956.6 352.5,949.7 353.9,962.8 355.3,951.7 356.7,961.6 358.1,950.1 359.5,941.8 360.9,933.9 362.3,906 363.7,921.4 365.1,942.1 366.5,958.9 367.9,961.5 369.3,961.1 370.7,956 372.1,959.4 373.5,954.1 374.9,960.8 376.3,952.5 377.7,940.5 379.1,950.9 380.5,952 381.9,937.6 383.3,937.7 384.7,932.8 386.1,941.9 387.5,949.8 388.9,936.8 390.3,949.6 391.7,948.5 393.1,944.3 394.5,948.5 395.9,938 397.3,943.6 398.7,938.9 400.1,928.6 401.5,937 402.9,934.8 404.3,941.3 405.7,930.7 407.1,927.1 408.5,939.4 409.9,936.6 411.3,924.1 412.7,938.4 414.1,932.6 415.5,928.4 416.9,940.3 418.3,930.5 419.7,937.4 421.1,940.3 422.5,927 423.9,927.7 425.3,916.4 426.7,920.6 428.1,915.5 429.5,916.4 430.9,925.7 432.3,922.3 433.7,927.8 435.1,929.1 436.5,935.7 437.9,931.8 439.3,922.3 440.7,925.2 442.1,928.8 443.5,920.9 444.9,924.3 446.3,923.1 447.7,932.9 449.1,927.1 450.5,938.7 451.9,942.2 453.3,934 454.7,928.6 456.1,928.6 457.5,926.2 458.9,933.9 460.3,930.5 461.7,936.4 463.1,937.1 464.5,931.3 465.9,942.3 467.3,942.2 468.7,943.3 470.1,944.6 471.5,934.9 472.9,937.1 474.3,932 475.7,949.6 477.1,947.4 478.5,940.7 479.9,958.7 481.3,944.6 482.7,950.4 484.1,936.8 485.5,950 486.9,950.2 488.3,958.4 489.7,953.3 491.1,958.9 492.5,960.4 493.9,959.1 495.3,966.5 496.7,954.6 498.1,950.2 499.5,967.3 500.9,970.7 502.3,979.8 503.7,980 505.1,973.6 506.5,989 507.9,983.4 509.3,996.9 510.7,996.8 512.1,985.3 513.5,991 514.9,986.3 516.3,999.3 517.7,1000.8 519.1,1012.2 520.5,1002.7 521.9,1009.9 523.3,1014.8 524.7,1000.6 526.1,1011.8 527.5,1013.6 528.9,996 530.3,1017.7 531.7,1002.8 533.1,1016.4 534.5,1012.4 535.9,1023.9 537.3,1007.6 538.7,1018 540.1,1015.5 541.5,1008.6 542.9,1007.6 544.3,1016.3 545.7,1041.6 547.1,1024.1 548.5,1010.5 549.9,1025.4 551.3,1019.8 552.7,1020.3 554.1,1012.1 555.5,1018 556.9,1039.1 558.3,1007.6 559.7,1008.6 561.1,1029.1 562.5,1012.5 563.9,1027.2 565.3,1008.6 566.7,1011.7 568.1,994 569.5,1003.6 570.9,996.7 572.3,1009.3 573.7,1002.1 575.1,987.9 576.5,992.1 577.9,994.5 579.3,986.9 580.7,994.7 582.1,1001.1 583.5,988.8 584.9,1004.9 586.3,1002.1 587.7,991.1 589.1,997.3 590.5,978.4 591.9,990.8 593.3,986.2 594.7,963.6 596.1,998.9 597.5,1008.6 598.9,1011.6 600.3,993.3 601.7,981.8 603.1,994.8 604.5,997.5 605.9,977.2 607.3,1001.6 608.7,990.7 610.1,992 611.5,978.4 612.9,992.6 614.3,976.6 615.7,987.1 617.1,971.7 618.5,960.1 619.9,974.3 621.3,950.4 622.7,968.8 624.1,967.3 625.5,939.7 626.9,974.1 628.3,967.8 629.7,960.8 631.1,945 632.5,961.3 633.9,962 635.3,964 636.7,963.9 638.1,932.2 639.5,959.7 640.9,960.5 642.3,963.6 643.7,969 645.1,960 646.5,975.4 647.9,957.2 649.3,981.5 650.7,965.9 652.1,977.9 653.5,970.8 654.9,978.4 656.3,975.6 657.7,991 659.1,1012 660.5,1004.7 661.9,1015.9 663.3,1014.3 664.7,1022.4 666.1,1023.8 667.5,1038.5 668.9,1037.4 670.3,1054.9 671.7,1060 673.1,1044.2 674.5,1056.9 675.9,1050.9 677.3,1023.8 678.7,998.7 680.1,950.3 681.5,907.5 682.9,905.8 684.3,881.1 685.7,859.1 687.1,837.4 688.5,849.5 689.9,864.5 691.3,863.1 692.7,867 694.1,874.8 695.5,865 696.9,865 698.3,872.2 699.7,868.9 701.1,852 702.5,864.8 703.9,882.4 705.3,874.4 706.7,880 708.1,887.5 709.5,895.6 710.9,913.1 712.3,909.1 713.7,913.5 715.1,929.1 716.5,948.4 717.9,938.7 719.3,943 720.7,942.6 722.1,952.3 723.5,945.5 724.9,943.5 726.3,962.4 727.7,958.1 729.1,963.7 730.5,947.5 731.9,942.1 733.3,950.4 734.7,952.2 736.1,945.6 737.5,931 738.9,924.7 740.3,937.8 741.7,912.4 743.1,905.8 744.5,921.2 745.9,922.2 747.3,931.9 748.7,937.7 750.1,930.9 751.5,939.5 752.9,927.3 754.3,914.5 755.7,896.9 757.1,910.9 758.5,927.1 759.9,945.8 761.3,953.2 762.7,947.5 764.1,943.5 765.5,943 766.9,948.3 768.3,950.1 769.7,949.4 771.1,955.7 772.5,947.9 773.9,949 775.3,953.9 776.7,959.3 778.1,952.8 779.5,949.8 780.9,954.4 782.3,953.1 783.7,958.2 785.1,962.8 786.5,955.1 787.9,955.3 789.3,957.8 790.7,946 792.1,957.1 793.5,949.4 794.9,953.4 796.3,956.8 797.7,950.2 799.1,957.5 800.5,950.5 801.9,956.4 803.3,951.8 804.7,942.2 806.1,953.8 807.5,952.1 808.9,947.5 810.3,955.4 811.7,943.6 813.1,947.6 814.5,950.7 815.9,947.5 817.3,953.7 818.7,955.9 820.1,955.9 821.5,961.9 822.9,947.7 824.3,956.9 825.7,951.8 827.1,953.4 828.5,952.2 829.9,960.3 831.3,956.2 832.7,962 834.1,950.4 835.5,959.6 836.9,952.3 838.3,959.1 839.7,964.7 841.1,955.2 842.5,973 843.9,969.7 845.3,971.4 846.7,975.7 848.1,965.6 849.5,964.5 850.9,959.1 852.3,963.4 853.7,971.2 855.1,956.2 856.5,968.1 857.9,971.8 859.3,967.8 860.7,975.3 862.1,965.9 863.5,968.6 864.9,961 866.3,955.2 867.7,973.7 869.1,976.5 870.5,978.6 871.9,969.6 873.3,976.5 874.7,968.6 876.1,975.9 877.5,981.4 878.9,968.3 880.3,978.5 881.7,973.7 883.1,957.9 884.5,946.5 885.9,961.4 887.3,956.2 888.7,961.1 890.1,948.4 891.5,965.9 892.9,967.3 894.3,965.8 895.7,971.7 897.1,968.8 898.5,975.3 899.9,985.9 901.3,975.5 902.7,991.4 904.1,984.3 905.5,993 906.9,985.3 908.3,983.6 909.7,980.5 911.1,980.8 912.5,977.5 913.9,967.5 915.3,984.9 916.7,989.5 918.1,977.5 919.5,986.7 920.9,969.4 922.3,989 923.7,979.5 925.1,984.5 926.5,981.4 927.9,996.4 929.3,990 930.7,974.6 932.1,987.3 933.5,976.9 934.9,971.7 936.3,984.7 937.7,977.5 939.1,979.6 940.5,965.9 941.9,986.2 943.3,994.1 944.7,987.2 946.1,988.4 947.5,980.5 948.9,995.9 950.3,989.2 951.7,1001.9 953.1,987.2 954.5,990 955.9,993.1 957.3,1001 958.7,998.9 960.1,1002.9 961.5,1007.8 962.9,996.9 964.3,1009.3 965.7,1009 967.1,1000.8 968.5,998.7 969.9,988.2 971.3,997.5 972.7,994.4 974.1,989.2 975.5,997.5 976.9,985.3 978.3,985 979.7,970.8 981.1,976.4 982.5,986 983.9,981.4 985.3,988.1 986.7,981.4 988.1,989.1 989.5,992.6 990.9,987.2 992.3,994.4 993.7,989.2 995.1,992.2 996.5,979.5 997.9,989.9 999.3,989.1 1000.7,1002.4 1002.1,1000.7 1003.5,996 1004.9,1007.7 1006.3,1009 1007.7,1010.5 1009.1,1016.8 1010.5,1020.6 1011.9,1008.6 1013.3,1005.1 1014.7,992.1 1016.1,1003 1017.5,998.9 1018.9,1005.8 1020.3,991.1 1021.7,996.6 1023.1,983.4 1024.5,1003.7 1025.9,998.9 1027.3,996.9 1028.7,999.7 1030.1,979.5 1031.5,984.4 1032.9,977.5 1034.3,978 1035.7,970.8 1037.1,981 1038.5,977.5 1039.9,978.3 1041.3,978.5 1042.7,982.5 1044.1,973.7 1045.5,987 1046.9,980.2 1048.3,973.7 1049.7,972.3 1051.1,966.9 1052.5,974.5 1053.9,978.2 1055.3,970.8 1056.7,973.5 1058.1,965.5 1059.5,979.7 1060.9,975.5 1062.3,973.7 1063.7,974.9 1065.1,970.4 1066.5,971.5 1067.9,964.1 1069.3,972.9 1070.7,975.1 1072.1,982.2 1073.5,975.4 1074.9,976.5 1076.3,973.1 1077.7,981.7 1079.1,977.3 1080.5,983.3 1081.9,980.5 1083.3,988.5 1084.7,991.9 1086.1,981.4 1087.5,982.6 1088.9,974.6 1090.3,976.4 1091.7,981.8 1093.1,990.6 1094.5,976.2 1095.9,985.7 1097.3,981.2 1098.7,979 1100.1,973.2 1101.5,982.4 1102.9,967.8 1104.3,976.2 1105.7,978.8 1107.1,972.1 1108.5,975.2 1109.9,972.3 1111.3,975.1 1112.7,984 1114.1,976.6 1115.5,984.1 1116.9,979 1118.3,970.6 1119.7,978.5 1121.1,975.9 1122.5,973.7 1123.9,980.1 1125.3,972.7 1126.7,977.4 1128.1,982.4 1129.5,976.6 1130.9,979.9 1132.3,982.8 1133.7,970.5 1135.1,982.7 1136.5,985.5 1137.9,970.5 1139.3,975.4 1140.7,969.5 1142.1,975.3 1143.5,980.8 1144.9,970.5 1146.3,977 1147.7,975.6 1149.1,971.8 1150.5,980.2 1151.9,970.4 1153.3,967.5 1153.3,1022.7 1151.9,1015.4 1150.5,1016.9 1149.1,1021.1 1147.7,1015.7 1146.3,1021.9 1144.9,1018.1 1143.5,1018 1142.1,1020 1140.7,1012.1 1139.3,1011.3 1137.9,1020.8 1136.5,1012.9 1135.1,1015.4 1133.7,1022.7 1132.3,1022 1130.9,1026.6 1129.5,1015.4 1128.1,1021 1126.7,1025.6 1125.3,1016.5 1123.9,1017.2 1122.5,1027.6 1121.1,1018.6 1119.7,1015.1 1118.3,1024.7 1116.9,1018.8 1115.5,1025.7 1114.1,1022.8 1112.7,1018.1 1111.3,1028.7 1109.9,1015.8 1108.5,1022.1 1107.1,1025.6 1105.7,1017.7 1104.3,1027.6 1102.9,1024 1101.5,1024.3 1100.1,1025.6 1098.7,1018.4 1097.3,1033.4 1095.9,1026.2 1094.5,1035.3 1093.1,1031.2 1091.7,1038.3 1090.3,1027.5 1088.9,1033.4 1087.5,1028.9 1086.1,1047 1084.7,1039.4 1083.3,1036.3 1081.9,1027 1080.5,1035.3 1079.1,1027.2 1077.7,1031.8 1076.3,1041.2 1074.9,1020.2 1073.5,1019.8 1072.1,1018 1070.7,1031.5 1069.3,1012.7 1067.9,1021.8 1066.5,1017.2 1065.1,1023.7 1063.7,1016.2 1062.3,1026.6 1060.9,1018.4 1059.5,1022.7 1058.1,1009 1056.7,1017.1 1055.3,1021.8 1053.9,1019.9 1052.5,1023.7 1051.1,1012.4 1049.7,1019 1048.3,1027.6 1046.9,1019 1045.5,1027.6 1044.1,1024.8 1042.7,1031.5 1041.3,1024.4 1039.9,1025.8 1038.5,1019.1 1037.1,1015.4 1035.7,1027.6 1034.3,1021.5 1032.9,1036.6 1031.5,1034.3 1030.1,1035.3 1028.7,1055.7 1027.3,1053.7 1025.9,1062.5 1024.5,1041.5 1023.1,1043.2 1021.7,1031.1 1020.3,1043.2 1018.9,1039.4 1017.5,1051.1 1016.1,1035.1 1014.7,1040.2 1013.3,1037.8 1011.9,1061.2 1010.5,1046.8 1009.1,1049 1007.7,1047.7 1006.3,1042.9 1004.9,1047 1003.5,1042.7 1002.1,1043.5 1000.7,1029.4 999.3,1027.7 997.9,1017.5 996.5,1031.5 995.1,1037.3 993.7,1022.6 992.3,1035.3 990.9,1025.1 989.5,1027.4 988.1,1045 986.7,1037.3 985.3,1031.5 983.9,1027.6 982.5,1027.1 981.1,1037.3 979.7,1026.5 978.3,1037.8 976.9,1034.8 975.5,1030.3 974.1,1041.9 972.7,1033.2 971.3,1030.8 969.9,1045.3 968.5,1039.1 967.1,1059.6 965.7,1050.9 964.3,1048.2 962.9,1052.8 961.5,1049.1 960.1,1054.9 958.7,1037.5 957.3,1035.6 955.9,1043.3 954.5,1029 953.1,1043.3 951.7,1044.9 950.3,1049.3 948.9,1037.6 947.5,1024.5 946.1,1042.2 944.7,1027 943.3,1031.5 941.9,1022.8 940.5,1017.9 939.1,1005.9 937.7,1031.5 936.3,1019.3 934.9,1023.7 933.5,1015.6 932.1,1026 930.7,1030.9 929.3,1032.5 927.9,1039.3 926.5,1026.8 925.1,1036.5 923.7,1028.8 922.3,1023.4 920.9,1030.5 919.5,1023.1 918.1,1031.5 916.7,1027.9 915.3,1025.6 913.9,1025.1 912.5,1027.6 911.1,1020.1 909.7,1036.3 908.3,1019.9 906.9,1029.5 905.5,1028.3 904.1,1040.3 902.7,1031 901.3,1018.2 899.9,1035.4 898.5,1015 897.1,1001.2 895.7,1008.8 894.3,1002.2 892.9,1020 891.5,1008.3 890.1,1008.3 888.7,1015.9 887.3,1005.5 885.9,1002.3 884.5,995.4 883.1,992.7 881.7,1012.2 880.3,1010.2 878.9,1023.8 877.5,1021.7 876.1,1032.4 874.7,1025.9 873.3,1018.5 871.9,1025.9 870.5,1019.1 869.1,1029.5 867.7,1013.8 866.3,1002.6 864.9,994.1 863.5,1008.5 862.1,1006.3 860.7,1009.8 859.3,1016.9 857.9,1009.7 856.5,1006.1 855.1,1012.1 853.7,1005.4 852.3,1000.4 850.9,997.4 849.5,1006.3 848.1,996.9 846.7,996.9 845.3,994.2 843.9,993.9 842.5,997.9 841.1,1004.1 839.7,997.6 838.3,1000.5 836.9,987.6 835.5,996.6 834.1,992 832.7,1004.3 831.3,1000.3 829.9,996.1 828.5,998.5 827.1,989.9 825.7,988.3 824.3,1000.4 822.9,996.8 821.5,995.1 820.1,998.8 818.7,991.1 817.3,994.8 815.9,987.2 814.5,980.5 813.1,999.8 811.7,989.2 810.3,990.5 808.9,992.7 807.5,986.1 806.1,983 804.7,993.6 803.3,994.2 801.9,988.3 800.5,998.5 799.1,997.5 797.7,993.7 796.3,989.2 794.9,996.6 793.5,989.4 792.1,995 790.7,997.5 789.3,992.5 787.9,1002.4 786.5,1000.4 785.1,996.5 783.7,999.5 782.3,994.8 780.9,1001.4 779.5,999.5 778.1,1000.4 776.7,995.1 775.3,995.6 773.9,993.7 772.5,989.3 771.1,996.6 769.7,983.8 768.3,990.8 766.9,992.8 765.5,989.2 764.1,985.8 762.7,993.5 761.3,981.6 759.9,976.6 758.5,967.9 757.1,952.5 755.7,967.1 754.3,958.6 752.9,972.5 751.5,975.6 750.1,973.5 748.7,970.3 747.3,971.7 745.9,957.3 744.5,948.2 743.1,943 741.7,966.7 740.3,977.4 738.9,969.4 737.5,967.5 736.1,980.2 734.7,979.1 733.3,993.7 731.9,984.8 730.5,994.6 729.1,1008.2 727.7,1001.1 726.3,995.7 724.9,992.7 723.5,992.7 722.1,983.5 720.7,988.9 719.3,985 717.9,998 716.5,986.5 715.1,967.2 713.7,962.4 712.3,946.7 710.9,939.1 709.5,928 708.1,929.6 706.7,923 705.3,911.9 703.9,915.1 702.5,905.4 701.1,903.5 699.7,905.4 698.3,911.3 696.9,904.3 695.5,922 694.1,911.5 692.7,907.8 691.3,891.3 689.9,899.8 688.5,892 687.1,899.8 685.7,911.2 684.3,926.7 682.9,959.7 681.5,1012.1 680.1,1027.6 678.7,1047 677.3,1072.2 675.9,1070.7 674.5,1085.8 673.1,1097.4 671.7,1105.6 670.3,1090.3 668.9,1087.8 667.5,1072.4 666.1,1059 664.7,1065.9 663.3,1056.9 661.9,1055 660.5,1045.3 659.1,1051.8 657.7,1034.4 656.3,1011.9 654.9,1012.1 653.5,1009.3 652.1,1015.9 650.7,1010.8 649.3,1014 647.9,1010.1 646.5,1035.3 645.1,1028.5 643.7,1027.6 642.3,1019.1 640.9,1020.9 639.5,1009.5 638.1,1017.9 636.7,1019.8 635.3,1011.6 633.9,1017.9 632.5,992.6 631.1,1008.2 629.7,1003.4 628.3,1037.3 626.9,1017 625.5,1004.8 624.1,1023.7 622.7,1019.6 621.3,1021.8 619.9,1016.2 618.5,1018.3 617.1,1009.9 615.7,1024.3 614.3,1037.4 612.9,1022.9 611.5,1031.5 610.1,1029.4 608.7,1044.1 607.3,1038 605.9,1026.4 604.5,1052.8 603.1,1047.2 601.7,1060.7 600.3,1050.9 598.9,1044.8 597.5,1057.8 596.1,1036.8 594.7,1037.6 593.3,1043.1 591.9,1029.5 590.5,1041.2 589.1,1037.1 587.7,1053.4 586.3,1040.4 584.9,1063.8 583.5,1036.8 582.1,1055.8 580.7,1046.9 579.3,1050.9 577.9,1028.3 576.5,1040 575.1,1054.7 573.7,1049 572.3,1049.1 570.9,1045.2 569.5,1055.7 568.1,1045.7 566.7,1071.4 565.3,1065.9 563.9,1072.3 562.5,1071.9 561.1,1074.1 559.7,1074.1 558.3,1060.8 556.9,1087.8 555.5,1078.8 554.1,1077.1 552.7,1061 551.3,1078 549.9,1059.3 548.5,1074.1 547.1,1090.8 545.7,1081 544.3,1070.5 542.9,1066.4 541.5,1052.2 540.1,1052.9 538.7,1068.5 537.3,1051.9 535.9,1073.2 534.5,1057.7 533.1,1055.7 531.7,1060.6 530.3,1055.3 528.9,1062.6 527.5,1050.6 526.1,1050.2 524.7,1070.9 523.3,1059.2 521.9,1059.4 520.5,1047.4 519.1,1048.5 517.7,1054.9 516.3,1041.8 514.9,1065.4 513.5,1047 512.1,1034.4 510.7,1049.9 509.3,1042.7 507.9,1035.3 506.5,1018.7 505.1,1027.6 503.7,1009 502.3,1014 500.9,1011 499.5,1013.1 498.1,1016.9 496.7,1001.4 495.3,1009 493.9,1017.9 492.5,1001.8 491.1,1006.2 489.7,998 488.3,1002.4 486.9,991.4 485.5,1005.3 484.1,994 482.7,986.8 481.3,992.7 479.9,984.7 478.5,990.7 477.1,975.7 475.7,985.2 474.3,971.1 472.9,972.7 471.5,991.7 470.1,985.5 468.7,983 467.3,974.6 465.9,969.4 464.5,962.5 463.1,961.4 461.7,965.5 460.3,958.6 458.9,956.4 457.5,964 456.1,953.9 454.7,960.4 453.3,961.2 451.9,983 450.5,979.8 449.1,961.2 447.7,961.5 446.3,971.4 444.9,963.3 443.5,973.3 442.1,962.5 440.7,971.4 439.3,965.7 437.9,966.6 436.5,980.2 435.1,972.1 433.7,971.8 432.3,962.3 430.9,969.6 429.5,965.5 428.1,970.6 426.7,958.4 425.3,970 423.9,962.6 422.5,980.1 421.1,972 419.7,974.3 418.3,977.4 416.9,970.8 415.5,972.3 414.1,965.9 412.7,969.9 411.3,973.3 409.9,971.9 408.5,967.7 407.1,977.1 405.7,968.3 404.3,973.4 402.9,966.9 401.5,980.1 400.1,972 398.7,974.1 397.3,972.1 395.9,969.4 394.5,969.7 393.1,977.2 391.7,977.4 390.3,987.8 388.9,983.1 387.5,986.9 386.1,990.7 384.7,978.7 383.3,982.4 381.9,990.7 380.5,985.8 379.1,991.9 377.7,998.5 376.3,988.3 374.9,1000.4 373.5,989.4 372.1,992.3 370.7,1005.3 369.3,994.3 367.9,1010.5 366.5,1001.2 365.1,998.5 363.7,988.8 362.3,971.8 360.9,984.8 359.5,996.5 358.1,997.6 356.7,991.9 355.3,999.5 353.9,995.2 352.5,1000.4 351.1,993.6 349.7,1005.3 348.3,998.3 346.9,1004.3 345.5,1011.1 344.1,1002.2 342.7,1015 341.3,1008.2 339.9,1014 338.5,1004.1 337.1,1002.4 335.7,1007.2 334.3,993.7 332.9,998.5 331.5,1021.8 330.1,1009.5 328.7,1000.7 327.3,993.8 325.9,1008.2 324.5,1036.3 323.1,1018.5 321.7,1006.3 320.3,1000.4 318.9,996.6 317.5,1004.4 316.1,1004.4 314.7,1024.3 313.3,1008.3 311.9,1020.1 310.5,1000.1 309.1,1014.3 307.7,1009.1 306.3,1034.2 304.9,1022.9 303.5,1026.9 302.1,1010.1 300.7,1021.8 299.3,1017.5 297.9,1025.6 296.5,1023.7 295.1,1019.4 293.7,1021.8 292.3,1014.1 290.9,1027.7 289.5,1020.8 288.1,1035.7 286.7,1021.8 285.3,1041 283.9,1028.6 282.5,1035.7 281.1,1020.2 279.7,1031.3 278.3,1010.1 276.9,1018 275.5,1004.4 274.1,996.7 272.7,1019.8 271.3,1011.3 269.9,1038.3 268.5,1031.5 267.1,1025.2 265.7,1022.7 264.3,1015.4 262.9,1019.8 261.5,1004.8 260.1,1010.1 258.7,1001.5 257.3,1004.3 255.9,1000.7 254.5,1008.2 253.1,1012.1 251.7,1011.3 250.3,1017.9 248.9,1005.2 247.5,1017.9 246.1,1013.3 244.7,1027.8 243.3,1020 241.9,1035.5 240.5,1035.7 239.1,1049.9 237.7,1047.1 236.3,1041.8 234.9,1048 233.5,1041.5 232.1,1043.1 230.7,1039.2 229.3,1031.6 227.9,1045 226.5,1023.3 225.1,1027.6 223.7,1020.1 222.3,1041.2 220.9,1032.6 219.5,1043.1 218.1,1031.3 216.7,1045 215.3,1032.8 213.9,1050.9 212.5,1038 211.1,1051.8 209.7,1045 208.3,1033.6 206.9,1040.2 205.5,1019.1 204.1,1029.6 202.7,1017.3 201.3,999.2 199.9,1008.2 198.5,1001.1 197.1,1012.1 195.7,1021.8 194.3,1020.3 192.9,1032.4 191.5,1023.9 190.1,1027.6 188.7,1019.5 187.3,1027.7 185.9,1020.8 184.5,1030.9 183.1,1020.1 181.7,1015.1 180.3,1009.4 178.9,1007 177.5,1016.4 176.1,1018.4 174.7,1014 173.3,1024.2 171.9,1026.3 170.5,1015.9 169.1,1022.2 167.7,1018.1 166.3,1011.7" fill="#00ff00"/>
<path d="M166 962.2V1006.5L166.7 1011.7V976.4L167.4 979.4V1010.6L168.1 1017.7V969.6L168.8 978.5V1022L169.5 1007.8V979L170.2 987.9V1015.4L170.9 1013.7V975.4L171.6 988.2V1025.8L172.3 1016.2V978.3L173 986.2V1023.9L173.7 1012.7V985.8L174.4 986.7V1013.8L175.1 1013.6V993.1L175.8 977.3V1010L176.5 1018.1V981.6L177.2 966.7V1006.3L177.9 1016.1V982.2L178.6 978.9V1006.9L179.3 1003V970.6L180 976.5V1009L180.7 1002.2V965.3L181.4 975.9V1014.2L182.1 1014.6V981.7L182.8 983V1017.9L183.5 1019.6V967.6L184.2 985.5V1030.7L184.9 1018.2V986.1L185.6 989.9V1020.8L186.3 1010.8V973.5L187 986.3V1027.8L187.7 1013.1V988L188.4 994V1019.7L189.1 1019.6V975.4L189.8 992.1V1027.8L190.5 1025V989.4L191.2 989.9V1022.5L191.9 1024.1V979.3L192.6 992.7V1032.6L193.3 1020.3V993L194 994.8V1016.5L194.7 1020.5V978.3L195.4 986.2V1022L196.1 1008.9V977.9L196.8 963.8V996.5L197.5 1012.3V967.6L198.2 964.5V991.4L198.9 1001.3V960.3L199.6 975.6V1008.4L200.3 1001.9V977.5L201 973.2V999.1L201.7 999.4V966.7L202.4 976.8V1012.3L203.1 1017.5V986.7L203.8 973.5V1022.2L204.5 1029.7V990.8L205.2 980.7V1017.8L205.9 1019.3V989.2L206.6 986.1V1023.9L207.3 1040.4V993L208 996.9V1031.1L208.7 1033.8V989L209.4 1006.4V1045.2L210.1 1037V1007.2L210.8 994.8V1041.8L211.5 1052V1015.9L212.2 999.8V1032.4L212.9 1038.2V1002.2L213.6 990.9V1030.7L214.3 1051.1V997.5L215 1002.9V1033L215.7 1028.3V997.4L216.4 990.9V1037.4L217.1 1045.2V997.4L217.8 1001.2V1031.5L218.5 1025.7V987L219.2 1006.6V1043.3L219.9 1030.6V997.9L220.6 1003.3V1031.4L221.3 1032.8V990L222 999.9V1041.4L222.7 1027.4V992.8L223.4 993.6V1020.3L224.1 1009.9V980.3L224.8 990.2V1027.8L225.5 1018.2V986.9L226.2 993.2V1020.1L226.9 1023.5V987L227.6 989.9V1045.2L228.3 1028.6V994.9L229 996.2V1031.8L229.7 1027.5V982.2L230.4 988.3V1039.4L231.1 1022.8V990.4L231.8 984.1V1018.4L232.5 1043.3V989L233.2 998.1V1029.8L233.9 1041.7V1007.9L234.6 989V1041.8L235.3 1048.2V1011.4L236 1006.9V1042L236.7 1039.9V980.8L237.4 1000.3V1047.2L238.1 1030.9V996.2L238.8 987V1042.4L239.5 1050.1V999.9L240.2 1001V1035.8L240.9 1027.9V993.4L241.6 980.3V1026.1L242.3 1035.5V996.3L243 992.6V1019.4L243.7 1019.7V992.9L244.4 985.1V1015.6L245.1 1027.8V984.7L245.8 988.4V1013.5L246.5 1012.7V984.4L247.2 959.5V1015.4L247.9 1018.1V975.6L248.6 974.3V1000.6L249.3 1005.1V969.6L250 980.8V1018.1L250.7 1007.7V980.4L251.4 987.7V1011.5L252.1 1004.7V975.4L252.8 980.5V1012.3L253.5 1001.1V974.7L254.2 959.5V998.1L254.9 1008.4V970L255.6 972.7V1000.9L256.3 997.3V959.9L257 978.5V1004.5L257.7 999V980.1L258.4 983.5V1001.7L259.1 1000.7V976.4L259.8 981.2V1010.3L260.5 998V975.8L261.2 974.1V1005L261.9 1002.9V972.5L262.6 976.4V1020L263.3 1007.4V981.6L264 986.1V1015.6L264.7 1012.7V971.5L265.4 983.4V1022.9L266.1 1017V988.4L266.8 973.5V1013.5L267.5 1025.4V994.3L268.2 994.4V1022L268.9 1031.7V979.3L269.6 989.2V1038.5L270.3 1017.5V981.3L271 979.2V1011.5L271.7 1007.3V970L272.4 959.5V1004.7L273.1 1020V968.4L273.8 974.7V996.7L274.5 992.5V969.6L275.2 976.2V1004.5L275.9 1002.6V978.5L276.6 969.6V998.7L277.3 1018.1V978.3L278 978.2V1010.1L278.7 1010.1V989.6L279.4 987V1020.2L280.1 1030.7V989.8L280.8 983.6V1019.8L281.5 1013V972.5L282.2 985V1035.5L282.9 1016.5V989.4L283.6 985.9V1016.5L284.3 1028.5V987L285 988.5V1041L285.7 1017.8V990.1L286.4 983.5V1016.4L287.1 1021.8V975.4L287.8 977.2V1035.5L288.5 1011.2V984.2L289.2 977.1V1007.4L289.9 1020.6V977.3L290.6 985.4V1027.8L291.3 1018.3V990L292 978.9V1014.3L292.7 1012.3V959.9L293.4 973.1V1022L294.1 1007.5V974.3L294.8 980.4V1012.3L295.5 1019.6V969.6L296.2 990.2V1023.9L296.9 1013.2V981.8L297.6 977.3V1019.4L298.3 1025.8V986.1L299 990.3V1017.7L299.7 1015.1V989.9L300.4 967.6V1018.7L301.1 1022V982.1L301.8 983.8V1009.7L302.5 1010.3V976.4L303.2 985.9V1026.8L303.9 1018.4V985.3L304.6 991.2V1020.4L305.3 1022.7V967.6L306 981.9V1033.6L306.7 1003.6V973.2L307.4 981.5V1008.7L308.1 1007.8V968.6L308.8 976.7V1014.2L309.5 1006.3V979.8L310.2 975.8V999.7L310.9 999.5V972.5L311.6 965.7V1007.9L312.3 1020V976L313 981.3V1007.3L313.7 1008V977.3L314.4 969.6V1015.7L315.1 1023.9V979.7L315.8 975.1V1004.2L316.5 996.1V963.8L317.2 964.9V1004.5L317.9 983.3V953.7L318.6 962.3V996.7L319.3 990.3V969.6L320 971.7V994.2L320.7 1000.5V965.7L321.4 973.6V1006.4L322.1 1002.9V975.1L322.8 984.8V1007.2L323.5 1018.7V985.6L324.2 981.2V1027.2L324.9 1036.5V989.6L325.6 967.6V1005.3L326.3 1008.4V973.8L327 969.9V992.8L327.7 994V963.8L328.4 970.8V1000.6L329.1 1000.9V978L329.8 973.2V1009.7L330.5 1008.2V964.7L331.2 978.1V1022L331.9 992V962L332.6 958.3V986.6L333.3 998.7V964.1L334 968.2V989.5L334.7 993.9V965.7L335.4 963.9V1007.4L336.1 994.4V965.4L336.8 954.1V993.9L337.5 1002.6V971.7L338.2 972.2V1003.6L338.9 1004.3V979.8L339.6 965.7V1004.3L340.3 1014.2V974L341 964.9V1003.3L341.7 1008.4V953.1L342.4 964.4V1015.2L343.1 997.3V967.7L343.8 968V999.8L344.5 1002.4V963.8L345.2 973.1V1011.3L345.9 995.4V971.8L346.6 961.8V991.9L347.3 1004.5V971.7L348 963.9V998.5L348.7 993.5V963.9L349.4 950.2V995.4L350.1 1005.5V962.2L350.8 963.1V989L351.5 993.8V956.8L352.2 950.2V988.4L352.9 1000.6V967.6L353.6 969.3V995.4L354.3 990.6V963.2L355 952.1V994.1L355.7 999.7V964.5L356.4 964.8V988.4L357.1 992.1V962.3L357.8 950.2V981.5L358.5 997.7V950.3L359.2 942.4V980.2L359.9 996.7V951.3L360.6 949.7V985L361.3 979.3V934.5L362 918.7V972L362.7 968.6V906.5L363.4 921.7V989L364.1 975.7V940.9L364.8 942.4V982.5L365.5 998.7V956.6L366.2 959.5V994.1L366.9 1001.4V968.2L367.6 961.8V1000.3L368.3 1010.7V968.9L369 963V994.3L369.7 994.5V961.5L370.4 956V993.3L371.1 1005.5V966L371.8 964.5V990L372.5 992.5V959.5L373.2 959.1V987.4L373.9 989.6V954.1L374.6 964.2V1000.6L375.3 991.9V960.9L376 960V983.9L376.7 988.5V953L377.4 940.5V986.2L378.1 998.7V958.4L378.8 951.2V992.1L379.5 985.7V953.7L380.2 951.9V982.9L380.9 986V952.9L381.6 937.6V982.3L382.3 990.9V955.6L383 944V982.6L383.7 978.2V937.8L384.4 940.8V978.9L385.1 973.9V932.7L385.8 942.1V990.9L386.5 979.6V944.3L387.2 949.8V981.3L387.9 987.1V950.2L388.6 953.7V983.3L389.3 982.7V936.6L390 954V988L390.7 981.2V949.5L391.4 950V977.6L392.1 973.9V948.3L392.8 944.4V966.3L393.5 977.3V950.5L394.2 951.2V969.8L394.9 969.1V948.6L395.6 938.5V963.9L396.3 969.6V942.9L397 943.7V967.8L397.7 972.3V948.1L398.4 941.2V969.8L399.1 974.3V938.9L399.8 940.7V972.2L400.5 970.5V928.5L401.2 939.6V980.3L401.9 968.7V936.8L402.6 938.2V967.1L403.3 964.1V934.7L404 947V973.5L404.7 969.2V941.1L405.4 935V968.4L406.1 962.5V930.5L406.8 926.9V960.8L407.5 977.3V936.4L408.2 939.2V965.3L408.9 967.8V940.3L409.6 936.4V972L410.3 971.9V938.6L411 924V969.4L411.7 973.5V935.8L412.4 938.5V970.1L413.1 962.9V938.5L413.8 932.6V960.9L414.5 966.1V933.5L415.2 928.9V965.8L415.9 972.5V936.6L416.6 940.8V971L417.3 967.1V940.4L418 930.8V965.5L418.7 977.3V936.2L419.4 937.5V964.9L420.1 974.3V940.3L420.8 941.6V971.4L421.5 971.9V940.4L422.2 926.9V969.7L422.9 980.3V928.1L423.6 927.5V962.1L424.3 962.5V929.1L425 916.2V963.7L425.7 969.6V927L426.4 921.3V955.1L427.1 958.2V920.4L427.8 915.3V957.7L428.5 970.6V924L429.2 919.7V953.2L429.9 965.3V916.2L430.6 925.5V969.6L431.3 965.7V926.4L432 924.3V962.2L432.7 961.7V922.1L433.4 929V971.5L434.1 960.6V927.6L434.8 937.3V968.4L435.5 971.9V928.9L436.2 935.5V980.3L436.9 965.5V940.8L437.6 932.8V961.6L438.3 966.7V931.6L439 932.4V964.4L439.7 965.6V922.1L440.4 928.5V971.5L441.1 964.8V925L441.8 928.6V956L442.5 962.7V928.9L443.2 920.7V964.3L443.9 973.5V930L444.6 929.3V963.4L445.3 958.8V924.1L446 923V959.3L446.7 971.5V931.1L447.4 933V961.5L448.1 959.3V935.4L448.8 932.9V961.3L449.5 955.7V926.9L450.2 945V969.6L450.9 979.9V938.5L451.6 942.7V983.2L452.3 965.1V942.5L453 935.2V960.7L453.7 952.1V934.2L454.4 928.9V954.7L455.1 959.9V935L455.8 929.5V953.6L456.5 953.1V932.8L457.2 926.5V955.5L457.9 963.8V931.2L458.6 934.6V955.3L459.3 956.3V934.4L460 933.8V956.7L460.7 958.8V930.8L461.4 936.7V965.7L462.1 964.8V942.5L462.8 939.5V960.7L463.5 961.6V937.6L464.2 940.3V962.7L464.9 962.5V931.8L465.6 945.1V969.6L466.3 969.5V942.5L467 945.8V967.8L467.7 974.8V942.4L468.4 946V983.2L469.1 975.8V943.2L469.8 944.4V976L470.5 985.7V952.2L471.2 934.7V979.8L471.9 991.9V947.8L472.6 943.8V972.9L473.3 970.1V936.9L474 943.3V969.2L474.7 971.1V931.8L475.4 951.8V985.1L476.1 977.5V949.4L476.8 950.2V974.5L477.5 975.9V947.2L478.2 940.5V975.6L478.9 990.9V954.7L479.6 958.5V984.1L480.3 984.9V958.6L481 944.4V987.7L481.7 992.9V961.6L482.4 955.6V987L483.1 984.3V950.2L483.8 952.4V991.7L484.5 994.2V936.6L485.2 949.8V1005.5L485.9 983.6V954.8L486.6 950V982.3L487.3 991.6V952.1L488 958.2V1002.6L488.7 992.1V962.3L489.4 958.5V987.7L490.1 998.2V953.1L490.8 958.7V1006.4L491.5 1000.9V964.9L492.2 960.2V1000.6L492.9 1002V967.2L493.6 958.9V1000.1L494.3 1018.1V968.4L495 972.1V1009.2L495.7 1003.7V966.3L496.4 963.2V1001.6L497.1 996.5V954.5L497.8 950.2V990.9L498.5 1017.1V965L499.2 967.2V1002L499.9 1013.3V981.2L500.6 983.2V1007.9L501.3 1011.2V970.6L502 981.6V1014.2L502.7 1005.4V979.7L503.4 980V1004.1L504.1 1009.2V979.9L504.8 973.5V1014.6L505.5 1027.8V985.1L506.2 989.6V1018.9L506.9 1018.1V989L507.6 983.2V1019.3L508.3 1035.5V1004.5L509 1005.4V1042.9L509.7 1036.2V996.7L510.4 1005.8V1050.1L511.1 1031.1V996.6L511.8 998.5V1033.3L512.5 1034.6V985.1L513.2 1003.7V1047.2L513.9 1036.3V990.8L514.6 986.1V1034.1L515.3 1065.6V990.8L516 999.1V1042L516.7 1041.9V1006.3L517.4 1000.6V1035.6L518.1 1054.9V1010.9L518.8 1012.2V1041.2L519.5 1048.5V1012L520.2 1016.1V1047.2L520.9 1043.3V1002.6L521.6 1009.7V1058.8L522.3 1055.8V1017.7L523 1021.5V1059L523.7 1051.9V1014.6L524.4 1000.6V1058.3L525.1 1070.5V1007.3L525.8 1013.5V1050.1L526.5 1047.4V1011.6L527.2 1017.7V1050.6L527.9 1043.3V1013.4L528.6 995.8V1055.7L529.3 1062.7V1014.3L530 1024.1V1055.5L530.7 1047.4V1017.5L531.4 1002.6V1046.5L532.1 1060.8V1014L532.8 1016.2V1047.3L533.5 1055.9V1020.6L534.2 1021.5V1053.3L534.9 1057.9V1012.3L535.6 1030.7V1073.4L536.3 1061.9V1023.7L537 1019.3V1048.2L537.7 1051.9V1007.4L538.4 1017.8V1068.5L539.1 1062.3V1024.7L539.8 1015.5V1049.2L540.5 1053.1V1021.5L541.2 1008.4V1045.5L541.9 1052.4V1017.8L542.6 1007.4V1052.4L543.3 1066.6V1021.2L544 1016.1V1053.1L544.7 1070.5V1033.4L545.4 1041.4V1075.8L546.1 1081V1043.5L546.8 1023.9V1083L547.5 1090.8V1030.9L548.2 1010.3V1059.3L548.9 1074.3V1031L549.6 1025.3V1059.5L550.3 1058.6V1032.9L551 1020V1064.9L551.7 1078.2V1025.3L552.4 1020.2V1056.9L553.1 1061.2V1020.1L553.8 1012.3V1063.4L554.5 1077.3V1030.5L555.2 1036.9V1078.7L555.9 1076.1V1018.1L556.6 1043.4V1087.9L557.3 1072.5V1039.4L558 1025.8V1061L558.7 1052.7V1007.4L559.4 1021V1074.3L560.1 1058.8V1008.4L560.8 1028.9V1074.3L561.5 1063.8V1036.2L562.2 1027.9V1072.1L562.9 1056.7V1012.3L563.6 1027V1072.4L564.3 1059V1030.5L565 1020.1V1056.6L565.7 1066V1008.4L566.4 1011.5V1071.4L567.1 1051.7V1014.6L567.8 1007.6V1045.9L568.5 1042.3V993.8L569.2 1010.8V1055.9L569.9 1039.4V1003.6L570.6 1009.2V1045L571.3 1040.2V996.7L572 1010V1049.1L572.7 1045.4V1009.4L573.4 1006.8V1049.2L574.1 1044.2V1002.7L574.8 988V1042.9L575.5 1054.9V1007.1L576.2 1001.5V1037.1L576.9 1040.2V992.2L577.6 994.8V1026.4L578.3 1028.4V995L579 987V1038.9L579.7 1051.1V1001.5L580.4 1012.7V1045.5L581.1 1046.9V994.8L581.8 1003.5V1055.9L582.5 1042.1V1001L583.2 994.2V1036.2L583.9 1037V989L584.6 1005.1V1063.7L585.3 1037.4V1006.1L586 1003V1036.2L586.7 1039.8V1001.9L587.4 990.9V1042.5L588.1 1053V1010.4L588.8 1005.7V1036.3L589.5 1037.2V997.1L590.2 978.3V1036.1L590.9 1041.4V989.7L591.6 994.8V1023.4L592.3 1029.5V990.9L593 994.6V1043.3L593.7 1018.3V986L594.4 963.4V1020.5L595.1 1037.5V994.2L595.8 998.7V1036.4L596.5 1036.3V1006.7L597.2 1008.4V1039.6L597.9 1057.9V1015.7L598.6 1015.7V1045L599.3 1040.1V1011.5L600 1002.6V1043.3L600.7 1051.1V993.2L601.4 982.2V1034.8L602.1 1060.8V1005.6L602.8 1011.4V1047.4L603.5 1037.4V994.8L604.2 1001.8V1053L604.9 1026.4V997.3L605.6 989.2V1026.6L606.3 1026.5V977.3L607 1002.1V1035.5L607.7 1038.2V1005L608.4 990.9V1032.3L609.1 1044.3V1003.7L609.8 992.6V1029.6L610.5 1024V993.7L611.2 978.3V1020.4L611.9 1031.7V986.1L612.6 992.4V1018.8L613.3 1022.8V997.1L614 976.4V1026.7L614.7 1037.5V993.7L615.4 991.4V1024.4L616.1 1019V986.9L616.8 988V1009.6L617.5 1007.7V971.5L618.2 970.4V1018.1L618.9 1003.6V959.9L619.6 974.1V1016.4L620.3 1012.2V974.2L621 950.2V1014L621.7 1022V978L622.4 979.5V1019.8L623.1 1013.9V968.6L623.8 976.8V1023.9L624.5 1002.5V967.1L625.2 964.8V1005L625.9 995.1V939.5L626.6 973.9V1010.3L627.3 1017.2V975.6L628 967.6V1028.8L628.7 1037.5V981.6L629.4 973.6V1003.1L630.1 1003.6V960.6L630.8 944.8V994.9L631.5 1008.4V961.7L632.2 961.1V992.2L632.9 992.7V964.2L633.6 961.8V1002.6L634.3 1018.1V972.1L635 971.6V1011.8L635.7 1002.8V963.8L636.4 968.2V1020L637.1 998.3V963.9L637.8 932.7V1005.7L638.5 1018.1V953.7L639.2 960.4V1009.7L639.9 1006.1V970.3L640.6 960.9V1016.5L641.3 1021V985.1L642 985.1V1019.3L642.7 1019.1V963.8L643.4 968.8V1027.8L644.1 1013.2V975L644.8 981.5V1026.3L645.5 1028.7V959.9L646.2 977.4V1035.5L646.9 1010.8V975.2L647.6 966.6V1010.3L648.3 1001.9V957L649 981.3V1014.2L649.7 1010.1V983.2L650.4 977V1008L651.1 1011V965.7L651.8 977.7V1016.1L652.5 1006.8V980.7L653.2 981.6V1009.5L653.9 1000.6V970.6L654.6 978.2V1012.3L655.3 1004.4V981.1L656 977.5V1007.8L656.7 1012.1V975.4L657.4 990.8V1024.5L658.1 1034.5V992.9L658.8 1011.8V1051.1L659.5 1052V1014.9L660.2 1011.9V1045.3L660.9 1045.3V1004.5L661.6 1015.7V1054.9L662.3 1053.2V1023.2L663 1024.5V1056.6L663.7 1048.5V1014.2L664.4 1023.4V1065.6L665.1 1051.8V1022.6L665.8 1024.7V1055L666.5 1058.2V1023.9L667.2 1038.7V1072.4L667.9 1068.2V1046.6L668.6 1037.5V1079.3L669.3 1087.9V1053.5L670 1057.3V1079.1L670.7 1090.3V1054.9L671.4 1062.7V1101.5L672.1 1105.4V1060L672.8 1044.3V1087L673.5 1097.6V1053.5L674.2 1056.9V1080.3L674.9 1086V1057.9L675.6 1056.8V1070.9L676.3 1069.6V1051.1L677 1046.7V1072.4L677.7 1046.7V1023.9L678.4 1018.7V1047.2L679.1 1024.1V998.7L679.8 992.6V1027.8L680.5 1005.5V950.2L681.2 944.7V1012.3L681.9 961.5V907.5L682.6 915.5V959.9L683.3 924.8V905.8L684 886.2V917.4L684.7 926.9V880.9L685.4 859V904.4L686.1 911.4V859.9L686.8 843.5V884.3L687.5 899.8V837.3L688.2 852.2V892L688.9 885.6V849.3L689.6 865.9V899.8L690.3 883.6V864.3L691 862.9V882.7L691.7 891.4V871.7L692.4 881.3V902.2L693.1 907.9V866.8L693.8 883.9V911.4L694.5 904.1V874.6L695.2 864.8V908.7L695.9 922.1V867.6L696.6 873.4V904.3L697.3 898.8V864.8L698 872.9V911.4L698.7 893.7V872L699.4 868.7V894.8L700.1 905.6V873.4L700.8 868.9V903.7L701.5 900.4V851.8L702.2 878.7V905.6L702.9 905.1V864.8L703.6 882.7V915.3L704.3 907V885L705 886.8V911.8L705.7 910.7V874.5L706.4 881.5V923L707.1 919.9V880.4L707.8 888.3V928.9L708.5 926.8V898.4L709.2 898.8V926.2L709.9 927.2V895.9L710.6 913.2V936.6L711.3 938.4V917.7L712 909.5V943.2L712.7 946.4V923.6L713.4 913.3V950.8L714.1 961.8V926.3L714.8 931.4V963.4L715.5 966.6V928.9L716.2 949V979.3L716.9 985.8V948.2L717.6 946.8V997.7L718.3 970.7V938.5L719 942.8V985.1L719.7 983.7V952.8L720.4 942.4V981L721.1 989V957L721.8 952.1V981L722.5 983.7V962L723.2 945.3V983.1L723.9 992.9V953.9L724.6 943.4V975.7L725.3 992.9V954L726 962.3V986.7L726.7 995.9V962.7L727.4 965.5V998.9L728.1 1001.3V957.9L728.8 965.1V1008.4L729.5 983.6V963.5L730.2 947.3V977.2L730.9 994.8V953.2L731.6 953.9V977.3L732.3 984.9V942L733 957.6V993.9L733.7 975V950.2L734.4 952.8V979.3L735.1 970.8V952L735.8 945.4V970.2L736.5 980.3V948.3L737.2 930.8V963.2L737.9 967.7V940.8L738.6 924.5V959.7L739.3 969.6V936.7L740 937.6V969.5L740.7 977.4V941.4L741.4 912.4V957L742.1 966.7V922.3L742.8 919.7V943.1L743.5 938.2V906.1L744.2 921.2V947.3L744.9 948.3V928.9L745.6 922.1V954.2L746.3 957V934.2L747 931.8V956.4L747.7 971.5V941.5L748.4 940.5V962.5L749.1 970.2V937.6L749.8 943.9V973.5L750.5 971.3V930.8L751.2 939.8V975.4L751.9 969.2V943.7L752.6 927.4V967.3L753.3 972.5V937L754 937.3V958.6L754.7 954.2V914.3L755.4 920.2V966.7L756.1 939.2V896.7L756.8 910.9V952.1L757.5 944.8V912.4L758.2 930V961.8L758.9 967.7V926.9L759.6 945.7V976.4L760.3 970.6V948.3L761 955.6V978.3L761.7 981.5V953L762.4 947.3V983.2L763.1 992.9V950.5L763.8 955.2V985.7L764.5 981.7V943.4L765.2 954.1V989L765.9 985.9V943.4L766.6 948.3V992.9L767.3 979.7V958.6L768 950.2V982.1L768.7 990.9V954L769.4 953.7V981.6L770.1 984V949.2L770.8 956.1V996.8L771.5 985.6V955.8L772.2 960.9V986.9L772.9 989.5V948.3L773.6 953.6V993.9L774.3 993.6V949.2L775 954.3V995.8L775.7 990V962.5L776.4 959.3V995.3L777.1 993.4V965.6L777.8 953.1V991.6L778.5 1000.6V956.1L779.2 950.2V988.1L779.9 999.7V966.1L780.6 954.6V996.6L781.3 1001.6V963L782 963.9V994.4L782.7 995V953.1L783.4 958.2V999.7L784.1 997.4V960.4L784.8 962.8V993.4L785.5 996.6V969.7L786.2 955.1V993.2L786.9 1000.6V964.5L787.6 955.1V996.3L788.3 1002.6V960.2L789 959.1V992.7L789.7 989.2V957.6L790.4 945.8V989.9L791.1 997.7V952.9L791.8 961.7V995.2L792.5 991.8V956.9L793.2 950.9V987.9L793.9 989.6V949.2L794.6 953.7V996.8L795.3 990V953.4L796 960.7V989.4L796.7 985.8V956.9L797.4 961.6V993.9L798.1 993.5V950.2L798.8 957.8V997.7L799.5 992.1V963L800.2 951.2V989.9L800.9 998.7V962.6L801.6 961.8V986.2L802.3 988.5V956.7L803 955.5V994.1L803.7 994.4V952.5L804.4 942.4V986.2L805.1 993.8V955.5L805.8 953.8V983.2L806.5 979.7V955.8L807.2 952.1V985L807.9 986.3V952.6L808.6 947.3V990.1L809.3 992.9V959.6L810 955.8V990.7L810.7 987.3V955.2L811.4 958.2V989.4L812.1 986.8V943.4L812.8 948.2V999.7L813.5 985.1V947.4L814.2 950.5V980.6L814.9 978.8V952.9L815.6 949V987.4L816.3 985.4V947.3L817 953.7V994.8L817.7 983V958.6L818.4 955.7V984.6L819.1 991.2V963.8L819.8 956V990.2L820.5 998.7V964.9L821.2 962.3V989.6L821.9 995.2V964.5L822.6 955.3V996.7L823.3 994.7V947.9L824 961.6V1000.6L824.7 993.6V957.7L825.4 960V988.5L826.1 986.1V952.2L826.8 953.6V987.9L827.5 990.1V960.4L828.2 952.1V985.7L828.9 998.7V961.9L829.6 964.5V991.4L830.3 996.3V960.1L831 961.1V994.2L831.7 1000.4V956L832.4 966.1V1004.5L833.1 993.2V961.8L833.8 967.4V992L834.5 990.4V950.2L835.2 959.4V996.7L835.9 984.7V961.7L836.6 960.8V987.6L837.3 984.9V952.1L838 961.5V1000.6L838.7 989.1V958.9L839.4 965.3V991.9L840.1 997.5V964.5L840.8 955V993.8L841.5 1003.5V970.4L842.2 973.1V997.5L842.9 991.5V974.4L843.6 973V994.1L844.3 991.6V969.6L845 971.8V992.9L845.7 994.2V976.6L846.4 975.9V995.4L847.1 997V975.8L847.8 973V996.5L848.5 997.1V965.7L849.2 966.5V1006.4L849.9 998.3V964.3L850.6 968.8V997.6L851.3 995V958.9L852 963.2V1000.6L852.7 993.5V969.9L853.4 971.4V1005.5L854.1 998.5V971L854.8 956V1003.5L855.5 1012.3V971.4L856.2 967.9V1006.3L856.9 1005.5V972.7L857.6 971.6V1006.6L858.3 1009.8V977.6L859 967.6V1008.1L859.7 1017.1V976.6L860.4 975.1V1007.5L861.1 1010V980L861.8 979.9V1006.5L862.5 1003.2V965.7L863.2 968.4V1008.4L863.9 997.4V971.4L864.6 968.3V994.3L865.3 992.8V960.8L866 955V997.2L866.7 1002.8V968.4L867.4 985.5V1012.2L868.1 1014V973.5L868.8 984.9V1029.7L869.5 1013V976.3L870.2 979.9V1019.3L870.9 1014.8V978.6L871.6 969.6V1014.2L872.3 1025.8V982.2L873 976.5V1018.2L873.7 1013V977.1L874.4 974.5V1013.4L875.1 1026.1V968.6L875.8 980.8V1032.6L876.5 1019.5V975.9L877.2 983.3V1021.9L877.9 1015.8V981.9L878.6 968.6V1016L879.3 1023.9V980.8L880 978.4V1010.1L880.7 1007.2V984.4L881.4 973.5V1001.6L882.1 1012.3V973.5L882.8 959.9V985.7L883.5 992.9V957.7L884.2 955.1V981.3L884.9 995.6V946.3L885.6 961.2V1000.1L886.3 1002.5V967.9L887 965.5V1005.7L887.7 1002.8V956L888.4 969.5V1016.1L889.1 1000.3V960.9L889.8 948.2V996.9L890.5 1008.4V962.3L891.2 969.7V1008L891.9 1008.5V965.7L892.6 969.1V1020L893.3 997.7V967.2L894 972.6V1002.4L894.7 997.9V965.7L895.4 971.5V1008.4L896.1 1003.1V973.5L896.8 974.8V999L897.5 1001.2V968.6L898.2 975.1V1012.3L898.9 1015.1V988.8L899.6 987V1023.5L900.3 1035.5V985.7L901 981.4V1018.3L901.7 1015.2V975.4L902.4 991.2V1029.7L903.1 1031V996.9L903.8 984.1V1025.8L904.5 1040.4V993.2L905.2 994.3V1028.5L905.9 1018.1V992.8L906.6 985.1V1017.9L907.3 1029.7V990.2L908 988.3V1020.1L908.7 1017.3V983.4L909.4 980.3V1019.5L910.1 1036.5V988.3L910.8 980.6V1020.3L911.5 1015.3V986.6L912.2 977.3V1019.2L912.9 1027.8V992.3L913.6 990.1V1025.3L914.3 1024.9V967.3L915 984.7V1025.8L915.7 1020.8V990.8L916.4 993.6V1028.1L917.1 1028.1V989.3L917.8 977.3V1022.2L918.5 1031.7V995.3L919.2 986.5V1023.3L919.9 1023.2V987.8L920.6 969.2V1014.5L921.3 1030.7V980.4L922 988.9V1023.5L922.7 1023.6V988.8L923.4 990.7V1024.4L924.1 1029V979.3L924.8 984.3V1036.5L925.5 1024.7V986.1L926.2 982.5V1026.1L926.9 1026.5V981.2L927.6 998.6V1038.5L928.3 1032.7V996.2L929 989.8V1032.4L929.7 1029.8V990.7L930.4 974.4V1020.8L931.1 1030.7V989.9L931.8 989.2V1023.1L932.5 1025.5V987.1L933.2 982.1V1015.4L933.9 1008.2V976.7L934.6 971.5V1009.2L935.3 1023.9V985.1L936 984.5V1018L936.7 1019.5V986L937.4 977.3V1022.1L938.1 1031.7V983L938.8 979.4V1006.1L939.5 1006.1V979.6L940.2 965.7V1008.5L940.9 1018.1V987.1L941.6 996.9V1023L942.3 1021.4V986.1L943 993.9V1031.7L943.7 1021.6V996.9L944.4 992.1V1026.5L945.1 1027.2V987L945.8 993.7V1042.3L946.5 1028.4V988.2L947.2 994.3V1024.4L947.9 1024.4V980.3L948.6 995.7V1037.5L949.3 1036.1V998.7L950 989V1040.5L950.7 1049.1V1006L951.4 1001.7V1044.7L952.1 1034.3V1002L952.8 987V1030L953.5 1043.3V997.2L954.2 989.8V1024.1L954.9 1028.6V1000.1L955.6 992.9V1030.8L956.3 1043.3V997.3L957 1005.4V1034.8L957.7 1035.7V1000.8L958.4 1009.2V1037.7L959.1 1035.5V998.7L959.8 1002.7V1054.9L960.5 1038.5V1006.3L961.2 1009.9V1047.4L961.9 1049.3V1007.6L962.6 996.7V1044.9L963.3 1053V1013.9L964 1009.4V1048.4L964.7 1044.8V1009.1L965.4 1008.8V1041.4L966.1 1051.1V1012.8L966.8 1000.6V1046.4L967.5 1059.8V1010.4L968.2 1002.5V1039.3L968.9 1033.9V998.5L969.6 988V1036.7L970.3 1045.2V997.4L971 999.6V1030.7L971.7 1028V997.3L972.4 994.2V1027.1L973.1 1032.7V1002.3L973.8 989V1028.7L974.5 1041.4V992.4L975.2 997.3V1027L975.9 1029.7V1000.2L976.6 1004.7V1034.3L977.3 1032V985.1L978 995.2V1037.5L978.7 1017.4V984.8L979.4 986.6V1026.3L980.1 1022.4V970.6L980.8 976.2V1037.5L981.5 1019.4V985.2L982.2 985.9V1027.3L982.9 1024.3V988.5L983.6 981.2V1015.6L984.3 1027.8V983.9L985 987.9V1023.8L985.7 1031.7V992.1L986.4 981.2V1029.4L987.1 1037.5V994.9L987.8 989V1029.8L988.5 1045.2V991.9L989.2 992.9V1025.4L989.9 1027.6V992.4L990.6 999.2V1025.3L991.3 1020.6V987L992 994.4V1035.5L992.7 1020.6V994.2L993.4 990.1V1019.2L994.1 1022.8V989L994.8 996.3V1037.5L995.5 1024.3V992L996.2 979.3V1017.9L996.9 1031.7V991L997.6 989.7V1017.7L998.3 1014.7V994.9L999 989V1021.9L999.7 1027.8V1001.9L1000.4 1004.6V1023.2L1001.1 1029.5V1002.2L1001.8 1000.6V1035.7L1002.5 1043.3V1009L1003.2 1011.2V1042L1003.9 1038.1V995.8L1004.6 1009.1V1046.2L1005.3 1032.6V1007.5L1006 1008.8V1039.5L1006.7 1042.7V1013.8L1007.4 1010.3V1046.2L1008.1 1047.2V1022.8L1008.8 1021.5V1048.2L1009.5 1046.2V1016.6L1010.2 1020.4V1046.3L1010.9 1044.4V1021L1011.6 1008.4V1045.4L1012.3 1060.8V1010.3L1013 1004.9V1035.1L1013.7 1037.5V1005.5L1014.4 991.9V1029.1L1015.1 1039.3V1005.8L1015.8 1002.8V1033.3L1016.5 1034.7V1010.8L1017.2 998.7V1046.4L1017.9 1051.1V1012.4L1018.6 1009V1039.4L1019.3 1032.2V1005.6L1020 990.9V1032.7L1020.7 1043.3V1001.4L1021.4 996.4V1031.2L1022.1 1030.7V998.9L1022.8 983.2V1040.8L1023.5 1043.3V1007.2L1024.2 1003.5V1037.8L1024.9 1041.7V1010.8L1025.6 998.7V1048.9L1026.3 1062.7V1008.5L1027 1006.5V1053.9L1027.7 1046.7V996.7L1028.4 1004.8V1055.9L1029.1 1035.9V999.5L1029.8 979.3V1028.7L1030.5 1035.5V987.6L1031.2 994.3V1034.5L1031.9 1033.2V984.2L1032.6 977.3V1027.9L1033.3 1036.5V987.7L1034 983.3V1021.7L1034.7 1015.6V977.8L1035.4 970.6V1022.6L1036.1 1027.8V985L1036.8 980.8V1015.6L1037.5 1015.1V988.3L1038.2 985V1019.3L1038.9 1013.4V977.3L1039.6 978.1V1025.8L1040.3 1015.8V979.9L1041 985.3V1023.3L1041.7 1024.6V978.3L1042.4 983.5V1031.7L1043.1 1019.1V982.3L1043.8 981.8V1013.7L1044.5 1025V973.5L1045.2 990V1027.8L1045.9 1016.8V986.8L1046.6 986.5V1018.8L1047.3 1019.2V980L1048 973.5V1012.5L1048.7 1027.8V973.8L1049.4 972.1V1014.5L1050.1 1019.2V979.6L1050.8 977.7V1012.3L1051.5 1012.6V966.7L1052.2 974.3V1023.9L1052.9 1015.5V978.8L1053.6 978V1015.9L1054.3 1020.1V982L1055 970.6V1018.5L1055.7 1022V980.4L1056.4 982.9V1017.3L1057.1 1014.6V973.3L1057.8 969.9V1008.3L1058.5 1009.2V965.3L1059.2 979.8V1022.9L1059.9 1007.8V980.2L1060.6 975.7V1015.5L1061.3 1018.6V983.3L1062 973.5V1017.2L1062.7 1026.8V975.5L1063.4 974.8V1016.4L1064.1 1013.5V978.9L1064.8 970.6V1014.4L1065.5 1023.9V977.3L1066.2 975.2V1011.2L1066.9 1017.4V971.6L1067.6 964.2V1015.4L1068.3 1022V973L1069 973.2V1012L1069.7 1012.9V975L1070.4 975.4V1020.1L1071.1 1031.7V985L1071.8 982.5V1017L1072.5 1018.2V982.4L1073.2 975.4V1017.6L1073.9 1020V978.7L1074.6 976.6V1016.7L1075.3 1020.4V982.3L1076 973.1V1027.3L1076.7 1041.4V983.6L1077.4 981.5V1032L1078.1 1030.1V993.3L1078.8 992.2V1027.4L1079.5 1021.4V977.3L1080.2 983.2V1035.5L1080.9 1024.7V987.3L1081.6 992.3V1027.2L1082.3 1022.3V980.3L1083 989.4V1036.5L1083.7 1035.9V988.3L1084.4 991.7V1030L1085.1 1039.6V996.4L1085.8 981.2V1037.9L1086.5 1047.2V994.6L1087.2 988.3V1029.1L1087.9 1025.2V982.5L1088.6 974.4V1018.3L1089.3 1033.6V980.6L1090 976.5V1018.8L1090.7 1027.7V976.4L1091.4 985.2V1038.5L1092.1 1025V981.7L1092.8 990.4V1031.4L1093.5 1025.5V993L1094.2 976.4V1020.7L1094.9 1035.5V982.8L1095.6 985.9V1026.4L1096.3 1020.3V989.6L1097 981.2V1025.2L1097.7 1033.6V987.7L1098.4 991V1018.6L1099.1 1013.6V979.1L1099.8 973.5V1018.7L1100.5 1025.8V979.3L1101.2 982.9V1024.5L1101.9 1016.8V985L1102.6 979.5V1024.2L1103.3 1016.1V968.2L1104 976.6V1027.8L1104.7 1022.1V984.7L1105.4 981V1017.9L1106.1 1016.3V979.4L1106.8 972.5V1021.7L1107.5 1025.8V980.3L1108.2 981.4V1022.3L1108.9 1019.8V975.8L1109.6 976.2V1015.9L1110.3 1014.9V972.5L1111 975.1V1028.8L1111.7 1011V983L1112.4 983.8V1011.3L1113.1 1018.2V985.3L1113.8 986.6V1017L1114.5 1023V976.4L1115.2 983.9V1025.8L1115.9 1019V984.7L1116.6 984.2V1013.6L1117.3 1019V978.8L1118 970.6V1010.8L1118.7 1024.9V984.1L1119.4 978.3V1011.5L1120.1 1015.3V982.7L1120.8 979.7V1018.8L1121.5 1011.9V975.7L1122.2 973.5V1011.5L1122.9 1027.8V985.1L1123.6 980.3V1014.1L1124.3 1017.4V979.9L1125 987.2V1016L1125.7 1016.7V972.5L1126.4 977.2V1025.8L1127.1 1011V978.8L1127.8 986.1V1014L1128.5 1021.2V982.2L1129.2 979.2V1014.4L1129.9 1015.6V976.4L1130.6 979.7V1026.8L1131.3 1012.8V979.9L1132 985V1019.7L1132.7 1022.2V982.6L1133.4 970.6V1020.7L1134.1 1022.9V979L1134.8 982.6V1012.4L1135.5 1015.6V983.1L1136.2 985.3V1012.9L1136.9 1011.2V986.6L1137.6 970.6V1015.3L1138.3 1021V986.3L1139 980.7V1011.3L1139.7 1011.1V975.5L1140.4 974.9V1012.1L1141.1 1007.1V969.6L1141.8 980.9V1020L1142.5 1008.5V975.2L1143.2 983.6V1016.1L1143.9 1018.1V981.1L1144.6 980.5V1017.9L1145.3 1009.5V970.6L1146 978.5V1022L1146.7 1010.3V977L1147.4 982V1012.2L1148.1 1015.6V975.8L1148.8 972.5V1015.1L1149.5 1021V983.4L1150.2 985.7V1014.4L1150.9 1017V980.6L1151.6 977.4V1015.6L1152.3 1006.2V970.6L1153 970.1V1022L1153.7 1022.9V967.6" fill="none" stroke="#0000ff" stroke-width="1.05" stroke-linejoin="round"/>
<polygon points="166.5,980.1 167.3,981 168.1,983.4 168.9,978.8 169.7,981.1 170.5,988.5 171.3,991.3 172.1,989.8 172.9,987.4 173.7,989.6 174.5,987.7 175.3,986.3 176.1,977.8 176.9,979.4 177.7,977.1 178.5,982.4 179.3,982.6 180.1,977.1 180.9,980.7 181.7,980 182.5,979.8 183.3,977.5 183.3,1015.8 182.5,1010.3 181.7,1014.4 180.9,1013.8 180.1,1012.6 179.3,1014.4 178.5,1014.9 177.7,1013.9 176.9,1014 176.1,1012.8 175.3,1011.1 174.5,1010.9 173.7,1014.7 172.9,1014.8 172.1,1014.6 171.3,1010.7 170.5,1010.8 169.7,1010.5 168.9,1011.8 168.1,1015.5 167.3,1011.1 166.5,1015.6" fill="#00ff00"/>
<path d="M166.9 983.7V1016.3M170.7 977.4V1007.8M174.9 992.4V1019.3M179.6 968V990" stroke="#0000ff" stroke-width="0.9" fill="none"/>
</g>
<g id="panel4">
<rect x="165.4" y="1142.6" width="989.2" height="309.6" fill="none" stroke="#262626" stroke-width="1.1"/>
<text x="156.4" y="1149.2" font-size="20.6" text-anchor="end" class="tk" textLength="38.5" lengthAdjust="spacingAndGlyphs">100</text>
<text x="156.4" y="1252.4" font-size="20.6" text-anchor="end" class="tk" textLength="25.6" lengthAdjust="spacingAndGlyphs">50</text>
<text x="156.4" y="1355.6" font-size="20.6" text-anchor="end" class="tk" textLength="12.8" lengthAdjust="spacingAndGlyphs">0</text>
<text x="156.4" y="1458.8" font-size="20.6" text-anchor="end" class="tk" textLength="32.9" lengthAdjust="spacingAndGlyphs">-50</text>
<path d="M412.6 1142.6v10.3M412.6 1452.2v-10.3M660.7 1142.6v10.3M660.7 1452.2v-10.3M907.5 1142.6v10.3M907.5 1452.2v-10.3M165.4 1245.8h10.3M1154.6 1245.8h-10.3M165.4 1349h10.3M1154.6 1349h-10.3" stroke="#262626" stroke-width="1.1" fill="none"/>
<path d="M169.8 1145.4H176V1448.7H169.8ZM177.2 1145.4H182V1448.7H177.2ZM183.2 1145.4H186.8V1448.7H183.2ZM189.2 1145.4H192.8V1448.7H189.2ZM196.1 1145.4H221.8V1448.7H196.1ZM226.2 1145.4H228.9V1448.7H226.2ZM231.1 1145.4H232.7V1448.7H231.1ZM234 1145.4H245.8V1448.7H234ZM257.2 1145.4H259.9V1448.7H257.2ZM281.2 1145.4H282.7V1448.7H281.2ZM285 1145.4H286.8V1448.7H285ZM301.3 1145.4H303.6V1448.7H301.3ZM304.7 1145.4H306.8V1448.7H304.7ZM363.4 1145.4H365V1448.7H363.4ZM365.9 1145.4H371.9V1448.7H365.9ZM376 1145.4H376.9V1448.7H376ZM555.1 1145.4H555.9V1448.7H555.1ZM600.3 1145.4H601.1V1448.7H600.3ZM629 1145.4H631.8V1448.7H629ZM637.2 1145.4H638.8V1448.7H637.2ZM652.3 1145.4H652.8V1448.7H652.3ZM654.5 1145.4H655.4V1448.7H654.5ZM656 1145.4H656.8V1448.7H656ZM660.1 1145.4H661.2V1448.7H660.1ZM669.3 1145.4H669.9V1448.7H669.3ZM680.1 1145.4H684.6V1448.7H680.1ZM686 1145.4H686.8V1448.7H686ZM688 1145.4H689V1448.7H688ZM690.1 1145.4H691.5V1448.7H690.1ZM694 1145.4H708.1V1448.7H694ZM709.3 1145.4H710.8V1448.7H709.3ZM721.9 1145.4H729.7V1448.7H721.9ZM755.9 1145.4H759.8V1448.7H755.9ZM761.2 1145.4H762.9V1448.7H761.2ZM764.2 1145.4H766.7V1448.7H764.2ZM769.1 1145.4H776.9V1448.7H769.1ZM811.2 1145.4H812.6V1448.7H811.2ZM882.2 1145.4H884.8V1448.7H882.2ZM1026.2 1145.4H1027.9V1448.7H1026.2ZM1075.2 1145.4H1077V1448.7H1075.2ZM1077.9 1145.4H1078.7V1448.7H1077.9ZM1086.1 1145.4H1086.8V1448.7H1086.1Z" fill="#d9d9d9"/>
<path d="M277 1145.4H278.9V1448.7H277ZM294 1145.4H295.2V1448.7H294ZM295.8 1145.4H297V1448.7H295.8ZM712.2 1145.4H721.9V1448.7H712.2ZM737.1 1145.4H738V1448.7H737.1ZM739 1145.4H741V1448.7H739ZM742 1145.4H742.9V1448.7H742ZM745.8 1145.4H749.9V1448.7H745.8ZM753.9 1145.4H755V1448.7H753.9Z" fill="#ffb3ff"/>
<path d="M165.4 1145.4V1448.7" stroke="#fff" stroke-width="1.6"/>
<path d="M165.4 1145.4V1448.7" stroke="#d4d4d4" stroke-width="0.8"/>
<text x="66.3" y="1297.4" font-size="18.4" text-anchor="middle" class="b" transform="rotate(-90 66.3 1297.4)" fill="#262626" textLength="175.8" lengthAdjust="spacingAndGlyphs">Measured-Model</text>
<text x="91.9" y="1297.4" font-size="18.4" text-anchor="middle" class="b" transform="rotate(-90 91.9 1297.4)" fill="#262626" textLength="77.2" lengthAdjust="spacingAndGlyphs">|B| (nT)</text>
<text x="1176" y="1362.8" font-size="16" text-anchor="start" class="b" transform="rotate(-90 1176 1362.8)" textLength="89" lengthAdjust="spacingAndGlyphs">Inboard B</text>
<text x="1196.3" y="1363" font-size="16" text-anchor="start" class="b" transform="rotate(-90 1196.3 1363)" textLength="106.8" lengthAdjust="spacingAndGlyphs">Outboard B</text>
<path d="M1171.0 1391.2V1407.9" stroke="#0000ff" stroke-width="2"/>
<path d="M1191 1391.2V1407.9" stroke="#00ff00" stroke-width="2"/>
<polygon points="166.5,1330.6 167.5,1329 168.5,1326.9 169.5,1328.1 170.5,1329.1 171.5,1330.2 172.5,1331.5 173.5,1331.6 174.5,1331.9 175.5,1331.4 176.5,1332 177.5,1331.3 178.5,1329.3 179.5,1330.1 180.5,1330.8 181.5,1330.7 182.5,1331.5 183.5,1330.9 184.5,1332.2 185.5,1332.4 186.5,1331.4 187.5,1332.4 188.5,1331.7 189.5,1331.8 190.5,1334.3 191.5,1333.9 192.5,1335.2 193.5,1338.5 194.5,1343.4 195.5,1341.1 196.5,1335.2 197.5,1338.6 198.5,1336.4 199.5,1337.1 200.5,1337.4 201.5,1337.9 202.5,1338.7 203.5,1337.7 204.5,1338.4 205.5,1338.6 206.5,1339 207.5,1337.3 208.5,1339.5 209.5,1338.1 210.5,1338.1 211.5,1338.6 212.5,1338.8 213.5,1339.7 214.5,1338.1 215.5,1339.8 216.5,1339.5 217.5,1340.1 218.5,1338.9 219.5,1339.5 220.5,1341.8 221.5,1339.7 222.5,1345.4 223.5,1345.3 224.5,1343.5 225.5,1341.5 226.5,1338 227.5,1338 228.5,1338.1 229.5,1337.6 230.5,1337.9 231.5,1339.4 232.5,1337.7 233.5,1336.1 234.5,1336.8 235.5,1337.2 236.5,1335.1 237.5,1335.5 238.5,1333.7 239.5,1333.4 240.5,1333.8 241.5,1334.2 242.5,1333.3 243.5,1331.5 244.5,1329.7 245.5,1329 246.5,1328.3 247.5,1327.5 248.5,1327.1 249.5,1327.3 250.5,1326.6 251.5,1327.5 252.5,1328.3 253.5,1326 254.5,1326.2 255.5,1324.6 256.5,1326.3 257.5,1325.8 258.5,1325 259.5,1325.1 260.5,1322.8 261.5,1323.4 262.5,1323.6 263.5,1322.4 264.5,1322.7 265.5,1323.4 266.5,1321.2 267.5,1321.2 268.5,1320.7 269.5,1320.5 270.5,1319.7 271.5,1319.7 272.5,1318.8 273.5,1320.9 274.5,1319.7 275.5,1319 276.5,1320.2 277.5,1318.9 278.5,1317.9 279.5,1318.4 280.5,1318.4 281.5,1319.9 282.5,1317.5 283.5,1317.6 284.5,1317 285.5,1318.8 286.5,1319.2 287.5,1316.7 288.5,1319.9 289.5,1315.8 290.5,1316.1 291.5,1316.8 292.5,1318.5 293.5,1317.3 294.5,1316.9 295.5,1316.6 296.5,1319.4 297.5,1318.4 298.5,1317.3 299.5,1316.1 300.5,1316.2 301.5,1318.6 302.5,1319 303.5,1316.4 304.5,1316.9 305.5,1317 306.5,1316 307.5,1316.2 308.5,1316.4 309.5,1317.3 310.5,1316.6 311.5,1316.1 312.5,1317.8 313.5,1316.6 314.5,1316.7 315.5,1345.4 316.5,1347.1 317.5,1346.8 318.5,1346.8 319.5,1346.5 320.5,1347.2 321.5,1338.7 322.5,1317.2 323.5,1319.7 324.5,1319.8 325.5,1319.4 326.5,1322.1 327.5,1319.8 328.5,1319.7 329.5,1320.4 330.5,1321 331.5,1321.1 332.5,1321.1 333.5,1321.2 334.5,1322 335.5,1321.3 336.5,1321.7 337.5,1323.4 338.5,1322.8 339.5,1321.5 340.5,1322.8 341.5,1323.5 342.5,1321.5 343.5,1323.2 344.5,1324.3 345.5,1323.8 346.5,1322.9 347.5,1325.6 348.5,1327 349.5,1326.2 350.5,1326.6 351.5,1328.4 352.5,1329.9 353.5,1330.4 354.5,1333 355.5,1332.1 356.5,1331.8 357.5,1330.3 358.5,1331.5 359.5,1332.4 360.5,1331.8 361.5,1336.1 362.5,1334.1 363.5,1334.6 364.5,1334.7 365.5,1334.2 366.5,1334.8 367.5,1334.8 368.5,1333.7 369.5,1335.2 370.5,1336.1 371.5,1334.7 372.5,1335.5 373.5,1335.6 374.5,1337 375.5,1337.3 376.5,1337.7 377.5,1338.8 378.5,1339.8 379.5,1340.7 380.5,1342.3 381.5,1342.6 382.5,1345 383.5,1342.9 384.5,1347.7 385.5,1349.2 386.5,1352.4 387.5,1353 388.5,1352.9 389.5,1349.7 390.5,1347 391.5,1352.3 392.5,1357.2 393.5,1363.7 394.5,1362.7 395.5,1360.4 396.5,1360.3 397.5,1356.6 398.5,1363.2 399.5,1354.9 400.5,1352.4 401.5,1357.9 402.5,1359.8 403.5,1362.6 404.5,1361.7 405.5,1361.1 406.5,1358.2 407.5,1366.1 408.5,1362.1 409.5,1362.1 410.5,1359.5 411.5,1359 412.5,1361.4 413.5,1367.3 414.5,1365.7 415.5,1364.7 416.5,1364.4 417.5,1367.7 418.5,1369.9 419.5,1372.6 420.5,1364.7 421.5,1363.9 422.5,1365.2 423.5,1366.9 424.5,1367 425.5,1367.2 426.5,1366.6 427.5,1374.4 428.5,1370.7 429.5,1367.8 430.5,1369.1 431.5,1374.3 432.5,1370.6 433.5,1374.5 434.5,1374.3 435.5,1374.5 436.5,1376.7 437.5,1382.5 438.5,1372.5 439.5,1374.1 440.5,1374.1 441.5,1375.4 442.5,1377.9 443.5,1377.6 444.5,1374.3 445.5,1385.5 446.5,1378 447.5,1380.6 448.5,1379.9 449.5,1379.6 450.5,1377.7 451.5,1376.5 452.5,1381.8 453.5,1383.1 454.5,1388.6 455.5,1385.6 456.5,1388.7 457.5,1388.6 458.5,1390.2 459.5,1392.6 460.5,1389.9 461.5,1389.6 462.5,1388.7 463.5,1395.2 464.5,1389.5 465.5,1389.7 466.5,1389.3 467.5,1387.6 468.5,1383.2 469.5,1385.9 470.5,1381.7 471.5,1388.1 472.5,1379.5 473.5,1381.1 474.5,1382.6 475.5,1380.7 476.5,1383 477.5,1384 478.5,1379.5 479.5,1382.7 480.5,1384 481.5,1380.5 482.5,1382 483.5,1380.5 484.5,1381.9 485.5,1381.1 486.5,1380.1 487.5,1382 488.5,1377.4 489.5,1382.9 490.5,1381.3 491.5,1377.6 492.5,1377.3 493.5,1376.4 494.5,1385 495.5,1377.7 496.5,1381.8 497.5,1376 498.5,1381.5 499.5,1374.8 500.5,1376.6 501.5,1376.2 502.5,1375.4 503.5,1377.8 504.5,1373.8 505.5,1376.1 506.5,1375.5 507.5,1380.1 508.5,1377.6 509.5,1374.9 510.5,1380 511.5,1374.5 512.5,1377.9 513.5,1374.7 514.5,1373 515.5,1370.7 516.5,1368.6 517.5,1364 518.5,1362.7 519.5,1364.9 520.5,1359.7 521.5,1361.5 522.5,1361.7 523.5,1364.4 524.5,1359.9 525.5,1366.4 526.5,1367.2 527.5,1359.8 528.5,1359.3 529.5,1360.4 530.5,1358.7 531.5,1360.6 532.5,1359.7 533.5,1354.3 534.5,1351.3 535.5,1354.1 536.5,1355.4 537.5,1352.1 538.5,1352.7 539.5,1349.8 540.5,1350.1 541.5,1348.6 542.5,1349.7 543.5,1348.5 544.5,1345.4 545.5,1347.5 546.5,1346.9 547.5,1351 548.5,1351.9 549.5,1343.2 550.5,1346.1 551.5,1346.7 552.5,1350.9 553.5,1341 554.5,1353.9 555.5,1344.7 556.5,1339.4 557.5,1344.8 558.5,1340.9 559.5,1336.8 560.5,1335.8 561.5,1338.7 562.5,1334 563.5,1331.9 564.5,1330.5 565.5,1335.3 566.5,1332.3 567.5,1333.5 568.5,1329.7 569.5,1326.4 570.5,1331.5 571.5,1328.5 572.5,1331 573.5,1333 574.5,1324.3 575.5,1326.2 576.5,1326.6 577.5,1325.7 578.5,1324.1 579.5,1319.9 580.5,1318.7 581.5,1322.2 582.5,1320.2 583.5,1319.9 584.5,1323.3 585.5,1315.3 586.5,1316 587.5,1316.4 588.5,1313.9 589.5,1320.1 590.5,1320.1 591.5,1310.9 592.5,1319.8 593.5,1311.6 594.5,1312.2 595.5,1309.9 596.5,1308.1 597.5,1311 598.5,1307 599.5,1307.4 600.5,1306 601.5,1309.8 602.5,1303.1 603.5,1306.9 604.5,1303.8 605.5,1306.7 606.5,1306.6 607.5,1301.5 608.5,1299.2 609.5,1300.4 610.5,1306.8 611.5,1299.6 612.5,1302.4 613.5,1299.9 614.5,1297.9 615.5,1299.3 616.5,1297.1 617.5,1305.4 618.5,1299 619.5,1300.6 620.5,1295.4 621.5,1298.1 622.5,1299.5 623.5,1294.3 624.5,1299.8 625.5,1292.4 626.5,1293.5 627.5,1292.7 628.5,1291.4 629.5,1291.3 630.5,1290.9 631.5,1290.3 632.5,1296.4 633.5,1302.3 634.5,1294.2 635.5,1293.3 636.5,1291.4 637.5,1294.2 638.5,1296.8 639.5,1294.9 640.5,1298.2 641.5,1294 642.5,1294.9 643.5,1294.9 644.5,1298.4 645.5,1294.5 646.5,1296.7 647.5,1298.7 648.5,1297.2 649.5,1306.7 650.5,1306.5 651.5,1308.4 652.5,1312.7 653.5,1311.8 654.5,1313 655.5,1313.7 656.5,1317.9 657.5,1320.4 658.5,1324.2 659.5,1326.8 660.5,1329.9 661.5,1332.3 662.5,1337.2 663.5,1341.6 664.5,1344.5 665.5,1348.4 666.5,1349.5 667.5,1352 668.5,1353.1 669.5,1355.1 670.5,1356.4 671.5,1353.5 672.5,1353.1 673.5,1350.6 674.5,1353.4 675.5,1347.9 676.5,1338.3 677.5,1326.3 678.5,1312.2 679.5,1294.6 680.5,1275.5 681.5,1259.2 682.5,1244.5 683.5,1230.5 684.5,1217.4 685.5,1206.7 686.5,1198.6 687.5,1195.2 688.5,1190 689.5,1190.9 690.5,1190.9 691.5,1192.2 692.5,1190.5 693.5,1178 694.5,1176.4 695.5,1171.8 696.5,1175.4 697.5,1180.9 698.5,1184.2 699.5,1185.7 700.5,1186 701.5,1196.9 702.5,1200.1 703.5,1207 704.5,1208.4 705.5,1210.9 706.5,1219.9 707.5,1221.2 708.5,1230.5 709.5,1237.1 710.5,1244.1 711.5,1249.8 712.5,1252.3 713.5,1254.4 714.5,1259.4 715.5,1266.3 716.5,1269.3 717.5,1272.7 718.5,1274.6 719.5,1273.5 720.5,1277.8 721.5,1276.3 722.5,1276.8 723.5,1277.1 724.5,1277.1 725.5,1278.8 726.5,1280 727.5,1279.5 728.5,1278.1 729.5,1277.9 730.5,1274.6 731.5,1274.7 732.5,1274.3 733.5,1283.4 734.5,1282.6 735.5,1280.4 736.5,1273.5 737.5,1272.9 738.5,1268.8 739.5,1269 740.5,1269 741.5,1268.5 742.5,1270.8 743.5,1269.7 744.5,1273.4 745.5,1272.4 746.5,1285.4 747.5,1270.5 748.5,1273.4 749.5,1271.3 750.5,1273.3 751.5,1275.3 752.5,1278.9 753.5,1282.6 754.5,1283.2 755.5,1285.1 756.5,1286.6 757.5,1288.1 758.5,1291 759.5,1290.5 760.5,1301 761.5,1300.5 762.5,1299.9 763.5,1299.4 764.5,1301.7 765.5,1301.9 766.5,1299.8 767.5,1304.4 768.5,1307.6 769.5,1302.8 770.5,1297.8 771.5,1302 772.5,1300.8 773.5,1301.6 774.5,1302.1 775.5,1303.1 776.5,1304.9 777.5,1302.1 778.5,1304.4 779.5,1301.7 780.5,1301.3 781.5,1300.8 782.5,1298.8 783.5,1299.7 784.5,1300 785.5,1299.6 786.5,1300.3 787.5,1300.2 788.5,1298.5 789.5,1297.6 790.5,1298.8 791.5,1300 792.5,1299.1 793.5,1299.2 794.5,1298.7 795.5,1297.8 796.5,1298.6 797.5,1299.1 798.5,1299.7 799.5,1299.8 800.5,1299.8 801.5,1296.1 802.5,1297.5 803.5,1296.5 804.5,1296.7 805.5,1297.1 806.5,1297.7 807.5,1298.6 808.5,1297.2 809.5,1297.9 810.5,1299.1 811.5,1297.9 812.5,1301.9 813.5,1297 814.5,1297.6 815.5,1296.6 816.5,1297.4 817.5,1299.9 818.5,1298.3 819.5,1299.6 820.5,1299.9 821.5,1301 822.5,1298.2 823.5,1299.3 824.5,1300.2 825.5,1301.7 826.5,1301.7 827.5,1300.9 828.5,1301.6 829.5,1301.5 830.5,1302.5 831.5,1302.7 832.5,1302.9 833.5,1302.6 834.5,1301.2 835.5,1304.2 836.5,1302.6 837.5,1302.2 838.5,1303.7 839.5,1304.4 840.5,1302.7 841.5,1308.1 842.5,1309.9 843.5,1310 844.5,1315.6 845.5,1318.2 846.5,1315.6 847.5,1312.7 848.5,1310.5 849.5,1312.8 850.5,1309.5 851.5,1307.3 852.5,1309.4 853.5,1306.9 854.5,1307.8 855.5,1305.5 856.5,1305.3 857.5,1306.2 858.5,1307.8 859.5,1308.9 860.5,1306.4 861.5,1311.1 862.5,1307.6 863.5,1307.6 864.5,1309.7 865.5,1309.4 866.5,1308.6 867.5,1308.9 868.5,1311.6 869.5,1309 870.5,1309.4 871.5,1311.8 872.5,1309.7 873.5,1311.3 874.5,1313.2 875.5,1310.7 876.5,1311.6 877.5,1313.2 878.5,1310 879.5,1313.4 880.5,1313.5 881.5,1313.4 882.5,1314.4 883.5,1314.6 884.5,1313.3 885.5,1315.2 886.5,1314.1 887.5,1315.1 888.5,1313.3 889.5,1313.1 890.5,1314.3 891.5,1315.1 892.5,1317.1 893.5,1315 894.5,1317.7 895.5,1314.9 896.5,1318.1 897.5,1316.5 898.5,1319.1 899.5,1317.5 900.5,1316.6 901.5,1317.5 902.5,1318.8 903.5,1321.1 904.5,1321.9 905.5,1321.6 906.5,1323.2 907.5,1325.9 908.5,1326.7 909.5,1324.8 910.5,1325.8 911.5,1325.6 912.5,1328.8 913.5,1324.6 914.5,1325.7 915.5,1323.4 916.5,1326.2 917.5,1325.9 918.5,1325.5 919.5,1327.2 920.5,1325.5 921.5,1327.1 922.5,1327.2 923.5,1326.7 924.5,1326.9 925.5,1330.1 926.5,1328.2 927.5,1328.6 928.5,1330 929.5,1330 930.5,1330.7 931.5,1331.3 932.5,1332.1 933.5,1331.8 934.5,1332.3 935.5,1333.4 936.5,1333.2 937.5,1333.8 938.5,1334.9 939.5,1337.1 940.5,1338.8 941.5,1336.4 942.5,1336.2 943.5,1337.5 944.5,1338.1 945.5,1340.1 946.5,1339.2 947.5,1339.8 948.5,1339.7 949.5,1341.2 950.5,1341.6 951.5,1343.2 952.5,1344.3 953.5,1342 954.5,1346.2 955.5,1343.8 956.5,1344.6 957.5,1344.8 958.5,1344.4 959.5,1346 960.5,1345.4 961.5,1347.1 962.5,1347.2 963.5,1347.9 964.5,1347.3 965.5,1347.7 966.5,1349.6 967.5,1349.6 968.5,1349 969.5,1351.2 970.5,1351.3 971.5,1349.6 972.5,1351.6 973.5,1351 974.5,1351.5 975.5,1351.6 976.5,1350.5 977.5,1350.5 978.5,1350.6 979.5,1350.3 980.5,1351.2 981.5,1350.4 982.5,1350.9 983.5,1350.4 984.5,1352.9 985.5,1351.2 986.5,1351.8 987.5,1351 988.5,1350.9 989.5,1351.1 990.5,1354.5 991.5,1354 992.5,1352.8 993.5,1356.7 994.5,1356.6 995.5,1356.3 996.5,1355.9 997.5,1352.2 998.5,1352.6 999.5,1352.1 1000.5,1350.8 1001.5,1350.9 1002.5,1351.6 1003.5,1350.6 1004.5,1352.2 1005.5,1353.7 1006.5,1351.9 1007.5,1352.6 1008.5,1351.9 1009.5,1351.8 1010.5,1351.6 1011.5,1354.2 1012.5,1358.1 1013.5,1357.3 1014.5,1355.4 1015.5,1355.5 1016.5,1352.9 1017.5,1355.4 1018.5,1354 1019.5,1354 1020.5,1355 1021.5,1357.7 1022.5,1353.4 1023.5,1353 1024.5,1354.8 1025.5,1353.1 1026.5,1353.8 1027.5,1352.1 1028.5,1354.2 1029.5,1353.5 1030.5,1352.4 1031.5,1351.9 1032.5,1354.4 1033.5,1352.9 1034.5,1353.3 1035.5,1354.9 1036.5,1352.9 1037.5,1353.7 1038.5,1353.2 1039.5,1350.9 1040.5,1353.4 1041.5,1350.4 1042.5,1351.5 1043.5,1350.9 1044.5,1353.3 1045.5,1350.2 1046.5,1352.4 1047.5,1354.7 1048.5,1355.5 1049.5,1358.7 1050.5,1354.5 1051.5,1354.8 1052.5,1351 1053.5,1350.2 1054.5,1353.5 1055.5,1356.7 1056.5,1355.1 1057.5,1355.8 1058.5,1354.9 1059.5,1356.3 1060.5,1353.3 1061.5,1355.8 1062.5,1357.7 1063.5,1356 1064.5,1354.8 1065.5,1351.8 1066.5,1347.5 1067.5,1349.1 1068.5,1347.3 1069.5,1347.8 1070.5,1348.4 1071.5,1351.2 1072.5,1347 1073.5,1346.6 1074.5,1348.5 1075.5,1348.4 1076.5,1347 1077.5,1346.4 1078.5,1345.3 1079.5,1345.9 1080.5,1345.8 1081.5,1345.8 1082.5,1347.6 1083.5,1347.9 1084.5,1345.2 1085.5,1345.2 1086.5,1347.9 1087.5,1345.6 1088.5,1348.5 1089.5,1344.2 1090.5,1345.1 1091.5,1345.4 1092.5,1345.7 1093.5,1347.3 1094.5,1347.9 1095.5,1345.4 1096.5,1345.8 1097.5,1347.5 1098.5,1347.3 1099.5,1348.8 1100.5,1343.6 1101.5,1344.1 1102.5,1344.2 1103.5,1343.2 1104.5,1345 1105.5,1342.7 1106.5,1344.7 1107.5,1342.9 1108.5,1342.3 1109.5,1343.2 1110.5,1344.8 1111.5,1342.4 1112.5,1343.4 1113.5,1344.1 1114.5,1344.2 1115.5,1342.9 1116.5,1342 1117.5,1342.8 1118.5,1341.9 1119.5,1341.2 1120.5,1343.3 1121.5,1342.9 1122.5,1344.1 1123.5,1342.3 1124.5,1342.1 1125.5,1341.4 1126.5,1340.7 1127.5,1340.3 1128.5,1341.4 1129.5,1340.9 1130.5,1340.6 1131.5,1342.6 1132.5,1339.8 1133.5,1340.6 1134.5,1339 1135.5,1339.8 1136.5,1339.5 1137.5,1340.4 1138.5,1338 1139.5,1338.9 1140.5,1338.8 1141.5,1341.1 1142.5,1339.9 1143.5,1340.3 1144.5,1339.1 1145.5,1341.6 1146.5,1341.1 1147.5,1339.5 1148.5,1341.9 1149.5,1339.3 1150.5,1338.4 1151.5,1340.2 1152.5,1339.9 1153.5,1337.5 1153.5,1383.8 1152.5,1378.3 1151.5,1385.5 1150.5,1369.6 1149.5,1382.1 1148.5,1372.8 1147.5,1385.5 1146.5,1383.5 1145.5,1387.8 1144.5,1385.2 1143.5,1375.8 1142.5,1374.1 1141.5,1383.2 1140.5,1380.5 1139.5,1386.6 1138.5,1378.6 1137.5,1386.2 1136.5,1383.9 1135.5,1389.1 1134.5,1375.2 1133.5,1386.8 1132.5,1385.7 1131.5,1385.4 1130.5,1376.5 1129.5,1375.3 1128.5,1388.7 1127.5,1389.3 1126.5,1383.8 1125.5,1376.1 1124.5,1382.4 1123.5,1388.9 1122.5,1387.1 1121.5,1389.2 1120.5,1390.8 1119.5,1389.2 1118.5,1374.1 1117.5,1385.3 1116.5,1386.6 1115.5,1390.2 1114.5,1389.1 1113.5,1377 1112.5,1390.5 1111.5,1386.2 1110.5,1390.8 1109.5,1387.8 1108.5,1390.8 1107.5,1385.9 1106.5,1389.8 1105.5,1390.7 1104.5,1391.3 1103.5,1390.7 1102.5,1389.9 1101.5,1390.6 1100.5,1387.7 1099.5,1392 1098.5,1392.1 1097.5,1392.3 1096.5,1392.4 1095.5,1392.8 1094.5,1391.7 1093.5,1389 1092.5,1385.2 1091.5,1390.2 1090.5,1393.9 1089.5,1393.7 1088.5,1388.2 1087.5,1392.9 1086.5,1390.6 1085.5,1393 1084.5,1388.7 1083.5,1389.5 1082.5,1382.9 1081.5,1391.9 1080.5,1393.1 1079.5,1394 1078.5,1393.5 1077.5,1389.6 1076.5,1390.9 1075.5,1392.5 1074.5,1388.7 1073.5,1393.9 1072.5,1385.3 1071.5,1393.6 1070.5,1391.5 1069.5,1392.1 1068.5,1392.9 1067.5,1394.9 1066.5,1392.8 1065.5,1392.3 1064.5,1392.7 1063.5,1390.3 1062.5,1390.5 1061.5,1390.9 1060.5,1387.8 1059.5,1390.8 1058.5,1389.5 1057.5,1392.6 1056.5,1391.6 1055.5,1382.8 1054.5,1389.1 1053.5,1389.2 1052.5,1383.6 1051.5,1391.7 1050.5,1388.6 1049.5,1391.6 1048.5,1390.7 1047.5,1389.9 1046.5,1392.4 1045.5,1387.1 1044.5,1392.8 1043.5,1392.7 1042.5,1391.6 1041.5,1393.5 1040.5,1394.9 1039.5,1394 1038.5,1389.9 1037.5,1394.2 1036.5,1391.6 1035.5,1392.1 1034.5,1392.4 1033.5,1394.5 1032.5,1397.6 1031.5,1394.8 1030.5,1395.5 1029.5,1391.1 1028.5,1396.5 1027.5,1391.2 1026.5,1395.9 1025.5,1388.8 1024.5,1381 1023.5,1395.9 1022.5,1394.2 1021.5,1388.8 1020.5,1393.8 1019.5,1393.1 1018.5,1393.9 1017.5,1395.3 1016.5,1395.5 1015.5,1393.9 1014.5,1392.7 1013.5,1388.5 1012.5,1384.7 1011.5,1382.9 1010.5,1379.3 1009.5,1382.8 1008.5,1381.2 1007.5,1381.4 1006.5,1381.2 1005.5,1381.9 1004.5,1381.6 1003.5,1383.1 1002.5,1382 1001.5,1383.1 1000.5,1372.9 999.5,1378.8 998.5,1387 997.5,1386.8 996.5,1377.4 995.5,1392 994.5,1382.3 993.5,1388.5 992.5,1381.7 991.5,1385.5 990.5,1390.2 989.5,1387.2 988.5,1389.5 987.5,1388.6 986.5,1385 985.5,1386 984.5,1390 983.5,1386.3 982.5,1387.1 981.5,1383.4 980.5,1383.1 979.5,1384.7 978.5,1388.1 977.5,1385.1 976.5,1384.6 975.5,1385.4 974.5,1385.1 973.5,1382.8 972.5,1386.1 971.5,1386.1 970.5,1376.5 969.5,1383.7 968.5,1381.5 967.5,1377.2 966.5,1382.5 965.5,1381.6 964.5,1380.7 963.5,1381.3 962.5,1378.2 961.5,1379.6 960.5,1380.4 959.5,1378.8 958.5,1373 957.5,1377.5 956.5,1377.5 955.5,1376.7 954.5,1378.1 953.5,1369.4 952.5,1375.7 951.5,1376.7 950.5,1372 949.5,1376.6 948.5,1375.3 947.5,1374.9 946.5,1373.7 945.5,1373 944.5,1374.3 943.5,1373.8 942.5,1362.8 941.5,1373 940.5,1362 939.5,1364 938.5,1366.6 937.5,1373.4 936.5,1371.1 935.5,1373 934.5,1367.8 933.5,1364.5 932.5,1366.2 931.5,1371.5 930.5,1369.1 929.5,1362.5 928.5,1367.6 927.5,1367.6 926.5,1367.9 925.5,1368.8 924.5,1364.5 923.5,1365.5 922.5,1359.4 921.5,1365.4 920.5,1365.6 919.5,1360.5 918.5,1363.9 917.5,1365.8 916.5,1366.8 915.5,1364 914.5,1355.6 913.5,1355.4 912.5,1365.2 911.5,1362.1 910.5,1361 909.5,1364.7 908.5,1361.4 907.5,1362.6 906.5,1360.6 905.5,1361 904.5,1360.5 903.5,1360.8 902.5,1360.8 901.5,1358.9 900.5,1357.5 899.5,1346.3 898.5,1345.8 897.5,1348.6 896.5,1357.3 895.5,1349.2 894.5,1356.2 893.5,1356 892.5,1357.6 891.5,1346.9 890.5,1358 889.5,1356.9 888.5,1352.3 887.5,1355.2 886.5,1353.7 885.5,1356.3 884.5,1354.9 883.5,1352.5 882.5,1355.6 881.5,1355.1 880.5,1355.2 879.5,1356.1 878.5,1343.7 877.5,1353.6 876.5,1353.5 875.5,1355.6 874.5,1353.3 873.5,1354.6 872.5,1352 871.5,1354.1 870.5,1349.7 869.5,1350.3 868.5,1353.1 867.5,1353.5 866.5,1348.1 865.5,1351.1 864.5,1349.6 863.5,1351 862.5,1348.8 861.5,1351.4 860.5,1350.6 859.5,1335.9 858.5,1346.2 857.5,1350.6 856.5,1351.4 855.5,1336.5 854.5,1347.3 853.5,1349.5 852.5,1350.9 851.5,1344.4 850.5,1349.3 849.5,1346 848.5,1344.7 847.5,1342.6 846.5,1339.2 845.5,1334.4 844.5,1349.3 843.5,1343.2 842.5,1348 841.5,1348.7 840.5,1332.8 839.5,1348.2 838.5,1345 837.5,1344 836.5,1344.8 835.5,1348.2 834.5,1347.2 833.5,1345.6 832.5,1346.7 831.5,1346.6 830.5,1345.1 829.5,1339.2 828.5,1347.1 827.5,1340.9 826.5,1344.6 825.5,1344 824.5,1342.7 823.5,1345.2 822.5,1344.1 821.5,1341.7 820.5,1343.2 819.5,1331.8 818.5,1342.1 817.5,1344.3 816.5,1344.2 815.5,1335.1 814.5,1343.1 813.5,1343.1 812.5,1339 811.5,1341.2 810.5,1339 809.5,1343.6 808.5,1338.4 807.5,1339.3 806.5,1341.7 805.5,1338.8 804.5,1338.1 803.5,1340.9 802.5,1341.5 801.5,1339.9 800.5,1342.2 799.5,1338.9 798.5,1340 797.5,1342.3 796.5,1342.9 795.5,1335.9 794.5,1332.8 793.5,1343.2 792.5,1343.4 791.5,1342.9 790.5,1344.8 789.5,1342.8 788.5,1342.6 787.5,1342.7 786.5,1345.5 785.5,1345.5 784.5,1345.5 783.5,1345.8 782.5,1343.2 781.5,1348.9 780.5,1347.2 779.5,1345.9 778.5,1348.4 777.5,1342 776.5,1348.5 775.5,1348 774.5,1342.5 773.5,1347.6 772.5,1347.1 771.5,1348.4 770.5,1348.2 769.5,1345.7 768.5,1341.2 767.5,1344.6 766.5,1329.3 765.5,1336 764.5,1346.8 763.5,1345.8 762.5,1341.8 761.5,1341.8 760.5,1341.5 759.5,1337.2 758.5,1333.4 757.5,1328.3 756.5,1326.7 755.5,1326.8 754.5,1326.7 753.5,1325.6 752.5,1321.4 751.5,1313.3 750.5,1310.1 749.5,1305.7 748.5,1306.6 747.5,1317.4 746.5,1314.6 745.5,1309.6 744.5,1304.9 743.5,1300.8 742.5,1301.4 741.5,1298.4 740.5,1297.2 739.5,1299.4 738.5,1298.4 737.5,1305 736.5,1310.5 735.5,1308.2 734.5,1313.5 733.5,1321.6 732.5,1317.6 731.5,1325.2 730.5,1321.2 729.5,1320.9 728.5,1325.9 727.5,1322 726.5,1319.2 725.5,1323.6 724.5,1321.1 723.5,1318.9 722.5,1319.1 721.5,1316.4 720.5,1315.9 719.5,1313.2 718.5,1312.1 717.5,1311.2 716.5,1306.2 715.5,1301.8 714.5,1296.5 713.5,1293.9 712.5,1287 711.5,1281.6 710.5,1274.4 709.5,1266.8 708.5,1266.5 707.5,1263.4 706.5,1259.8 705.5,1256.5 704.5,1250.3 703.5,1248.7 702.5,1243.8 701.5,1238.8 700.5,1232.9 699.5,1229.5 698.5,1224.1 697.5,1223.3 696.5,1222 695.5,1219.9 694.5,1217.8 693.5,1214 692.5,1213.2 691.5,1210.5 690.5,1205.5 689.5,1218 688.5,1213.7 687.5,1237.6 686.5,1233.1 685.5,1260.3 684.5,1255.8 683.5,1288.2 682.5,1282.9 681.5,1319.1 680.5,1310.1 679.5,1343.9 678.5,1341.6 677.5,1365.6 676.5,1363.9 675.5,1379.1 674.5,1392.6 673.5,1386.6 672.5,1402.4 671.5,1400.1 670.5,1398.1 669.5,1398.4 668.5,1393.5 667.5,1394.3 666.5,1389.1 665.5,1387.5 664.5,1384.7 663.5,1381.1 662.5,1375.4 661.5,1372.9 660.5,1369.9 659.5,1367.3 658.5,1366.1 657.5,1361.9 656.5,1360.2 655.5,1355.5 654.5,1352.2 653.5,1353 652.5,1351.2 651.5,1350.1 650.5,1347 649.5,1351.3 648.5,1351 647.5,1348 646.5,1345.8 645.5,1345.4 644.5,1342.8 643.5,1342.2 642.5,1340.2 641.5,1339.9 640.5,1339.7 639.5,1340.1 638.5,1339 637.5,1341.3 636.5,1339.9 635.5,1339.8 634.5,1338.8 633.5,1337.9 632.5,1337.3 631.5,1337.4 630.5,1337.3 629.5,1336.3 628.5,1338 627.5,1338.1 626.5,1340.2 625.5,1340.5 624.5,1340.6 623.5,1340.5 622.5,1339.9 621.5,1343.5 620.5,1342.3 619.5,1341.1 618.5,1344 617.5,1342.6 616.5,1343.4 615.5,1344.9 614.5,1344.3 613.5,1345.6 612.5,1346.2 611.5,1346 610.5,1345.4 609.5,1348.4 608.5,1346 607.5,1349 606.5,1347.4 605.5,1348.9 604.5,1348.2 603.5,1351.7 602.5,1348.8 601.5,1352.2 600.5,1350.4 599.5,1352.3 598.5,1350 597.5,1353.5 596.5,1352.9 595.5,1353 594.5,1353.7 593.5,1354.1 592.5,1358.2 591.5,1356.1 590.5,1356.3 589.5,1357.6 588.5,1358.8 587.5,1359.2 586.5,1361.6 585.5,1361.1 584.5,1362.3 583.5,1363.5 582.5,1363.7 581.5,1360.9 580.5,1367.7 579.5,1366.2 578.5,1366.1 577.5,1368.9 576.5,1367.9 575.5,1371 574.5,1369.8 573.5,1369.4 572.5,1371.9 571.5,1371.2 570.5,1374.5 569.5,1373.2 568.5,1374.6 567.5,1374.3 566.5,1375.3 565.5,1378.2 564.5,1376.5 563.5,1376.2 562.5,1377.7 561.5,1383.6 560.5,1382.2 559.5,1380.3 558.5,1383.8 557.5,1370.1 556.5,1386.1 555.5,1380.5 554.5,1387.8 553.5,1387.1 552.5,1384.6 551.5,1378.9 550.5,1390 549.5,1389.6 548.5,1386.9 547.5,1389.2 546.5,1385.5 545.5,1391.7 544.5,1390.8 543.5,1389.9 542.5,1392.1 541.5,1377.7 540.5,1394.7 539.5,1393.5 538.5,1388.1 537.5,1395 536.5,1393.2 535.5,1397.5 534.5,1382 533.5,1396 532.5,1393 531.5,1400.8 530.5,1399.2 529.5,1397.7 528.5,1399.2 527.5,1397.8 526.5,1392 525.5,1399.5 524.5,1392 523.5,1395.9 522.5,1398.5 521.5,1405 520.5,1400.9 519.5,1404.4 518.5,1404.1 517.5,1403.1 516.5,1404.3 515.5,1406.4 514.5,1399.9 513.5,1406.7 512.5,1405.8 511.5,1407.8 510.5,1409.8 509.5,1401.9 508.5,1410 507.5,1403.9 506.5,1411.2 505.5,1416.2 504.5,1403.9 503.5,1410.7 502.5,1413.3 501.5,1407.5 500.5,1419.4 499.5,1419.1 498.5,1419.2 497.5,1416.5 496.5,1419.1 495.5,1420.2 494.5,1421.4 493.5,1416.5 492.5,1421 491.5,1421.7 490.5,1421.4 489.5,1423.1 488.5,1419.4 487.5,1420.1 486.5,1421 485.5,1422.9 484.5,1425.7 483.5,1415 482.5,1421 481.5,1416.1 480.5,1419.7 479.5,1426 478.5,1425.3 477.5,1419.5 476.5,1422 475.5,1417.9 474.5,1425.8 473.5,1426 472.5,1423.7 471.5,1422 470.5,1423 469.5,1421.5 468.5,1407.5 467.5,1422 466.5,1427 465.5,1425.4 464.5,1423.6 463.5,1421 462.5,1420.9 461.5,1421.5 460.5,1413.5 459.5,1422.1 458.5,1412.2 457.5,1422.7 456.5,1424.3 455.5,1423.7 454.5,1423.8 453.5,1421.9 452.5,1423 451.5,1422.2 450.5,1421.7 449.5,1421.8 448.5,1421.9 447.5,1420.4 446.5,1421.5 445.5,1422.6 444.5,1419.1 443.5,1418.1 442.5,1420.6 441.5,1417.3 440.5,1418.5 439.5,1420 438.5,1404 437.5,1412 436.5,1418.7 435.5,1415.5 434.5,1418.5 433.5,1419.2 432.5,1412.1 431.5,1411.8 430.5,1409 429.5,1406 428.5,1412.8 427.5,1415.6 426.5,1403.1 425.5,1412.4 424.5,1397.3 423.5,1403.6 422.5,1413.8 421.5,1412.1 420.5,1410.9 419.5,1411 418.5,1408.3 417.5,1411.2 416.5,1406.3 415.5,1407.9 414.5,1403.4 413.5,1403.8 412.5,1407.1 411.5,1406.4 410.5,1402.8 409.5,1402.5 408.5,1392.8 407.5,1403.5 406.5,1388.7 405.5,1390 404.5,1401.1 403.5,1397.4 402.5,1398.5 401.5,1400.4 400.5,1399.2 399.5,1398 398.5,1394.8 397.5,1392.5 396.5,1388.5 395.5,1386.5 394.5,1390.8 393.5,1390.2 392.5,1390.6 391.5,1395.7 390.5,1391 389.5,1392.1 388.5,1391.5 387.5,1382.6 386.5,1389.9 385.5,1388.7 384.5,1389.5 383.5,1382.3 382.5,1380.3 381.5,1379.4 380.5,1388.1 379.5,1386.5 378.5,1373.2 377.5,1383.3 376.5,1367 375.5,1375.2 374.5,1383.3 373.5,1377.5 372.5,1374.9 371.5,1374.2 370.5,1377 369.5,1382.8 368.5,1378.3 367.5,1382.1 366.5,1360.6 365.5,1370.5 364.5,1381.9 363.5,1370.2 362.5,1378.9 361.5,1379.6 360.5,1360 359.5,1370.5 358.5,1377.8 357.5,1370.7 356.5,1370.3 355.5,1356.8 354.5,1376.4 353.5,1372.6 352.5,1374.8 351.5,1374.5 350.5,1373.4 349.5,1367.1 348.5,1373.4 347.5,1373.2 346.5,1371.2 345.5,1368.3 344.5,1359.2 343.5,1372 342.5,1359.9 341.5,1367.8 340.5,1361.9 339.5,1354.3 338.5,1348.6 337.5,1364.9 336.5,1369 335.5,1366 334.5,1362.6 333.5,1359.4 332.5,1358.4 331.5,1356.1 330.5,1355.5 329.5,1367.2 328.5,1362.1 327.5,1348.6 326.5,1366.8 325.5,1363.8 324.5,1364.3 323.5,1366.5 322.5,1367.1 321.5,1362.7 320.5,1365.1 319.5,1365.4 318.5,1366.1 317.5,1361.1 316.5,1366.5 315.5,1363.6 314.5,1353.9 313.5,1355.3 312.5,1356.7 311.5,1351.6 310.5,1356.6 309.5,1346.6 308.5,1359.6 307.5,1346.8 306.5,1347.1 305.5,1352.6 304.5,1361 303.5,1356.7 302.5,1353 301.5,1364.3 300.5,1360.2 299.5,1363 298.5,1354.1 297.5,1363.2 296.5,1363.8 295.5,1345.7 294.5,1363.2 293.5,1363.7 292.5,1356.4 291.5,1360.1 290.5,1364.3 289.5,1352.1 288.5,1358.8 287.5,1363.8 286.5,1360.7 285.5,1365.2 284.5,1344.2 283.5,1356 282.5,1363 281.5,1358.7 280.5,1349.6 279.5,1366.2 278.5,1365.5 277.5,1366.4 276.5,1352.1 275.5,1357.5 274.5,1366.5 273.5,1367.6 272.5,1360.2 271.5,1364.9 270.5,1368 269.5,1366.9 268.5,1359.8 267.5,1370.5 266.5,1365.2 265.5,1368 264.5,1369.9 263.5,1369.5 262.5,1362.7 261.5,1371.9 260.5,1367.5 259.5,1372.2 258.5,1371.3 257.5,1367.8 256.5,1375.2 255.5,1357.1 254.5,1352.7 253.5,1358.5 252.5,1359.2 251.5,1374.5 250.5,1370.3 249.5,1377.8 248.5,1371.4 247.5,1367.1 246.5,1370.1 245.5,1367.2 244.5,1380.4 243.5,1371.9 242.5,1379.4 241.5,1380.8 240.5,1382.7 239.5,1381 238.5,1382.9 237.5,1383.9 236.5,1383.3 235.5,1385.4 234.5,1386.5 233.5,1385.5 232.5,1384.6 231.5,1386.3 230.5,1386.5 229.5,1387.2 228.5,1386.8 227.5,1388.2 226.5,1387.3 225.5,1387.2 224.5,1386.6 223.5,1385.5 222.5,1388.8 221.5,1387.6 220.5,1387.7 219.5,1388.9 218.5,1388.1 217.5,1388.1 216.5,1389.3 215.5,1389 214.5,1389 213.5,1388.5 212.5,1387.1 211.5,1387.7 210.5,1387.9 209.5,1389.3 208.5,1388.5 207.5,1388.2 206.5,1386 205.5,1387.5 204.5,1386.7 203.5,1387.7 202.5,1387.5 201.5,1387.5 200.5,1387 199.5,1386.7 198.5,1386 197.5,1385.6 196.5,1384 195.5,1381.6 194.5,1378.7 193.5,1384.9 192.5,1383.5 191.5,1382.5 190.5,1383.7 189.5,1382.9 188.5,1383.5 187.5,1382.9 186.5,1382.6 185.5,1383.4 184.5,1382.8 183.5,1382.6 182.5,1382.9 181.5,1382.6 180.5,1380.6 179.5,1381.9 178.5,1381 177.5,1381.3 176.5,1381.6 175.5,1380.9 174.5,1381.1 173.5,1379.3 172.5,1381 171.5,1378.4 170.5,1380.6 169.5,1381 168.5,1380.8 167.5,1382.7 166.5,1381.6" fill="#00ff00"/>
<polygon points="921,1326.2 922,1326 923,1325.4 924,1325 925,1325.8 926,1326.7 927,1326.8 928,1326.9 929,1327.7 930,1328.3 931,1329.1 932,1330.4 933,1330 934,1331.2 935,1332.1 936,1332.6 937,1333.1 938,1333.1 939,1333.6 940,1334.6 941,1334.6 942,1335.6 943,1335.9 944,1336.5 945,1336.6 946,1337.6 947,1337.5 948,1338.1 949,1339.2 950,1339.9 951,1339.9 952,1340.9 953,1340.9 954,1341.8 955,1342.4 956,1342.6 957,1343 958,1343.8 959,1344.5 960,1345 961,1345.4 962,1345.7 963,1346.5 964,1346.9 965,1347.4 966,1348.1 967,1348.1 968,1348.5 969,1348.6 970,1349.1 971,1349.3 972,1349.6 973,1349.6 974,1349.9 975,1349.8 976,1350.1 977,1350.2 978,1350.2 978,1353.5 977,1353.4 976,1353.3 975,1353.2 974,1353.1 973,1353 972,1352.9 971,1352.7 970,1352.5 969,1352.3 968,1352 967,1351.8 966,1351.6 965,1351.1 964,1350.6 963,1350.1 962,1349.6 961,1349.1 960,1348.6 959,1348.1 958,1347.7 957,1347.2 956,1346.7 955,1346.2 954,1345.7 953,1345.2 952,1344.7 951,1344.2 950,1343.7 949,1343.2 948,1342.7 947,1342.2 946,1341.7 945,1341.2 944,1340.7 943,1340.2 942,1339.7 941,1339.2 940,1338.7 939,1338.2 938,1337.7 937,1337.2 936,1336.7 935,1336.2 934,1335.7 933,1335.2 932,1334.7 931,1334.2 930,1333.6 929,1332.9 928,1332.3 927,1331.6 926,1330.9 925,1330.3 924,1330 923,1329.8 922,1329.6 921,1329.4" fill="#00ff00"/>
<path d="M166.5 1330.9V1381L167.5 1382.5V1329.4L168.5 1327.2V1380.4L169.5 1380.5V1328.6L170.5 1329.5V1380.2L171.5 1377.8V1330.5L172.5 1331.5V1380.5L173.5 1378.8V1332L174.5 1332V1380.6L175.5 1380.5V1331.5L176.5 1332.2V1380.9L177.5 1380.7V1332.1L178.5 1330.1V1380.8L179.5 1381.5V1330.6L180.5 1330.8V1379.9L181.5 1382V1331.1L182.5 1331.9V1382.1L183.5 1382.3V1331.1L184.5 1332.5V1382.5L185.5 1382.6V1332.8L186.5 1331.7V1382.6L187.5 1382.1V1333.1L188.5 1332V1382.9L189.5 1382.1V1332L190.5 1334.6V1383.5L191.5 1381.9V1334.7L192.5 1335.9V1383L193.5 1384.4V1338.6L194.5 1343.7V1378.5L195.5 1380.8V1342L196.5 1335.9V1383.3L197.5 1385.4V1338.8L198.5 1337.2V1385.1L199.5 1386.1V1337.7L200.5 1337.5V1386.5L201.5 1387V1337.9L202.5 1339V1387.3L203.5 1387V1338.4L204.5 1338.8V1386.6L205.5 1387.4V1339.1L206.5 1339.2V1385.8L207.5 1387.5V1337.9L208.5 1339.6V1388.3L209.5 1388.4V1338.4L210.5 1338.7V1387L211.5 1387.6V1339L212.5 1339.3V1386.9L213.5 1387.8V1339.9L214.5 1338.8V1388.2L215.5 1388.7V1339.8L216.5 1339.7V1388.6L217.5 1388V1340.4L218.5 1339.5V1387.2L219.5 1388.4V1340.1L220.5 1341.9V1387.6L221.5 1387.2V1339.8L222.5 1345.6V1388.3L223.5 1385.4V1345.4L224.5 1344V1386.4L225.5 1386.5V1342.1L226.5 1338.8V1386.5L227.5 1387.3V1338.9L228.5 1338.5V1386.6L229.5 1386.8V1338.3L230.5 1338.7V1386L231.5 1385.5V1339.7L232.5 1338.2V1384.2L233.5 1385.5V1336.9L234.5 1336.9V1386.4L235.5 1384.8V1337.8L236.5 1335.8V1382.9L237.5 1383.7V1336.1L238.5 1334.5V1382.4L239.5 1380.7V1334L240.5 1334.6V1382.5L241.5 1380.1V1334.7L242.5 1334.1V1379.4L243.5 1371.4V1332L244.5 1330.4V1379.6L245.5 1366.8V1329.1L246.5 1328.9V1369.2L247.5 1366.2V1327.7L248.5 1327.2V1370.5L249.5 1377.6V1328.2L250.5 1326.9V1369.6L251.5 1373.9V1327.6L252.5 1328.3V1358.9L253.5 1357.7V1326.6L254.5 1326.4V1352.7L255.5 1357V1325.3L256.5 1326.4V1374.7L257.5 1366.9V1326.6L258.5 1325.5V1370.7L259.5 1371.6V1325.3L260.5 1323.3V1366.6L261.5 1371.8V1323.5L262.5 1323.8V1362.1L263.5 1368.6V1322.9L264.5 1323.3V1369.5L265.5 1367.9V1323.9L266.5 1321.4V1365.2L267.5 1369.9V1321.8L268.5 1320.9V1359.2L269.5 1366.6V1321L270.5 1320.4V1367.6L271.5 1364.2V1320L272.5 1319.4V1359.8L273.5 1367V1321.3L274.5 1320V1365.6L275.5 1357.4V1319.6L276.5 1320.8V1351.6L277.5 1365.7V1319L278.5 1318.5V1364.8L279.5 1366V1319L280.5 1318.5V1349L281.5 1358.3V1320L282.5 1317.9V1362.8L283.5 1356V1318.5L284.5 1317.5V1343.6L285.5 1365V1319.3L286.5 1319.5V1360.1L287.5 1363V1317.6L288.5 1320.3V1358.2L289.5 1352V1316.5L290.5 1316.7V1364.1L291.5 1359.9V1317.4L292.5 1318.8V1355.7L293.5 1363.1V1317.4L294.5 1317.6V1362.5L295.5 1345.1V1316.9L296.5 1320V1363.1L297.5 1362.4V1318.5L298.5 1317.4V1353.5L299.5 1362.9V1316.9L300.5 1316.5V1360L301.5 1364.1V1318.8L302.5 1319.4V1352.2L303.5 1355.8V1316.9L304.5 1317.6V1360.2L305.5 1351.9V1317.3L306.5 1316.7V1346.2L307.5 1346.6V1316.5L308.5 1316.9V1359.2L309.5 1346.3V1317.9L310.5 1316.9V1356.5L311.5 1351.3V1316.9L312.5 1318.6V1356.3L313.5 1355.1V1317.3L314.5 1316.9V1353L315.5 1362.8V1345.7L316.5 1347.9V1366L317.5 1360.9V1347.3L318.5 1347.6V1366L319.5 1365.2V1347.3L320.5 1347.3V1364.9L321.5 1362.2V1339L322.5 1317.5V1367L323.5 1366V1319.8L324.5 1320V1363.8L325.5 1363.6V1319.4L326.5 1322.8V1366L327.5 1347.9V1320.3L328.5 1320.4V1361.8L329.5 1367V1320.9L330.5 1321.2V1355.2L331.5 1355.4V1321.3L332.5 1321.4V1358.2L333.5 1359.2V1322L334.5 1322.5V1362.3L335.5 1365.2V1321.4L336.5 1322V1368.9L337.5 1364.7V1324.2L338.5 1323.2V1347.9L339.5 1354.2V1322.3L340.5 1323.2V1361.1L341.5 1367.6V1324.4L342.5 1322.3V1359.8L343.5 1371.2V1323.3L344.5 1325V1359L345.5 1367.8V1323.8L346.5 1323.3V1371.2L347.5 1372.8V1325.6L348.5 1327.4V1372.9L349.5 1366.6V1326.9L350.5 1327.2V1372.8L351.5 1373.8V1329.1L352.5 1330.4V1374.1L353.5 1372.1V1331L354.5 1333.1V1375.7L355.5 1356V1332.7L356.5 1331.9V1369.7L357.5 1370.4V1331.1L358.5 1331.8V1377.6L359.5 1369.7V1333.3L360.5 1332V1359.2L361.5 1379.6V1336.4L362.5 1334.1V1378.1L363.5 1369.6V1334.9L364.5 1335.4V1381.5L365.5 1369.7V1334.8L366.5 1335.3V1360.6L367.5 1381.9V1335.5L368.5 1334V1377.8L369.5 1382.5V1335.4L370.5 1336.7V1376.5L371.5 1374.2V1335.5L372.5 1335.6V1374.4L373.5 1377V1335.9L374.5 1337V1382.5L375.5 1374.7V1338.2L376.5 1337.9V1366.8L377.5 1382.8V1339.4L378.5 1340.7V1372.7L379.5 1385.7V1340.8L380.5 1342.8V1387.3L381.5 1378.7V1343.4L382.5 1345.3V1379.8L383.5 1382V1343.7L384.5 1348.4V1389.3L385.5 1388.1V1349.9L386.5 1353V1389.1L387.5 1382V1353.4L388.5 1353.5V1391.2L389.5 1392V1349.9L390.5 1347.2V1390.3L391.5 1395.1V1352.4L392.5 1358.1V1390.3L393.5 1389.3V1364.1L394.5 1363.5V1390.2L395.5 1385.7V1361.1L396.5 1361.1V1388.1L397.5 1391.8V1357.3L398.5 1363.5V1394.1L399.5 1397.3V1355.2L400.5 1353V1398.8L401.5 1399.9V1358.2L402.5 1360.4V1398.5L403.5 1396.7V1363.1L404.5 1362.4V1400.8L405.5 1389.9V1361.3L406.5 1358.8V1388.7L407.5 1402.9V1366.3L408.5 1363V1392.2L409.5 1401.7V1362.3L410.5 1359.8V1402.7L411.5 1406.1V1359.2L412.5 1362.2V1406.7L413.5 1403.6V1367.7L414.5 1366.1V1402.9L415.5 1407.6V1365.3L416.5 1365V1405.8L417.5 1410.4V1368.3L418.5 1370.1V1408.2L419.5 1410.9V1372.9L420.5 1365.6V1410.2L421.5 1411.3V1364.1L422.5 1365.5V1413.2L423.5 1403.5V1367.7L424.5 1367.6V1397.1L425.5 1412.3V1367.5L426.5 1367V1402.3L427.5 1415.5V1374.5L428.5 1370.9V1412.5L429.5 1405.5V1368.7L430.5 1369.5V1408.5L431.5 1411.1V1374.4L432.5 1370.8V1412L433.5 1418.4V1374.7L434.5 1374.3V1418L435.5 1415.5V1375.4L436.5 1377V1418.6L437.5 1411.4V1383.4L438.5 1372.8V1403.2L439.5 1419.3V1375L440.5 1374.6V1418.3L441.5 1417.2V1375.7L442.5 1378.3V1419.9L443.5 1418V1378L444.5 1374.7V1418.8L445.5 1422.3V1385.7L446.5 1378.4V1421.5L447.5 1419.9V1380.8L448.5 1380.5V1421.1L449.5 1421.3V1379.9L450.5 1378.4V1421.6L451.5 1421.6V1376.7L452.5 1382.6V1422.3L453.5 1421.7V1383.9L454.5 1389.4V1423.2L455.5 1423.3V1386.4L456.5 1388.8V1424.2L457.5 1421.9V1389.3L458.5 1390.2V1411.4L459.5 1421.3V1392.8L460.5 1390V1413.4L461.5 1420.6V1390L462.5 1389.3V1420.3L463.5 1420.3V1395.2L464.5 1390.3V1423.4L465.5 1424.6V1390.2L466.5 1389.9V1426.7L467.5 1421.3V1387.6L468.5 1383.5V1407.2L469.5 1421.3V1385.9L470.5 1381.7V1422.7L471.5 1422V1388.9L472.5 1379.6V1423.2L473.5 1425.2V1381.8L474.5 1382.8V1425.1L475.5 1417.2V1381.6L476.5 1383.1V1421.7L477.5 1418.7V1384.4L478.5 1379.6V1424.9L479.5 1425.5V1382.8L480.5 1384.5V1419.4L481.5 1416.1V1381.4L482.5 1382.5V1420.3L483.5 1414.7V1380.5L484.5 1382.8V1425.2L485.5 1422.7V1381.6L486.5 1380.9V1420.7L487.5 1420V1382.2L488.5 1377.6V1419L489.5 1422.3V1383.5L490.5 1381.6V1421.3L491.5 1421.5V1378L492.5 1377.5V1420.8L493.5 1416.2V1376.7L494.5 1385.5V1421.3L495.5 1419.6V1378.1L496.5 1382.5V1418.7L497.5 1416.1V1376.4L498.5 1381.6V1418.7L499.5 1418.8V1375.7L500.5 1377.2V1419.3L501.5 1407.5V1376.5L502.5 1376.2V1413.1L503.5 1409.9V1378.4L504.5 1374.3V1403.1L505.5 1415.5V1376.2L506.5 1376.3V1410.9L507.5 1403.6V1380.3L508.5 1378.5V1409.5L509.5 1401.2V1375.7L510.5 1380.7V1409.6L511.5 1407V1375L512.5 1378.1V1405L513.5 1406.2V1374.9L514.5 1373.8V1399.1L515.5 1405.8V1371.2L516.5 1368.7V1403.9L517.5 1402.7V1364.7L518.5 1363.4V1403.8L519.5 1403.7V1365.8L520.5 1360.2V1400.7L521.5 1404.8V1361.7L522.5 1361.8V1398.1L523.5 1395V1364.7L524.5 1360.2V1391.3L525.5 1399V1367.2L526.5 1367.4V1391.3L527.5 1397.6V1360.4L528.5 1359.6V1398.5L529.5 1396.9V1361L530.5 1359.2V1398.4L531.5 1399.9V1361.4L532.5 1360V1392.9L533.5 1395.5V1354.7L534.5 1351.4V1381.4L535.5 1397V1355L536.5 1355.9V1392.3L537.5 1394.5V1352.7L538.5 1353.1V1387.3L539.5 1393.3V1350.5L540.5 1350.9V1394.1L541.5 1377.6V1349.3L542.5 1350V1391.6L543.5 1389.5V1349.2L544.5 1345.6V1390.3L545.5 1391.2V1347.7L546.5 1347.1V1385.4L547.5 1388.7V1351.2L548.5 1352.8V1386.6L549.5 1388.8V1343.7L550.5 1346.2V1389.3L551.5 1378.4V1347.4L552.5 1351.7V1383.8L553.5 1386.4V1341.7L554.5 1354.3V1387.3L555.5 1380V1344.9L556.5 1340.2V1385.7L557.5 1369.8V1345.5L558.5 1341V1383.4L559.5 1380.3V1337.7L560.5 1335.9V1381.9L561.5 1383.5V1338.8L562.5 1334.7V1377.6L563.5 1375.7V1332.5L564.5 1331.1V1375.9L565.5 1377.6V1336L566.5 1332.4V1374.6L567.5 1374.1V1334.2L568.5 1330.3V1374.6L569.5 1373V1327.2L570.5 1331.6V1373.8L571.5 1370.4V1328.8L572.5 1331V1371.4L573.5 1369.4V1333L574.5 1324.3V1369.2L575.5 1370.8V1326.3L576.5 1327.5V1367.3L577.5 1368.1V1326.1L578.5 1324.7V1365.6L579.5 1365.9V1320.4L580.5 1319.5V1367L581.5 1360.8V1322.9L582.5 1320.9V1363.3L583.5 1362.7V1320.1L584.5 1323.9V1361.7L585.5 1360.6V1315.6L586.5 1316.6V1361.1L587.5 1358.8V1316.6L588.5 1314.4V1358.8L589.5 1357V1320.4L590.5 1320.9V1355.7L591.5 1355.6V1311.7L592.5 1320V1357.3L593.5 1353.6V1311.9L594.5 1312.7V1353L595.5 1352.3V1310L596.5 1308.8V1352.8L597.5 1353.4V1311.2L598.5 1307.5V1349.8L599.5 1352V1307.6L600.5 1306.6V1350.4L601.5 1351.4V1310.2L602.5 1303.9V1348.7L603.5 1351.4V1307.5L604.5 1304.2V1348.1L605.5 1348.5V1306.8L606.5 1307V1347L607.5 1348.2V1301.5L608.5 1300V1345.7L609.5 1347.6V1300.5L610.5 1307.3V1344.8L611.5 1345.8V1300.3L612.5 1303.1V1345.3L613.5 1345V1300L614.5 1298.1V1344L615.5 1344.7V1299.4L616.5 1298V1343.3L617.5 1341.9V1305.9L618.5 1299.1V1343.2L619.5 1340.6V1301.5L620.5 1296.2V1341.4L621.5 1342.7V1298.5L622.5 1300.2V1339.3L623.5 1339.9V1295.1L624.5 1300.1V1339.7L625.5 1339.6V1293.2L626.5 1293.6V1339.8L627.5 1337.3V1293.2L628.5 1292.1V1337.8L629.5 1335.5V1291.8L630.5 1291.6V1336.6L631.5 1337V1290.3L632.5 1296.4V1337.2L633.5 1337.1V1302.5L634.5 1294.9V1338.1L635.5 1339.4V1293.4L636.5 1292.3V1339.5L637.5 1340.8V1294.8L638.5 1296.9V1338.2L639.5 1339.4V1295L640.5 1298.6V1339.1L641.5 1339.5V1294.2L642.5 1295V1339.8L643.5 1341.7V1295.5L644.5 1298.9V1342.6L645.5 1344.5V1295.2L646.5 1296.9V1345.6L647.5 1347.3V1299.5L648.5 1298.1V1350.2L649.5 1350.5V1306.9L650.5 1306.8V1346.9L651.5 1350V1308.8L652.5 1313.3V1350.7L653.5 1352.6V1312.5L654.5 1313.8V1351.9L655.5 1354.9V1314.6L656.5 1318.5V1359.8L657.5 1361.9V1320.6L658.5 1325V1366L659.5 1366.7V1327.2L660.5 1330.1V1369.3L661.5 1372.8V1332.9L662.5 1337.6V1375.1L663.5 1380.9V1341.7L664.5 1344.5V1383.8L665.5 1387.3V1348.7L666.5 1349.5V1388.6L667.5 1393.5V1352.6L668.5 1353.4V1392.7L669.5 1398.3V1355.6L670.5 1356.8V1397.4L671.5 1399.6V1354.4L672.5 1353.3V1402.3L673.5 1386V1351.4L674.5 1353.4V1392.2L675.5 1378.6V1347.9L676.5 1339V1363.8L677.5 1365V1326.6L678.5 1312.5V1341.4L679.5 1343.7V1295.4L680.5 1276.3V1309.8L681.5 1318.5V1260L682.5 1245.3V1282.5L683.5 1287.4V1231.3L684.5 1218.1V1255.7L685.5 1260.3V1207.6L686.5 1198.7V1232.7L687.5 1237V1195.6L688.5 1190.4V1213.6L689.5 1217.6V1191.7L690.5 1191.4V1205.3L691.5 1210.1V1192.2L692.5 1190.8V1213.1L693.5 1213.7V1178.8L694.5 1176.6V1217.1L695.5 1219.6V1172L696.5 1176.1V1221.5L697.5 1222.5V1181.7L698.5 1184.3V1223.4L699.5 1229.1V1186.4L700.5 1186.6V1232.5L701.5 1238V1197.4L702.5 1200.1V1243L703.5 1248.1V1207.8L704.5 1209.1V1250.1L705.5 1256.3V1211.8L706.5 1220.2V1259.7L707.5 1263.1V1221.5L708.5 1230.7V1266.1L709.5 1266.2V1237.7L710.5 1244.7V1274L711.5 1281.1V1249.9L712.5 1253V1286.7L713.5 1293.6V1254.5L714.5 1260.3V1295.8L715.5 1301.7V1266.8L716.5 1270V1305.4L717.5 1310.3V1273.5L718.5 1275.4V1311.8L719.5 1312.9V1273.9L720.5 1278.5V1315.6L721.5 1315.7V1276.6L722.5 1277.1V1318.5L723.5 1318.1V1277.5L724.5 1277.7V1320.4L725.5 1323.3V1278.9L726.5 1280.4V1319.2L727.5 1322V1279.7L728.5 1279V1325.3L729.5 1320.5V1278.2L730.5 1274.8V1320.7L731.5 1324.8V1275.2L732.5 1274.4V1317.2L733.5 1321.5V1284.1L734.5 1282.9V1313L735.5 1307.9V1280.5L736.5 1273.9V1310.4L737.5 1304.5V1272.9L738.5 1269.3V1298.2L739.5 1298.5V1269.5L740.5 1269.2V1296.5L741.5 1297.5V1268.8L742.5 1270.9V1300.9L743.5 1300.3V1270.5L744.5 1274.3V1304.3L745.5 1309.4V1273L746.5 1285.7V1314.1L747.5 1316.8V1271L748.5 1273.5V1306.2L749.5 1305.3V1271.8L750.5 1273.8V1309.6L751.5 1313.1V1275.6L752.5 1279V1320.6L753.5 1324.8V1282.9L754.5 1283.3V1326.4L755.5 1326.5V1286L756.5 1286.7V1326L757.5 1328.2V1288.4L758.5 1291.2V1333.3L759.5 1337.1V1290.9L760.5 1301.1V1340.7L761.5 1341V1301.2L762.5 1300.7V1341.1L763.5 1345.2V1300.2L764.5 1302.6V1346.1L765.5 1335.9V1302.1L766.5 1300.7V1328.5L767.5 1344.4V1305L768.5 1307.9V1340.9L769.5 1345.5V1303.1L770.5 1298.5V1347.6L771.5 1347.8V1302.3L772.5 1301.1V1346.7L773.5 1346.9V1302.2L774.5 1302.8V1342.4L775.5 1347.3V1303.2L776.5 1304.9V1347.8L777.5 1341.9V1302.4L778.5 1305.2V1348.2L779.5 1345.7V1302.5L780.5 1301.9V1346.4L781.5 1348.2V1301.6L782.5 1299.4V1342.4L783.5 1345.6V1300L784.5 1300.3V1344.8L785.5 1344.8V1300.2L786.5 1300.7V1344.8L787.5 1342.2V1300.4L788.5 1299V1341.9L789.5 1342.8V1298.1L790.5 1299.2V1344.4L791.5 1342.7V1300.3L792.5 1299.4V1342.9L793.5 1343.1V1300.1L794.5 1299V1332.3L795.5 1335.2V1298.1L796.5 1298.8V1342.7L797.5 1341.5V1300L798.5 1300.5V1340L799.5 1338.6V1300.2L800.5 1300.1V1341.8L801.5 1339.1V1296.2L802.5 1298.1V1340.8L803.5 1340.2V1296.9L804.5 1297V1337.3L805.5 1338.3V1297.4L806.5 1298V1341.6L807.5 1339.2V1299.3L808.5 1298.1V1337.9L809.5 1342.7V1298.7L810.5 1299.7V1338.2L811.5 1341.1V1298L812.5 1302.2V1338.3L813.5 1342.7V1297.7L814.5 1297.8V1343.1L815.5 1334.7V1297.1L816.5 1297.5V1343.7L817.5 1343.8V1299.9L818.5 1299V1341.7L819.5 1331V1300.4L820.5 1300V1342.8L821.5 1341.5V1301.9L822.5 1299.1V1344L823.5 1344.7V1299.5L824.5 1300.4V1342.1L825.5 1343.4V1302L826.5 1302.3V1343.9L827.5 1340V1301L828.5 1301.6V1346.6L829.5 1338.6V1302L830.5 1302.9V1344.8L831.5 1346.4V1303.5L832.5 1303.5V1346.2L833.5 1344.7V1303.2L834.5 1302V1347.1L835.5 1347.6V1305L836.5 1303V1344.7L837.5 1343.4V1302.7L838.5 1303.7V1344.2L839.5 1347.7V1304.7L840.5 1302.9V1332.1L841.5 1348.5V1308.2L842.5 1310.1V1347.4L843.5 1342.8V1310.7L844.5 1315.9V1348.5L845.5 1334V1318.5L846.5 1315.8V1339.1L847.5 1342.1V1313L848.5 1310.7V1344.5L849.5 1346V1313.4L850.5 1309.7V1348.5L851.5 1344.2V1307.8L852.5 1310.3V1350.5L853.5 1348.9V1307.3L854.5 1308V1346.5L855.5 1336.3V1305.9L856.5 1306.1V1350.5L857.5 1350.4V1306.7L858.5 1308.1V1345.7L859.5 1335.4V1309L860.5 1306.8V1349.9L861.5 1351.4V1311.5L862.5 1308V1348.4L863.5 1350.3V1307.7L864.5 1309.8V1348.8L865.5 1350.7V1310.2L866.5 1308.8V1347.4L867.5 1353.4V1309L868.5 1311.9V1352.8L869.5 1349.6V1309.7L870.5 1309.8V1349.6L871.5 1353.6V1311.9L872.5 1309.7V1351.1L873.5 1354.4V1311.9L874.5 1313.8V1353.1L875.5 1354.8V1311.2L876.5 1312.2V1353.1L877.5 1352.9V1314.1L878.5 1310.7V1343.1L879.5 1355.4V1313.6L880.5 1313.7V1355L881.5 1354.8V1313.5L882.5 1315V1355.2L883.5 1351.6V1315.2L884.5 1313.6V1354.1L885.5 1356.3V1315.2L886.5 1314.4V1353.6L887.5 1354.8V1315.7L888.5 1313.7V1351.8L889.5 1356.8V1313.6L890.5 1315.1V1357.3L891.5 1346.3V1316L892.5 1317.8V1356.8L893.5 1355.2V1315.2L894.5 1318.2V1355.7L895.5 1348.4V1315.6L896.5 1318.9V1357.3L897.5 1348.2V1317L898.5 1319.8V1345.6L899.5 1345.4V1317.5L900.5 1317.4V1357L901.5 1358.3V1317.5L902.5 1319.1V1360.2L903.5 1360.2V1322L904.5 1322.1V1359.6L905.5 1360.5V1322.3L906.5 1323.3V1360.6L907.5 1362.1V1326L908.5 1327.4V1361.3L909.5 1363.9V1325.5L910.5 1326.4V1360.9L911.5 1361.9V1326.2L912.5 1329.4V1365L913.5 1354.6V1325.2L914.5 1326.1V1355.1L915.5 1363.9V1324.3L916.5 1326.8V1366L917.5 1365V1326.1L918.5 1326.3V1363.3L919.5 1360.2V1327.3L920.5 1326.2V1365.1L921.5 1365V1327.5L922.5 1327.2V1358.7L923.5 1365.2V1327L924.5 1327.2V1363.8L925.5 1367.9V1330.5L926.5 1329V1367.4L927.5 1367.3V1329.4L928.5 1330.3V1366.9L929.5 1361.9V1330.8L930.5 1331.1V1368.6L931.5 1370.8V1331.6L932.5 1332.7V1365.8L933.5 1363.7V1332.5L934.5 1333.1V1367.5L935.5 1372.1V1333.6L936.5 1334V1370.6L937.5 1372.8V1334.5L938.5 1335.2V1365.9L939.5 1363.6V1337.4L940.5 1339V1361.5L941.5 1373V1336.9L942.5 1336.9V1362.2L943.5 1373.8V1337.9L944.5 1338.4V1374L945.5 1372.8V1341L946.5 1339.6V1373.6L947.5 1374.4V1340L948.5 1339.8V1375.3L949.5 1375.7V1342L950.5 1342.2V1371.7L951.5 1376.2V1343.5L952.5 1344.5V1375.7L953.5 1368.9V1342.7L954.5 1346.6V1377.6L955.5 1376.4V1343.9L956.5 1345.2V1376.6L957.5 1377.1V1345.4L958.5 1345.1V1372.9L959.5 1378V1346.7L960.5 1345.6V1379.8L961.5 1379.6V1347.3L962.5 1348.1V1378.1L963.5 1381.1V1348.2L964.5 1348V1380.4L965.5 1380.9V1348.5L966.5 1350.2V1382.5L967.5 1376.4V1349.6L968.5 1349.5V1381.4L969.5 1383.6V1351.7L970.5 1351.5V1376L971.5 1385.2V1349.9L972.5 1352.1V1385.4L973.5 1382.1V1351.2L974.5 1351.5V1384.6L975.5 1385.2V1351.9L976.5 1351.3V1384L977.5 1384.5V1350.5L978.5 1351V1387.3L979.5 1384.6V1350.7L980.5 1351.3V1382.9L981.5 1383.2V1351L982.5 1351.7V1386.8L983.5 1385.7V1351.1L984.5 1352.9V1389.3L985.5 1385.2V1352L986.5 1352.1V1384.4L987.5 1387.9V1351.1L988.5 1351.1V1389.5L989.5 1386.9V1351.1L990.5 1354.6V1390.2L991.5 1385V1354.4L992.5 1353.4V1381.6L993.5 1388.3V1357L994.5 1357.3V1381.6L995.5 1391.2V1357L996.5 1356.3V1376.8L997.5 1386.8V1352.4L998.5 1352.7V1386.4L999.5 1378.8V1352.1L1000.5 1351.1V1372.5L1001.5 1382.5V1351.7L1002.5 1351.7V1381.3L1003.5 1382.5V1351.3L1004.5 1352.7V1380.8L1005.5 1381.8V1354.3L1006.5 1352.6V1380.9L1007.5 1380.6V1352.8L1008.5 1352.6V1380.5L1009.5 1382.1V1352.5L1010.5 1351.8V1378.9L1011.5 1382.8V1354.4L1012.5 1358.4V1384.5L1013.5 1388.3V1357.3L1014.5 1356.2V1392.2L1015.5 1393.8V1355.7L1016.5 1353.4V1394.8L1017.5 1395.1V1355.4L1018.5 1354.5V1393.2L1019.5 1392.9V1354L1020.5 1355.2V1393.2L1021.5 1388.5V1357.8L1022.5 1353.4V1394.2L1023.5 1395.1V1353.3L1024.5 1354.8V1380.4L1025.5 1388.2V1353.5L1026.5 1354.4V1395.6L1027.5 1390.3V1352.4L1028.5 1354.7V1396.1L1029.5 1390.3V1353.8L1030.5 1353.1V1395.3L1031.5 1394.5V1352.4L1032.5 1354.7V1397L1033.5 1394.2V1353.7L1034.5 1353.4V1391.8L1035.5 1391.2V1355.6L1036.5 1353.4V1391.6L1037.5 1394.1V1354.1L1038.5 1353.8V1389.1L1039.5 1393.2V1351.4L1040.5 1354V1394.1L1041.5 1392.9V1351.2L1042.5 1352.1V1391L1043.5 1392.2V1351.2L1044.5 1353.3V1392.2L1045.5 1387V1350.5L1046.5 1353.2V1392.2L1047.5 1389.7V1355L1048.5 1355.7V1390.1L1049.5 1391.2V1359.4L1050.5 1355.3V1388.1L1051.5 1391.2V1355.1L1052.5 1351.7V1382.7L1053.5 1388.4V1350.5L1054.5 1353.7V1388.5L1055.5 1382.7V1356.9L1056.5 1355.3V1391.5L1057.5 1392.2V1356L1058.5 1355.7V1389.4L1059.5 1390.1V1356.4L1060.5 1353.4V1387.5L1061.5 1390.3V1356.1L1062.5 1357.7V1390.2L1063.5 1389.9V1356L1064.5 1355.3V1391.9L1065.5 1392.2V1352.2L1066.5 1347.6V1392L1067.5 1394.1V1349.4L1068.5 1347.6V1392.2L1069.5 1392V1347.9L1070.5 1349.1V1390.8L1071.5 1393.3V1351.5L1072.5 1347.6V1385.3L1073.5 1393.2V1347.4L1074.5 1349.4V1388.3L1075.5 1392V1348.7L1076.5 1347.1V1390.3L1077.5 1389.5V1347L1078.5 1346V1392.9L1079.5 1393.2V1346.5L1080.5 1346.1V1392.2L1081.5 1391.6V1346.6L1082.5 1347.7V1382.6L1083.5 1389.3V1348.2L1084.5 1345.6V1388.6L1085.5 1392.2V1346.1L1086.5 1348.2V1390.2L1087.5 1392.2V1346.2L1088.5 1348.8V1387.9L1089.5 1393V1344.7L1090.5 1345.9V1393.2L1091.5 1389.5V1345.5L1092.5 1345.9V1384.3L1093.5 1388.2V1347.9L1094.5 1348.2V1391.4L1095.5 1392V1345.6L1096.5 1346.2V1392.2L1097.5 1391.7V1347.6L1098.5 1347.6V1391.4L1099.5 1391.3V1349.2L1100.5 1344.4V1387.5L1101.5 1390.2V1344.3L1102.5 1344.7V1389.1L1103.5 1390.4V1343.3L1104.5 1345.3V1391.2L1105.5 1390.7V1343.6L1106.5 1344.8V1389.3L1107.5 1385.8V1343.6L1108.5 1343.2V1390.2L1109.5 1387.6V1343.7L1110.5 1345.3V1390.3L1111.5 1385.7V1342.7L1112.5 1344V1390.2L1113.5 1376.5V1344.3L1114.5 1345V1389.1L1115.5 1390V1343.7L1116.5 1342.6V1385.9L1117.5 1384.5V1343.2L1118.5 1342.3V1373.9L1119.5 1388.6V1341.7L1120.5 1343.3V1390.2L1121.5 1389.2V1343L1122.5 1344.5V1386.9L1123.5 1388.7V1343L1124.5 1342.7V1381.8L1125.5 1375.3V1342.1L1126.5 1340.8V1383.3L1127.5 1389.3V1341L1128.5 1341.8V1388.5L1129.5 1374.5V1340.9L1130.5 1340.7V1376.3L1131.5 1384.8V1342.7L1132.5 1340.4V1385.6L1133.5 1386.1V1340.8L1134.5 1339.8V1374.7L1135.5 1388.3V1340.2L1136.5 1339.7V1383.3L1137.5 1385.9V1340.8L1138.5 1338.3V1377.7L1139.5 1386.4V1338.9L1140.5 1338.8V1380.2L1141.5 1383.1V1341.6L1142.5 1340.7V1373.4L1143.5 1375.3V1341.1L1144.5 1339.8V1384.7L1145.5 1387.3V1341.6L1146.5 1341.5V1382.7L1147.5 1384.9V1340.2L1148.5 1342.1V1372.6L1149.5 1381.3V1340.1L1150.5 1338.8V1369.2L1151.5 1385.4V1340.4L1152.5 1340.5V1377.9L1153.5 1383.5V1338.3" fill="none" stroke="#0000ff" stroke-width="1.0" stroke-linejoin="round"/>
<path d="M169 1337.9V1373.4M172 1340.8V1364.4M175 1342.3V1365.6M178 1353.7V1376.8M182 1337.9V1368.2M183 1343.3V1380.5M185 1335.8V1368M186 1353.5V1376.9M191 1351V1380.8M193 1354.5V1380M195 1352.8V1367.6M200 1343.2V1371.9M201 1354.2V1371.5M202 1357V1383.7M203 1356.1V1379.2M214 1347.5V1381.5M226 1350V1380.9M227 1362V1372.1M229 1349.4V1382M234 1347.2V1376.8M236 1361V1382.2M241 1337.6V1379.7M243 1339.6V1372.6M244 1351V1361.3M248 1343.5V1354.7M250 1348.2V1373.6M252 1346.8V1362.6M255 1328.7V1346.3M257 1347.9V1360M259 1345.3V1363.7M268 1342.6V1354.2M275 1340.4V1362.3M279 1333.1V1354.4M284 1335.9V1351.2M297 1327.4V1359.3M303 1331.5V1347.1M304 1327.7V1344.8M305 1337.9V1358.4M311 1334.7V1346.3M312 1327.4V1344M314 1325.8V1343.6M316 1352.8V1361.7M320 1352.4V1362.8M321 1350.3V1361.5M324 1332.5V1352.6M326 1326.6V1356.1M336 1323.9V1351.5M337 1325.7V1360M339 1333.4V1346.5M340 1329.5V1346M342 1333.9V1362.1M343 1325.5V1348.9M345 1330.7V1349M346 1344.3V1360.2M349 1336.9V1366M351 1330.8V1358.2M353 1342.5V1359.4M356 1334.4V1348.5M359 1346.1V1364.1M365 1343.8V1373.8M370 1351.8V1376.5M373 1344.1V1363.9M374 1350.6V1375.6M375 1346.3V1372M376 1344.5V1363.6M378 1357.7V1375M379 1343.6V1365.8M381 1359V1374.7M385 1363.8V1386.8M388 1360.4V1378M391 1368.3V1384.8M393 1361.9V1386.7M395 1374.5V1387.8M396 1373.3V1378.1M397 1366.5V1379.4M402 1374.7V1393.9M410 1378.9V1392.8M412 1364V1399.1M413 1381.6V1403.9M420 1383.2V1404.2M421 1370.1V1401M423 1381.8V1409M428 1377.9V1406.2M434 1383V1416.6M435 1382.9V1416.5M441 1394.1V1410.6M442 1386.5V1403.4M443 1396.5V1417.2M446 1395V1411.9M450 1397.6V1419.8M451 1390.9V1409.1M455 1395V1416.4M456 1395.9V1415.1M457 1399V1416.7M464 1399.7V1412.9M465 1397.5V1412.3M466 1393.2V1416.4M468 1391.3V1411.1M469 1392.7V1405M470 1395.5V1419.9M473 1396.3V1415M475 1394.2V1420.8M485 1397.6V1417.6M486 1386.3V1414.1M487 1384.8V1413.7M493 1387.5V1407.1M496 1382.6V1407.3M498 1389.7V1413.3M501 1395V1408.1M505 1385.6V1400.5M506 1395.6V1402.3M508 1387.4V1400.4M509 1393.8V1406.1M511 1393.9V1403.1M512 1384.5V1404.5M514 1387.3V1400M528 1374V1394.4M531 1370.6V1386.3M537 1372.1V1389.6M540 1357.2V1386.7M541 1353.1V1383.2M552 1359.4V1374.6M556 1353.9V1375.9M560 1350.7V1374.5M562 1345.7V1377M567 1353.2V1367.9M571 1337.5V1369.9M575 1335.5V1360M576 1335.7V1355.4M581 1328.7V1354.3M582 1333.7V1353.3M583 1335.7V1348.8M586 1334.5V1355.6M588 1332.8V1349.9M592 1315.6V1352.3M594 1328.3V1342.4M595 1323.4V1342.2M597 1318.4V1339.9M605 1325V1344.9M609 1318.9V1332.5M612 1315.6V1332.7M617 1309V1331.9M620 1305.7V1331.2M628 1295.4V1328.8M629 1300.9V1333.1M632 1307.4V1324.8M633 1312.2V1325.4M635 1312.7V1327.6M636 1301.3V1324.8M644 1300.7V1336.6M645 1314.4V1332.9M646 1317.7V1331.4M647 1305.5V1340.5M652 1327.3V1339.4M660 1342.8V1356.6M661 1348.6V1365.3M662 1343.2V1360.8M671 1366.4V1395.1M676 1357.3V1374.1M688 1204.2V1225.1M689 1197.3V1212.5M691 1196.9V1202.3M693 1194.6V1206.7M696 1182.1V1211.1M698 1194.9V1212.1M701 1201.8V1219.2M718 1289.6V1308.9M720 1278.1V1308.3M722 1286.6V1314M723 1280.1V1311.1M732 1281V1309M735 1294.9V1310.1M744 1275.5V1290.3M745 1286.3V1298.5M748 1279V1301.9M749 1289.4V1295.2M756 1306.1V1316.4M757 1297.9V1323M758 1297.9V1315.5M760 1312.1V1334.7M763 1317.6V1333.4M764 1312.6V1340.5M772 1324.1V1339.9M774 1310.7V1342M775 1315.5V1338.2M779 1316.5V1340M782 1321.8V1332.4M785 1316.8V1340.1M786 1314.5V1332.5M788 1305.3V1334.8M817 1302.3V1335.6M819 1319.8V1335.3M821 1305V1337.4M822 1320.3V1333.9M825 1307.1V1331.9M829 1312.6V1335.1M831 1307.2V1334.4M833 1321.2V1340.1M835 1323.7V1332.9M836 1317.8V1332.7M838 1319.6V1340.8M848 1325.1V1340.7M854 1323.8V1339.6M855 1310.6V1344.4M861 1316.6V1344M866 1314.4V1341.5M870 1329V1345.5M871 1328.8V1345.7M872 1315.6V1340.3M873 1321V1348M880 1327.3V1344M882 1332.4V1351.6M883 1322.9V1352.5M887 1323V1346.8M890 1328.1V1351.2M895 1327.2V1346.4M899 1327V1340.6M902 1337.8V1348.7M912 1343.1V1359.2M913 1339.8V1358.3M916 1338.3V1356.3M919 1340.2V1358.9M928 1342.2V1361.2M929 1341.7V1362.8M932 1344.2V1363.6M935 1348.6V1364.9M937 1343.3V1368.4M938 1346.3V1361.5M939 1348V1362.8M943 1339.2V1355.1M945 1341.6V1361.7M946 1342.9V1365.8M947 1347.9V1361.7M949 1351.4V1368.5M952 1354.9V1368.4M954 1354.9V1364.8M960 1355.9V1368.5M967 1361.6V1380.7M973 1358.4V1381.9M981 1361.1V1378.1M984 1367.5V1374.8M987 1366.4V1376.5M989 1369.9V1386.7M992 1366V1379.4M993 1363.4V1377.1M994 1367.1V1377.5M1003 1355V1379.9M1006 1362.8V1372.2M1012 1367.9V1380.9M1015 1374V1380.4M1016 1370.2V1390.4M1017 1372.5V1386.2M1018 1365.5V1387.4M1029 1365.1V1384.2M1033 1368.2V1394.8M1034 1363.5V1382.7M1035 1358.1V1379.9M1036 1362.2V1381M1037 1358.3V1389.4M1038 1360.8V1388.4M1043 1355.7V1380.6M1044 1367.6V1380.8M1046 1367.4V1376.8M1054 1363.5V1386.1M1055 1361.8V1386.5M1059 1361.8V1378.1M1060 1361.3V1384.6M1062 1367.9V1382.4M1064 1371V1388.3M1065 1372.6V1379.3M1068 1353.6V1387.3M1074 1361.1V1378.7M1082 1356.6V1378.7M1085 1356.4V1383.7M1086 1356.9V1390.1M1087 1368.7V1378.1M1088 1352.7V1382.2M1094 1367.4V1375.6M1095 1361.5V1389.2M1101 1349.5V1374.2M1106 1365.4V1388.1M1108 1355.5V1372.4M1113 1355V1386.4M1114 1346.4V1367.8M1125 1351.6V1379.9M1126 1348.7V1371.4M1127 1347.1V1381.7M1128 1363.6V1376.5M1130 1348.8V1368.6M1132 1350.9V1375.3M1133 1362.4V1382.8M1134 1358.6V1381.1M1141 1344.2V1376.3M1142 1360.2V1377.3M1144 1343.5V1369.4M1147 1346.7V1368.9M1149 1357.1V1367M1150 1358V1373.2M1152 1352V1381.2" stroke="#fff" stroke-opacity="0.2" stroke-width="0.7" fill="none"/>
<polygon points="166.4,1340 167.1,1341.9 167.8,1340.5 168.5,1341.4 169.2,1341.1 169.9,1341.7 170.6,1341.9 171.3,1342 172,1341.1 172.7,1342.1 173.4,1342 173.4,1370.1 172.7,1369.6 172,1371.4 171.3,1370.3 170.6,1369.7 169.9,1371.4 169.2,1371.6 168.5,1371.3 167.8,1369.8 167.1,1371.1 166.4,1370.9" fill="#00ff00"/>
<polygon points="176.4,1340.5 177.1,1340.4 177.8,1339.6 178.5,1340.6 179.2,1339 179.9,1340.9 180.6,1340.3 181.3,1339 182,1340.4 182.7,1339.9 183.4,1340.3 184.1,1340 184.8,1339.6 185.5,1339.9 186.2,1340.2 186.9,1339.4 186.9,1370 186.2,1371 185.5,1370.3 184.8,1371.6 184.1,1370.8 183.4,1371.4 182.7,1369.7 182,1370 181.3,1370.8 180.6,1370.3 179.9,1370.5 179.2,1371.7 178.5,1370.9 177.8,1369.6 177.1,1371.7 176.4,1370.7" fill="#00ff00"/>
<polygon points="315.8,1337.2 316.5,1336.4 317.2,1336.7 317.9,1336.8 318.6,1336.6 319.3,1338.2 320,1337 320.7,1336.1 320.7,1347.9 320,1347 319.3,1346.3 318.6,1346.1 317.9,1346.4 317.2,1347 316.5,1346.5 315.8,1347.3" fill="#00ff00"/>
</g>
<text x="24.6" y="1484.2" font-size="16.3" text-anchor="start" class="b" textLength="51.3" lengthAdjust="spacingAndGlyphs">Time:</text>
<text x="165.4" y="1484.2" font-size="16.3" text-anchor="middle" class="b" textLength="81.1" lengthAdjust="spacingAndGlyphs">21:39:14</text>
<text x="412.7" y="1484.2" font-size="16.3" text-anchor="middle" class="b" textLength="81.1" lengthAdjust="spacingAndGlyphs">22:03:16</text>
<text x="660" y="1484.2" font-size="16.3" text-anchor="middle" class="b" textLength="81.1" lengthAdjust="spacingAndGlyphs">22:27:18</text>
<text x="907.3" y="1484.2" font-size="16.3" text-anchor="middle" class="b" textLength="81.1" lengthAdjust="spacingAndGlyphs">22:51:19</text>
<text x="1154.6" y="1484.2" font-size="16.3" text-anchor="middle" class="b" textLength="81.1" lengthAdjust="spacingAndGlyphs">23:15:21</text>
<text x="24.6" y="1508.8" font-size="16.3" text-anchor="start" class="b" textLength="84.5" lengthAdjust="spacingAndGlyphs">Rad(km):</text>
<text x="165.4" y="1508.8" font-size="16.3" text-anchor="middle" class="b" textLength="62.9" lengthAdjust="spacingAndGlyphs">7577.3</text>
<text x="412.7" y="1508.8" font-size="16.3" text-anchor="middle" class="b" textLength="62.9" lengthAdjust="spacingAndGlyphs">6916.7</text>
<text x="660" y="1508.8" font-size="16.3" text-anchor="middle" class="b" textLength="62.9" lengthAdjust="spacingAndGlyphs">6785.2</text>
<text x="907.3" y="1508.8" font-size="16.3" text-anchor="middle" class="b" textLength="62.9" lengthAdjust="spacingAndGlyphs">7453.9</text>
<text x="1154.6" y="1508.8" font-size="16.3" text-anchor="middle" class="b" textLength="62.9" lengthAdjust="spacingAndGlyphs">7652.8</text>
<text x="24.6" y="1533.5" font-size="16.3" text-anchor="start" class="b" textLength="35.7" lengthAdjust="spacingAndGlyphs">Lat:</text>
<text x="165.4" y="1533.5" font-size="16.3" text-anchor="middle" class="b" textLength="47" lengthAdjust="spacingAndGlyphs">-61.4</text>
<text x="412.7" y="1533.5" font-size="16.3" text-anchor="middle" class="b" textLength="47" lengthAdjust="spacingAndGlyphs">-33.1</text>
<text x="660" y="1533.5" font-size="16.3" text-anchor="middle" class="b" textLength="40.2" lengthAdjust="spacingAndGlyphs">61.8</text>
<text x="907.3" y="1533.5" font-size="16.3" text-anchor="middle" class="b" textLength="40.2" lengthAdjust="spacingAndGlyphs">28.9</text>
<text x="1154.6" y="1533.5" font-size="16.3" text-anchor="middle" class="b" textLength="47" lengthAdjust="spacingAndGlyphs">-45.8</text>
<text x="24.6" y="1558.2" font-size="16.3" text-anchor="start" class="b" textLength="39.7" lengthAdjust="spacingAndGlyphs">Lon:</text>
<text x="165.4" y="1558.2" font-size="16.3" text-anchor="middle" class="b" textLength="58.3" lengthAdjust="spacingAndGlyphs">-177.5</text>
<text x="412.7" y="1558.2" font-size="16.3" text-anchor="middle" class="b" textLength="47" lengthAdjust="spacingAndGlyphs">-26.4</text>
<text x="660" y="1558.2" font-size="16.3" text-anchor="middle" class="b" textLength="35.6" lengthAdjust="spacingAndGlyphs">-9.2</text>
<text x="907.3" y="1558.2" font-size="16.3" text-anchor="middle" class="b" textLength="51.6" lengthAdjust="spacingAndGlyphs">142.4</text>
<text x="1154.6" y="1558.2" font-size="16.3" text-anchor="middle" class="b" textLength="51.6" lengthAdjust="spacingAndGlyphs">150.8</text>
<text x="24.6" y="1582.9" font-size="16.3" text-anchor="start" class="b" textLength="47.1" lengthAdjust="spacingAndGlyphs">Mlat:</text>
<text x="165.4" y="1582.9" font-size="16.3" text-anchor="middle" class="b" textLength="47" lengthAdjust="spacingAndGlyphs">-62.4</text>
<text x="412.7" y="1582.9" font-size="16.3" text-anchor="middle" class="b" textLength="47" lengthAdjust="spacingAndGlyphs">-26.2</text>
<text x="660" y="1582.9" font-size="16.3" text-anchor="middle" class="b" textLength="40.2" lengthAdjust="spacingAndGlyphs">64.7</text>
<text x="907.3" y="1582.9" font-size="16.3" text-anchor="middle" class="b" textLength="40.2" lengthAdjust="spacingAndGlyphs">21.0</text>
<text x="1154.6" y="1582.9" font-size="16.3" text-anchor="middle" class="b" textLength="47" lengthAdjust="spacingAndGlyphs">-52.3</text>
<text x="24.6" y="1607.4" font-size="16.3" text-anchor="start" class="b" textLength="36.1" lengthAdjust="spacingAndGlyphs">Mlt:</text>
<text x="165.4" y="1607.4" font-size="16.3" text-anchor="middle" class="b" textLength="62.9" lengthAdjust="spacingAndGlyphs">11.120</text>
<text x="412.7" y="1607.4" font-size="16.3" text-anchor="middle" class="b" textLength="62.9" lengthAdjust="spacingAndGlyphs">20.144</text>
<text x="660" y="1607.4" font-size="16.3" text-anchor="middle" class="b" textLength="62.9" lengthAdjust="spacingAndGlyphs">23.150</text>
<text x="907.3" y="1607.4" font-size="16.3" text-anchor="middle" class="b" textLength="51.6" lengthAdjust="spacingAndGlyphs">8.279</text>
<text x="1154.6" y="1607.4" font-size="16.3" text-anchor="middle" class="b" textLength="51.6" lengthAdjust="spacingAndGlyphs">9.942</text>
<text x="1.6" y="1643.8" font-size="16.3" text-anchor="start" class="b" textLength="1253.5" lengthAdjust="spacingAndGlyphs">Residual of MGF_20170903_213914_231521_v2.1.0.lv2 on 14-Jun-2024 15:05:58 (calibration cas_mgf_7day_cal_2017_09_01_v2.1.mat )</text>
</svg></body></html>
